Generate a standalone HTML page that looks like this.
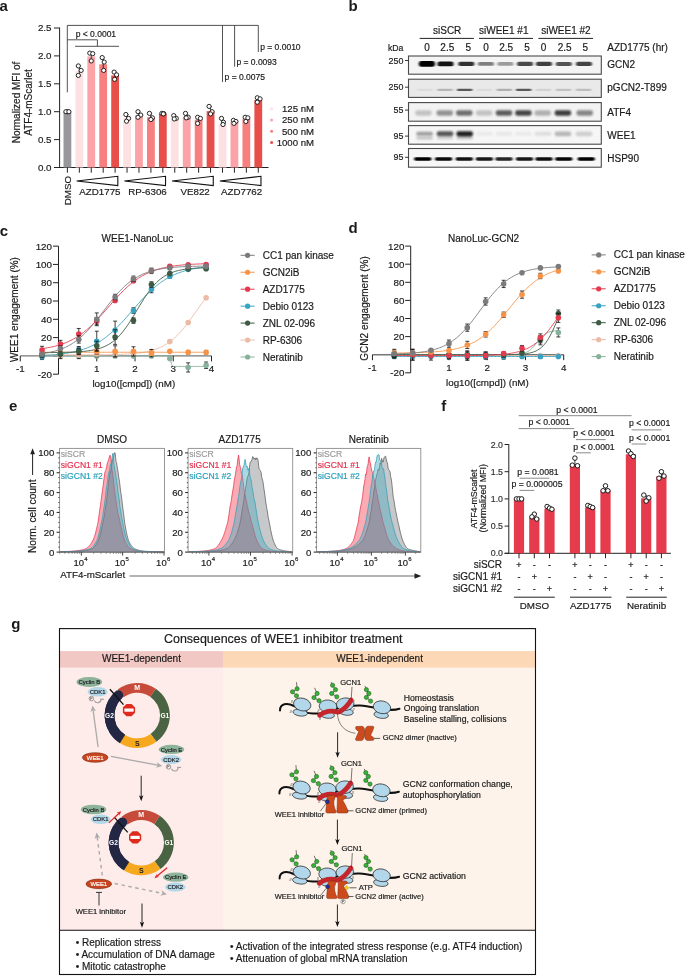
<!DOCTYPE html>
<html><head><meta charset="utf-8"><style>
html,body{margin:0;padding:0;background:#fff;}
body{width:685px;height:976px;overflow:hidden;}
svg{display:block;font-family:"Liberation Sans", sans-serif;will-change:transform;}
</style></head><body>
<svg width="685" height="976" viewBox="0 0 685 976">
<defs>
<filter id="bl1" x="-50%" y="-100%" width="200%" height="300%"><feGaussianBlur stdDeviation="1.0 0.7"/></filter>
<filter id="bl2" x="-50%" y="-100%" width="200%" height="300%"><feGaussianBlur stdDeviation="2 1.5"/></filter>
<filter id="bl3" x="-50%" y="-100%" width="200%" height="300%"><feGaussianBlur stdDeviation="1.3 1.1"/></filter>
</defs>
<g fill="#1a1a1a">
<text x="-0.60" y="10.70" font-size="15" font-weight="bold">a</text>
<line x1="59.60" y1="27.60" x2="59.60" y2="168.00" stroke="#222" stroke-width="1"/>
<line x1="54.00" y1="167.50" x2="59.60" y2="167.50" stroke="#222" stroke-width="1"/>
<text x="51.50" y="170.90" font-size="9.8" text-anchor="end" fill="#222" stroke="#222" stroke-width="0.18">0.0</text>
<line x1="54.00" y1="139.60" x2="59.60" y2="139.60" stroke="#222" stroke-width="1"/>
<text x="51.50" y="143.00" font-size="9.8" text-anchor="end" fill="#222" stroke="#222" stroke-width="0.18">0.5</text>
<line x1="54.00" y1="111.70" x2="59.60" y2="111.70" stroke="#222" stroke-width="1"/>
<text x="51.50" y="115.10" font-size="9.8" text-anchor="end" fill="#222" stroke="#222" stroke-width="0.18">1.0</text>
<line x1="54.00" y1="83.80" x2="59.60" y2="83.80" stroke="#222" stroke-width="1"/>
<text x="51.50" y="87.20" font-size="9.8" text-anchor="end" fill="#222" stroke="#222" stroke-width="0.18">1.5</text>
<line x1="54.00" y1="55.90" x2="59.60" y2="55.90" stroke="#222" stroke-width="1"/>
<text x="51.50" y="59.30" font-size="9.8" text-anchor="end" fill="#222" stroke="#222" stroke-width="0.18">2.0</text>
<line x1="54.00" y1="28.00" x2="59.60" y2="28.00" stroke="#222" stroke-width="1"/>
<text x="51.50" y="31.40" font-size="9.8" text-anchor="end" fill="#222" stroke="#222" stroke-width="0.18">2.5</text>
<line x1="54.00" y1="167.50" x2="268.50" y2="167.50" stroke="#222" stroke-width="1"/>
<rect x="63.50" y="111.70" width="7.80" height="55.80" fill="#98979c"/>
<line x1="67.40" y1="167.50" x2="67.40" y2="172.70" stroke="#222" stroke-width="1"/>
<rect x="75.43" y="70.97" width="7.80" height="96.53" fill="#fde0e2"/>
<line x1="79.33" y1="167.50" x2="79.33" y2="172.70" stroke="#222" stroke-width="1"/>
<rect x="87.36" y="56.46" width="7.80" height="111.04" fill="#fba3a6"/>
<line x1="91.26" y1="167.50" x2="91.26" y2="172.70" stroke="#222" stroke-width="1"/>
<rect x="99.29" y="64.27" width="7.80" height="103.23" fill="#f77f80"/>
<line x1="103.19" y1="167.50" x2="103.19" y2="172.70" stroke="#222" stroke-width="1"/>
<rect x="111.22" y="75.43" width="7.80" height="92.07" fill="#e84f4a"/>
<line x1="115.12" y1="167.50" x2="115.12" y2="172.70" stroke="#222" stroke-width="1"/>
<rect x="123.15" y="117.84" width="7.80" height="49.66" fill="#fde0e2"/>
<line x1="127.05" y1="167.50" x2="127.05" y2="172.70" stroke="#222" stroke-width="1"/>
<rect x="135.08" y="115.33" width="7.80" height="52.17" fill="#fba3a6"/>
<line x1="138.98" y1="167.50" x2="138.98" y2="172.70" stroke="#222" stroke-width="1"/>
<rect x="147.01" y="117.28" width="7.80" height="50.22" fill="#f77f80"/>
<line x1="150.91" y1="167.50" x2="150.91" y2="172.70" stroke="#222" stroke-width="1"/>
<rect x="158.94" y="113.93" width="7.80" height="53.57" fill="#e84f4a"/>
<line x1="162.84" y1="167.50" x2="162.84" y2="172.70" stroke="#222" stroke-width="1"/>
<rect x="170.87" y="118.40" width="7.80" height="49.10" fill="#fde0e2"/>
<line x1="174.77" y1="167.50" x2="174.77" y2="172.70" stroke="#222" stroke-width="1"/>
<rect x="182.80" y="116.72" width="7.80" height="50.78" fill="#fba3a6"/>
<line x1="186.70" y1="167.50" x2="186.70" y2="172.70" stroke="#222" stroke-width="1"/>
<rect x="194.73" y="119.68" width="7.80" height="47.82" fill="#f77f80"/>
<line x1="198.63" y1="167.50" x2="198.63" y2="172.70" stroke="#222" stroke-width="1"/>
<rect x="206.66" y="111.14" width="7.80" height="56.36" fill="#e84f4a"/>
<line x1="210.56" y1="167.50" x2="210.56" y2="172.70" stroke="#222" stroke-width="1"/>
<rect x="218.59" y="123.98" width="7.80" height="43.52" fill="#fde0e2"/>
<line x1="222.49" y1="167.50" x2="222.49" y2="172.70" stroke="#222" stroke-width="1"/>
<rect x="230.52" y="121.52" width="7.80" height="45.98" fill="#fba3a6"/>
<line x1="234.42" y1="167.50" x2="234.42" y2="172.70" stroke="#222" stroke-width="1"/>
<rect x="242.45" y="118.95" width="7.80" height="48.55" fill="#f77f80"/>
<line x1="246.35" y1="167.50" x2="246.35" y2="172.70" stroke="#222" stroke-width="1"/>
<rect x="254.38" y="99.98" width="7.80" height="67.52" fill="#e84f4a"/>
<line x1="258.28" y1="167.50" x2="258.28" y2="172.70" stroke="#222" stroke-width="1"/>
<circle cx="67.40" cy="111.70" r="2.10" fill="#fff" stroke="#111" stroke-width="0.9"/>
<circle cx="65.90" cy="111.70" r="2.10" fill="#fff" stroke="#111" stroke-width="0.9"/>
<circle cx="68.90" cy="111.70" r="2.10" fill="#fff" stroke="#111" stroke-width="0.9"/>
<line x1="79.33" y1="65.94" x2="79.33" y2="75.43" stroke="#111" stroke-width="0.8"/>
<line x1="78.03" y1="65.94" x2="80.63" y2="65.94" stroke="#111" stroke-width="0.8"/>
<line x1="78.03" y1="75.43" x2="80.63" y2="75.43" stroke="#111" stroke-width="0.8"/>
<circle cx="78.33" cy="65.94" r="2.10" fill="#fff" stroke="#111" stroke-width="0.9"/>
<circle cx="81.13" cy="70.41" r="2.10" fill="#fff" stroke="#111" stroke-width="0.9"/>
<circle cx="78.33" cy="75.43" r="2.10" fill="#fff" stroke="#111" stroke-width="0.9"/>
<line x1="91.26" y1="53.11" x2="91.26" y2="60.92" stroke="#111" stroke-width="0.8"/>
<line x1="89.96" y1="53.11" x2="92.56" y2="53.11" stroke="#111" stroke-width="0.8"/>
<line x1="89.96" y1="60.92" x2="92.56" y2="60.92" stroke="#111" stroke-width="0.8"/>
<circle cx="89.76" cy="53.11" r="2.10" fill="#fff" stroke="#111" stroke-width="0.9"/>
<circle cx="92.76" cy="53.67" r="2.10" fill="#fff" stroke="#111" stroke-width="0.9"/>
<circle cx="91.26" cy="60.92" r="2.10" fill="#fff" stroke="#111" stroke-width="0.9"/>
<line x1="103.19" y1="57.57" x2="103.19" y2="70.41" stroke="#111" stroke-width="0.8"/>
<line x1="101.89" y1="57.57" x2="104.49" y2="57.57" stroke="#111" stroke-width="0.8"/>
<line x1="101.89" y1="70.41" x2="104.49" y2="70.41" stroke="#111" stroke-width="0.8"/>
<circle cx="102.19" cy="57.57" r="2.10" fill="#fff" stroke="#111" stroke-width="0.9"/>
<circle cx="104.19" cy="62.04" r="2.10" fill="#fff" stroke="#111" stroke-width="0.9"/>
<circle cx="103.69" cy="70.41" r="2.10" fill="#fff" stroke="#111" stroke-width="0.9"/>
<line x1="115.12" y1="72.08" x2="115.12" y2="79.34" stroke="#111" stroke-width="0.8"/>
<line x1="113.82" y1="72.08" x2="116.42" y2="72.08" stroke="#111" stroke-width="0.8"/>
<line x1="113.82" y1="79.34" x2="116.42" y2="79.34" stroke="#111" stroke-width="0.8"/>
<circle cx="114.12" cy="72.08" r="2.10" fill="#fff" stroke="#111" stroke-width="0.9"/>
<circle cx="116.62" cy="74.87" r="2.10" fill="#fff" stroke="#111" stroke-width="0.9"/>
<circle cx="114.62" cy="79.34" r="2.10" fill="#fff" stroke="#111" stroke-width="0.9"/>
<line x1="127.05" y1="114.49" x2="127.05" y2="121.19" stroke="#111" stroke-width="0.8"/>
<line x1="125.75" y1="114.49" x2="128.35" y2="114.49" stroke="#111" stroke-width="0.8"/>
<line x1="125.75" y1="121.19" x2="128.35" y2="121.19" stroke="#111" stroke-width="0.8"/>
<circle cx="125.85" cy="114.49" r="2.10" fill="#fff" stroke="#111" stroke-width="0.9"/>
<circle cx="128.55" cy="118.40" r="2.10" fill="#fff" stroke="#111" stroke-width="0.9"/>
<circle cx="126.55" cy="121.19" r="2.10" fill="#fff" stroke="#111" stroke-width="0.9"/>
<line x1="138.98" y1="111.70" x2="138.98" y2="117.28" stroke="#111" stroke-width="0.8"/>
<line x1="137.68" y1="111.70" x2="140.28" y2="111.70" stroke="#111" stroke-width="0.8"/>
<line x1="137.68" y1="117.28" x2="140.28" y2="117.28" stroke="#111" stroke-width="0.8"/>
<circle cx="137.98" cy="111.70" r="2.10" fill="#fff" stroke="#111" stroke-width="0.9"/>
<circle cx="140.78" cy="115.05" r="2.10" fill="#fff" stroke="#111" stroke-width="0.9"/>
<circle cx="137.98" cy="117.28" r="2.10" fill="#fff" stroke="#111" stroke-width="0.9"/>
<line x1="150.91" y1="113.37" x2="150.91" y2="119.51" stroke="#111" stroke-width="0.8"/>
<line x1="149.61" y1="113.37" x2="152.21" y2="113.37" stroke="#111" stroke-width="0.8"/>
<line x1="149.61" y1="119.51" x2="152.21" y2="119.51" stroke="#111" stroke-width="0.8"/>
<circle cx="149.41" cy="113.37" r="2.10" fill="#fff" stroke="#111" stroke-width="0.9"/>
<circle cx="152.41" cy="117.84" r="2.10" fill="#fff" stroke="#111" stroke-width="0.9"/>
<circle cx="150.91" cy="119.51" r="2.10" fill="#fff" stroke="#111" stroke-width="0.9"/>
<line x1="162.84" y1="113.37" x2="162.84" y2="113.93" stroke="#111" stroke-width="0.8"/>
<line x1="161.54" y1="113.37" x2="164.14" y2="113.37" stroke="#111" stroke-width="0.8"/>
<line x1="161.54" y1="113.93" x2="164.14" y2="113.93" stroke="#111" stroke-width="0.8"/>
<circle cx="161.84" cy="113.37" r="2.10" fill="#fff" stroke="#111" stroke-width="0.9"/>
<circle cx="163.84" cy="113.65" r="2.10" fill="#fff" stroke="#111" stroke-width="0.9"/>
<circle cx="163.34" cy="113.93" r="2.10" fill="#fff" stroke="#111" stroke-width="0.9"/>
<line x1="174.77" y1="115.61" x2="174.77" y2="118.95" stroke="#111" stroke-width="0.8"/>
<line x1="173.47" y1="115.61" x2="176.07" y2="115.61" stroke="#111" stroke-width="0.8"/>
<line x1="173.47" y1="118.95" x2="176.07" y2="118.95" stroke="#111" stroke-width="0.8"/>
<circle cx="173.77" cy="115.61" r="2.10" fill="#fff" stroke="#111" stroke-width="0.9"/>
<circle cx="176.27" cy="118.40" r="2.10" fill="#fff" stroke="#111" stroke-width="0.9"/>
<circle cx="174.27" cy="118.95" r="2.10" fill="#fff" stroke="#111" stroke-width="0.9"/>
<line x1="186.70" y1="113.37" x2="186.70" y2="117.84" stroke="#111" stroke-width="0.8"/>
<line x1="185.40" y1="113.37" x2="188.00" y2="113.37" stroke="#111" stroke-width="0.8"/>
<line x1="185.40" y1="117.84" x2="188.00" y2="117.84" stroke="#111" stroke-width="0.8"/>
<circle cx="185.50" cy="113.37" r="2.10" fill="#fff" stroke="#111" stroke-width="0.9"/>
<circle cx="188.20" cy="117.28" r="2.10" fill="#fff" stroke="#111" stroke-width="0.9"/>
<circle cx="186.20" cy="117.84" r="2.10" fill="#fff" stroke="#111" stroke-width="0.9"/>
<line x1="198.63" y1="117.28" x2="198.63" y2="123.42" stroke="#111" stroke-width="0.8"/>
<line x1="197.33" y1="117.28" x2="199.93" y2="117.28" stroke="#111" stroke-width="0.8"/>
<line x1="197.33" y1="123.42" x2="199.93" y2="123.42" stroke="#111" stroke-width="0.8"/>
<circle cx="197.63" cy="117.28" r="2.10" fill="#fff" stroke="#111" stroke-width="0.9"/>
<circle cx="200.43" cy="118.40" r="2.10" fill="#fff" stroke="#111" stroke-width="0.9"/>
<circle cx="197.63" cy="123.42" r="2.10" fill="#fff" stroke="#111" stroke-width="0.9"/>
<line x1="210.56" y1="106.40" x2="210.56" y2="113.93" stroke="#111" stroke-width="0.8"/>
<line x1="209.26" y1="106.40" x2="211.86" y2="106.40" stroke="#111" stroke-width="0.8"/>
<line x1="209.26" y1="113.93" x2="211.86" y2="113.93" stroke="#111" stroke-width="0.8"/>
<circle cx="209.06" cy="106.40" r="2.10" fill="#fff" stroke="#111" stroke-width="0.9"/>
<circle cx="212.06" cy="111.70" r="2.10" fill="#fff" stroke="#111" stroke-width="0.9"/>
<circle cx="210.56" cy="113.93" r="2.10" fill="#fff" stroke="#111" stroke-width="0.9"/>
<line x1="222.49" y1="118.40" x2="222.49" y2="124.53" stroke="#111" stroke-width="0.8"/>
<line x1="221.19" y1="118.40" x2="223.79" y2="118.40" stroke="#111" stroke-width="0.8"/>
<line x1="221.19" y1="124.53" x2="223.79" y2="124.53" stroke="#111" stroke-width="0.8"/>
<circle cx="221.49" cy="118.40" r="2.10" fill="#fff" stroke="#111" stroke-width="0.9"/>
<circle cx="223.49" cy="122.30" r="2.10" fill="#fff" stroke="#111" stroke-width="0.9"/>
<circle cx="222.99" cy="124.53" r="2.10" fill="#fff" stroke="#111" stroke-width="0.9"/>
<line x1="234.42" y1="120.35" x2="234.42" y2="123.42" stroke="#111" stroke-width="0.8"/>
<line x1="233.12" y1="120.35" x2="235.72" y2="120.35" stroke="#111" stroke-width="0.8"/>
<line x1="233.12" y1="123.42" x2="235.72" y2="123.42" stroke="#111" stroke-width="0.8"/>
<circle cx="233.42" cy="120.35" r="2.10" fill="#fff" stroke="#111" stroke-width="0.9"/>
<circle cx="235.92" cy="121.47" r="2.10" fill="#fff" stroke="#111" stroke-width="0.9"/>
<circle cx="233.92" cy="123.42" r="2.10" fill="#fff" stroke="#111" stroke-width="0.9"/>
<line x1="246.35" y1="117.28" x2="246.35" y2="121.47" stroke="#111" stroke-width="0.8"/>
<line x1="245.05" y1="117.28" x2="247.65" y2="117.28" stroke="#111" stroke-width="0.8"/>
<line x1="245.05" y1="121.47" x2="247.65" y2="121.47" stroke="#111" stroke-width="0.8"/>
<circle cx="245.15" cy="117.28" r="2.10" fill="#fff" stroke="#111" stroke-width="0.9"/>
<circle cx="247.85" cy="117.84" r="2.10" fill="#fff" stroke="#111" stroke-width="0.9"/>
<circle cx="245.85" cy="121.47" r="2.10" fill="#fff" stroke="#111" stroke-width="0.9"/>
<line x1="258.28" y1="97.75" x2="258.28" y2="102.21" stroke="#111" stroke-width="0.8"/>
<line x1="256.98" y1="97.75" x2="259.58" y2="97.75" stroke="#111" stroke-width="0.8"/>
<line x1="256.98" y1="102.21" x2="259.58" y2="102.21" stroke="#111" stroke-width="0.8"/>
<circle cx="257.28" cy="97.75" r="2.10" fill="#fff" stroke="#111" stroke-width="0.9"/>
<circle cx="260.08" cy="98.87" r="2.10" fill="#fff" stroke="#111" stroke-width="0.9"/>
<circle cx="257.28" cy="102.21" r="2.10" fill="#fff" stroke="#111" stroke-width="0.9"/>
<path d="M76.63,181 L117.82,176.3 L117.82,185.6 Z" fill="none" stroke="#111" stroke-width="1.1" stroke-linejoin="miter"/>
<path d="M124.35,181 L165.54,176.3 L165.54,185.6 Z" fill="none" stroke="#111" stroke-width="1.1" stroke-linejoin="miter"/>
<path d="M172.07,181 L213.26,176.3 L213.26,185.6 Z" fill="none" stroke="#111" stroke-width="1.1" stroke-linejoin="miter"/>
<path d="M219.79,181 L260.98,176.3 L260.98,185.6 Z" fill="none" stroke="#111" stroke-width="1.1" stroke-linejoin="miter"/>
<text x="79.30" y="195.00" font-size="9.75" stroke="#1a1a1a" stroke-width="0.18">AZD1775</text>
<text x="128.30" y="195.00" font-size="9.75" stroke="#1a1a1a" stroke-width="0.18">RP-6306</text>
<text x="180.50" y="195.00" font-size="9.75" stroke="#1a1a1a" stroke-width="0.18">VE822</text>
<text x="221.00" y="195.00" font-size="9.75" stroke="#1a1a1a" stroke-width="0.18">AZD7762</text>
<text x="71.00" y="176.00" font-size="9.75" text-anchor="end" stroke="#1a1a1a" stroke-width="0.18" transform="rotate(-90 71.00 176.00)">DMSO</text>
<text x="20.00" y="102.50" font-size="10" text-anchor="middle" stroke="#1a1a1a" stroke-width="0.18" transform="rotate(-90 20.00 102.50)">Normalized MFI of</text>
<text x="32.20" y="102.50" font-size="10" text-anchor="middle" stroke="#1a1a1a" stroke-width="0.18" transform="rotate(-90 32.20 102.50)">ATF4-mScarlet</text>
<path d="M67.30,92.30 L67.30,25.40 L258.30,25.40 L258.30,52.00" fill="none" stroke="#333" stroke-width="0.85"/>
<line x1="222.50" y1="25.40" x2="222.50" y2="82.10" stroke="#333" stroke-width="0.85"/>
<line x1="234.60" y1="25.40" x2="234.60" y2="66.70" stroke="#333" stroke-width="0.85"/>
<path d="M67.30,39.80 L97.40,39.80 L97.40,46.30" fill="none" stroke="#333" stroke-width="0.85"/>
<line x1="75.10" y1="46.30" x2="119.00" y2="46.30" stroke="#333" stroke-width="0.85"/>
<text x="75.70" y="36.60" font-size="8.5" stroke="#1a1a1a" stroke-width="0.18">p &lt; 0.0001</text>
<text x="260.20" y="50.00" font-size="8.5" stroke="#1a1a1a" stroke-width="0.18">p = 0.0010</text>
<text x="236.40" y="64.60" font-size="8.5" stroke="#1a1a1a" stroke-width="0.18">p = 0.0093</text>
<text x="224.60" y="79.50" font-size="8.5" stroke="#1a1a1a" stroke-width="0.18">p = 0.0075</text>
<circle cx="271.60" cy="108.80" r="1.50" fill="#fde0e2"/>
<text x="314.00" y="112.10" font-size="9.6" text-anchor="end" stroke="#1a1a1a" stroke-width="0.18">125 nM</text>
<circle cx="271.60" cy="120.00" r="1.50" fill="#fba3a6"/>
<text x="314.00" y="123.30" font-size="9.6" text-anchor="end" stroke="#1a1a1a" stroke-width="0.18">250 nM</text>
<circle cx="271.60" cy="131.20" r="1.50" fill="#f77f80"/>
<text x="314.00" y="134.50" font-size="9.6" text-anchor="end" stroke="#1a1a1a" stroke-width="0.18">500 nM</text>
<circle cx="271.60" cy="142.40" r="1.50" fill="#e84f4a"/>
<text x="314.00" y="145.70" font-size="9.6" text-anchor="end" stroke="#1a1a1a" stroke-width="0.18">1000 nM</text>
<text x="348.60" y="10.70" font-size="15" font-weight="bold">b</text>
<text x="433.00" y="34.30" font-size="10" stroke="#1a1a1a" stroke-width="0.18">siSCR</text>
<text x="479.00" y="34.30" font-size="10" stroke="#1a1a1a" stroke-width="0.18">siWEE1 #1</text>
<text x="541.20" y="34.30" font-size="10" stroke="#1a1a1a" stroke-width="0.18">siWEE1 #2</text>
<line x1="419.70" y1="38.40" x2="473.90" y2="38.40" stroke="#222" stroke-width="1"/>
<line x1="479.00" y1="38.40" x2="533.00" y2="38.40" stroke="#222" stroke-width="1"/>
<line x1="538.40" y1="38.40" x2="593.00" y2="38.40" stroke="#222" stroke-width="1"/>
<text x="388.00" y="51.20" font-size="8.7" stroke="#1a1a1a" stroke-width="0.18">kDa</text>
<text x="427.00" y="51.30" font-size="10" text-anchor="middle" stroke="#1a1a1a" stroke-width="0.18">0</text>
<text x="447.30" y="51.30" font-size="10" text-anchor="middle" stroke="#1a1a1a" stroke-width="0.18">2.5</text>
<text x="468.30" y="51.30" font-size="10" text-anchor="middle" stroke="#1a1a1a" stroke-width="0.18">5</text>
<text x="486.10" y="51.30" font-size="10" text-anchor="middle" stroke="#1a1a1a" stroke-width="0.18">0</text>
<text x="506.20" y="51.30" font-size="10" text-anchor="middle" stroke="#1a1a1a" stroke-width="0.18">2.5</text>
<text x="527.00" y="51.30" font-size="10" text-anchor="middle" stroke="#1a1a1a" stroke-width="0.18">5</text>
<text x="543.50" y="51.30" font-size="10" text-anchor="middle" stroke="#1a1a1a" stroke-width="0.18">0</text>
<text x="564.60" y="51.30" font-size="10" text-anchor="middle" stroke="#1a1a1a" stroke-width="0.18">2.5</text>
<text x="585.40" y="51.30" font-size="10" text-anchor="middle" stroke="#1a1a1a" stroke-width="0.18">5</text>
<text x="607.30" y="51.30" font-size="10" stroke="#1a1a1a" stroke-width="0.18">AZD1775 (hr)</text>
<rect x="408.50" y="56.00" width="192.80" height="18.20" fill="#f4f4f4"/>
<g filter="url(#bl1)">
<rect x="418.90" y="61.00" width="16.00" height="5.80" fill="#000" rx="2.32" fill-opacity="1.00"/>
<rect x="437.50" y="61.50" width="16.00" height="4.80" fill="#000" rx="1.92" fill-opacity="0.92"/>
<rect x="458.30" y="61.70" width="16.00" height="4.40" fill="#000" rx="1.76" fill-opacity="0.80"/>
<rect x="477.90" y="62.00" width="16.00" height="3.80" fill="#000" rx="1.52" fill-opacity="0.48"/>
<rect x="497.40" y="62.00" width="16.00" height="3.80" fill="#000" rx="1.52" fill-opacity="0.36"/>
<rect x="517.00" y="61.80" width="16.00" height="4.20" fill="#000" rx="1.68" fill-opacity="0.70"/>
<rect x="536.00" y="61.80" width="16.00" height="4.20" fill="#000" rx="1.68" fill-opacity="0.74"/>
<rect x="555.80" y="61.90" width="16.00" height="4.00" fill="#000" rx="1.60" fill-opacity="0.66"/>
<rect x="576.00" y="61.80" width="16.00" height="4.20" fill="#000" rx="1.68" fill-opacity="0.72"/>
</g>
<rect x="408.50" y="56.00" width="192.80" height="18.20" fill="none" stroke="#4a4a4a" stroke-width="1.1"/>
<line x1="405.00" y1="60.50" x2="408.50" y2="60.50" stroke="#222" stroke-width="0.9"/>
<text x="403.40" y="63.60" font-size="8.9" text-anchor="end" stroke="#1a1a1a" stroke-width="0.18">250</text>
<text x="607.30" y="68.40" font-size="10" stroke="#1a1a1a" stroke-width="0.18">GCN2</text>
<rect x="408.50" y="79.20" width="192.80" height="18.20" fill="#e9e9e9"/>
<g filter="url(#bl1)">
<rect x="417.25" y="88.70" width="15.50" height="2.20" fill="#000" rx="0.88" fill-opacity="0.06"/>
<rect x="437.25" y="88.70" width="15.50" height="2.20" fill="#000" rx="0.88" fill-opacity="0.22"/>
<rect x="456.95" y="88.70" width="15.50" height="2.20" fill="#000" rx="0.88" fill-opacity="0.62"/>
<rect x="476.75" y="88.70" width="15.50" height="2.20" fill="#000" rx="0.88" fill-opacity="0.06"/>
<rect x="496.55" y="88.70" width="15.50" height="2.20" fill="#000" rx="0.88" fill-opacity="0.25"/>
<rect x="515.95" y="88.70" width="15.50" height="2.20" fill="#000" rx="0.88" fill-opacity="0.62"/>
<rect x="535.75" y="88.70" width="15.50" height="2.20" fill="#000" rx="0.88" fill-opacity="0.10"/>
<rect x="555.75" y="88.70" width="15.50" height="2.20" fill="#000" rx="0.88" fill-opacity="0.17"/>
<rect x="575.75" y="88.70" width="15.50" height="2.20" fill="#000" rx="0.88" fill-opacity="0.19"/>
</g>
<rect x="408.50" y="79.20" width="192.80" height="18.20" fill="none" stroke="#4a4a4a" stroke-width="1.1"/>
<line x1="405.00" y1="87.20" x2="408.50" y2="87.20" stroke="#222" stroke-width="0.9"/>
<text x="403.40" y="90.30" font-size="8.9" text-anchor="end" stroke="#1a1a1a" stroke-width="0.18">250</text>
<text x="607.30" y="91.20" font-size="10" stroke="#1a1a1a" stroke-width="0.18">pGCN2-T899</text>
<rect x="408.50" y="102.60" width="192.80" height="18.60" fill="#f3f3f3"/>
<g filter="url(#bl3)">
<rect x="415.25" y="110.30" width="16.50" height="5.40" fill="#000" rx="2.16" fill-opacity="0.20"/>
<rect x="436.45" y="110.30" width="16.50" height="5.40" fill="#000" rx="2.16" fill-opacity="0.40"/>
<rect x="456.05" y="110.30" width="16.50" height="5.40" fill="#000" rx="2.16" fill-opacity="0.55"/>
<rect x="475.85" y="110.30" width="16.50" height="5.40" fill="#000" rx="2.16" fill-opacity="0.20"/>
<rect x="495.75" y="110.30" width="16.50" height="5.40" fill="#000" rx="2.16" fill-opacity="0.62"/>
<rect x="515.15" y="110.30" width="16.50" height="5.40" fill="#000" rx="2.16" fill-opacity="0.72"/>
<rect x="534.45" y="110.30" width="16.50" height="5.40" fill="#000" rx="2.16" fill-opacity="0.28"/>
<rect x="554.65" y="110.30" width="16.50" height="5.40" fill="#000" rx="2.16" fill-opacity="0.75"/>
<rect x="576.45" y="110.30" width="16.50" height="5.40" fill="#000" rx="2.16" fill-opacity="0.45"/>
</g>
<rect x="408.50" y="102.60" width="192.80" height="18.60" fill="none" stroke="#4a4a4a" stroke-width="1.1"/>
<line x1="405.00" y1="110.10" x2="408.50" y2="110.10" stroke="#222" stroke-width="0.9"/>
<text x="403.40" y="113.20" font-size="8.9" text-anchor="end" stroke="#1a1a1a" stroke-width="0.18">55</text>
<text x="607.30" y="115.60" font-size="10" stroke="#1a1a1a" stroke-width="0.18">ATF4</text>
<rect x="408.50" y="125.60" width="192.80" height="18.60" fill="#f6f6f6"/>
<g filter="url(#bl3)">
<rect x="416.35" y="131.80" width="16.50" height="4.00" fill="#000" rx="1.60" fill-opacity="0.36"/>
<rect x="436.75" y="131.30" width="16.50" height="5.00" fill="#000" rx="2.00" fill-opacity="0.66"/>
<rect x="456.45" y="131.20" width="16.50" height="5.20" fill="#000" rx="2.08" fill-opacity="0.88"/>
<rect x="476.25" y="131.80" width="16.50" height="4.00" fill="#000" rx="1.60" fill-opacity="0.05"/>
<rect x="495.75" y="131.80" width="16.50" height="4.00" fill="#000" rx="1.60" fill-opacity="0.06"/>
<rect x="515.25" y="131.80" width="16.50" height="4.00" fill="#000" rx="1.60" fill-opacity="0.05"/>
<rect x="534.75" y="131.80" width="16.50" height="4.00" fill="#000" rx="1.60" fill-opacity="0.10"/>
<rect x="554.75" y="131.40" width="16.50" height="4.80" fill="#000" rx="1.92" fill-opacity="0.26"/>
<rect x="575.75" y="131.40" width="16.50" height="4.80" fill="#000" rx="1.92" fill-opacity="0.16"/>
<rect x="416.35" y="137.00" width="16.50" height="2.20" fill="#000" rx="1" fill-opacity="0.25"/>
<rect x="436.75" y="137.00" width="16.50" height="2.20" fill="#000" rx="1" fill-opacity="0.18"/>
<rect x="456.45" y="137.00" width="16.50" height="2.20" fill="#000" rx="1" fill-opacity="0.22"/>
</g>
<rect x="408.50" y="125.60" width="192.80" height="18.60" fill="none" stroke="#4a4a4a" stroke-width="1.1"/>
<line x1="405.00" y1="136.10" x2="408.50" y2="136.10" stroke="#222" stroke-width="0.9"/>
<text x="403.40" y="139.20" font-size="8.9" text-anchor="end" stroke="#1a1a1a" stroke-width="0.18">95</text>
<text x="607.30" y="139.20" font-size="10" stroke="#1a1a1a" stroke-width="0.18">WEE1</text>
<rect x="408.50" y="148.50" width="192.80" height="18.70" fill="#f7f7f7"/>
<g filter="url(#bl1)">
<rect x="414.30" y="157.15" width="17.00" height="3.50" fill="#000" rx="1.40" fill-opacity="1.00"/>
<rect x="435.10" y="157.15" width="17.00" height="3.50" fill="#000" rx="1.40" fill-opacity="0.96"/>
<rect x="455.80" y="157.15" width="17.00" height="3.50" fill="#000" rx="1.40" fill-opacity="0.93"/>
<rect x="475.90" y="157.15" width="17.00" height="3.50" fill="#000" rx="1.40" fill-opacity="0.90"/>
<rect x="495.50" y="157.15" width="17.00" height="3.50" fill="#000" rx="1.40" fill-opacity="0.85"/>
<rect x="516.00" y="157.15" width="17.00" height="3.50" fill="#000" rx="1.40" fill-opacity="0.90"/>
<rect x="535.50" y="157.15" width="17.00" height="3.50" fill="#000" rx="1.40" fill-opacity="0.94"/>
<rect x="555.30" y="157.15" width="17.00" height="3.50" fill="#000" rx="1.40" fill-opacity="0.98"/>
<rect x="577.70" y="157.15" width="17.00" height="3.50" fill="#000" rx="1.40" fill-opacity="1.00"/>
</g>
<rect x="408.50" y="148.50" width="192.80" height="18.70" fill="none" stroke="#4a4a4a" stroke-width="1.1"/>
<line x1="405.00" y1="157.30" x2="408.50" y2="157.30" stroke="#222" stroke-width="0.9"/>
<text x="403.40" y="160.40" font-size="8.9" text-anchor="end" stroke="#1a1a1a" stroke-width="0.18">95</text>
<text x="607.30" y="162.40" font-size="10" stroke="#1a1a1a" stroke-width="0.18">HSP90</text>
<text x="-0.20" y="235.60" font-size="15" font-weight="bold">c</text>
<line x1="58.50" y1="246.14" x2="58.50" y2="374.19" stroke="#222" stroke-width="1"/>
<line x1="53.00" y1="374.19" x2="58.50" y2="374.19" stroke="#222" stroke-width="1"/>
<text x="52.00" y="377.59" font-size="9.8" text-anchor="end" stroke="#1a1a1a" stroke-width="0.18">-20</text>
<line x1="53.00" y1="355.90" x2="58.50" y2="355.90" stroke="#222" stroke-width="1"/>
<line x1="53.00" y1="337.61" x2="58.50" y2="337.61" stroke="#222" stroke-width="1"/>
<text x="52.00" y="341.01" font-size="9.8" text-anchor="end" stroke="#1a1a1a" stroke-width="0.18">20</text>
<line x1="53.00" y1="319.31" x2="58.50" y2="319.31" stroke="#222" stroke-width="1"/>
<text x="52.00" y="322.71" font-size="9.8" text-anchor="end" stroke="#1a1a1a" stroke-width="0.18">40</text>
<line x1="53.00" y1="301.02" x2="58.50" y2="301.02" stroke="#222" stroke-width="1"/>
<text x="52.00" y="304.42" font-size="9.8" text-anchor="end" stroke="#1a1a1a" stroke-width="0.18">60</text>
<line x1="53.00" y1="282.72" x2="58.50" y2="282.72" stroke="#222" stroke-width="1"/>
<text x="52.00" y="286.12" font-size="9.8" text-anchor="end" stroke="#1a1a1a" stroke-width="0.18">80</text>
<line x1="53.00" y1="264.43" x2="58.50" y2="264.43" stroke="#222" stroke-width="1"/>
<text x="52.00" y="267.83" font-size="9.8" text-anchor="end" stroke="#1a1a1a" stroke-width="0.18">100</text>
<line x1="53.00" y1="246.14" x2="58.50" y2="246.14" stroke="#222" stroke-width="1"/>
<text x="52.00" y="249.54" font-size="9.8" text-anchor="end" stroke="#1a1a1a" stroke-width="0.18">120</text>
<line x1="20.25" y1="355.90" x2="211.50" y2="355.90" stroke="#777" stroke-width="1.4"/>
<line x1="20.25" y1="355.90" x2="20.25" y2="361.40" stroke="#222" stroke-width="1"/>
<text x="20.25" y="371.80" font-size="9.8" text-anchor="middle" stroke="#1a1a1a" stroke-width="0.18">-1</text>
<line x1="96.75" y1="355.90" x2="96.75" y2="361.40" stroke="#222" stroke-width="1"/>
<text x="96.75" y="371.80" font-size="9.8" text-anchor="middle" stroke="#1a1a1a" stroke-width="0.18">1</text>
<line x1="135.00" y1="355.90" x2="135.00" y2="361.40" stroke="#222" stroke-width="1"/>
<text x="135.00" y="371.80" font-size="9.8" text-anchor="middle" stroke="#1a1a1a" stroke-width="0.18">2</text>
<line x1="173.25" y1="355.90" x2="173.25" y2="361.40" stroke="#222" stroke-width="1"/>
<text x="173.25" y="371.80" font-size="9.8" text-anchor="middle" stroke="#1a1a1a" stroke-width="0.18">3</text>
<line x1="211.50" y1="355.90" x2="211.50" y2="361.40" stroke="#222" stroke-width="1"/>
<text x="211.50" y="371.80" font-size="9.8" text-anchor="middle" stroke="#1a1a1a" stroke-width="0.18">4</text>
<text x="137.40" y="241.60" font-size="10" text-anchor="middle" stroke="#1a1a1a" stroke-width="0.18">WEE1-NanoLuc</text>
<text x="133.80" y="386.80" font-size="9.8" text-anchor="middle" stroke="#1a1a1a" stroke-width="0.18">log10([cmpd]) (nM)</text>
<text x="17.60" y="309.60" font-size="10" text-anchor="middle" stroke="#1a1a1a" stroke-width="0.18" transform="rotate(-90 17.60 309.60)">WEE1 engagement (%)</text>
<path d="M42.05,355.90 L43.43,355.90 L44.81,355.90 L46.19,355.90 L47.57,355.90 L48.95,355.90 L50.33,355.90 L51.70,355.90 L53.08,355.90 L54.46,355.90 L55.84,355.90 L57.22,355.90 L58.60,355.90 L59.98,355.90 L61.36,355.90 L62.74,355.90 L64.12,355.90 L65.49,355.90 L66.87,355.90 L68.25,355.90 L69.63,355.90 L71.01,355.90 L72.39,355.90 L73.77,355.90 L75.15,355.90 L76.53,355.90 L77.90,355.90 L79.28,355.90 L80.66,355.90 L82.04,355.90 L83.42,355.90 L84.80,355.90 L86.18,355.90 L87.56,355.90 L88.94,355.90 L90.31,355.90 L91.69,355.90 L93.07,355.90 L94.45,355.90 L95.83,355.90 L97.21,355.90 L98.59,355.90 L99.97,355.90 L101.35,355.90 L102.73,355.90 L104.10,355.90 L105.48,355.90 L106.86,355.90 L108.24,355.90 L109.62,355.90 L111.00,355.90 L112.38,355.90 L113.76,355.90 L115.14,355.90 L116.51,355.90 L117.89,355.90 L119.27,355.90 L120.65,355.90 L122.03,355.90 L123.41,355.90 L124.79,355.90 L126.17,355.90 L127.55,355.90 L128.93,355.90 L130.30,355.90 L131.68,355.90 L133.06,355.90 L134.44,355.90 L135.82,355.90 L137.20,355.90 L138.58,355.90 L139.96,355.90 L141.34,355.90 L142.71,355.90 L144.09,355.90 L145.47,355.90 L146.85,355.90 L148.23,355.90 L149.61,355.90 L150.99,355.90 L152.37,355.90 L153.75,355.90 L155.12,355.90 L156.50,355.90 L157.88,355.90 L159.26,355.90 L160.64,355.90 L162.02,355.90 L163.40,355.90 L164.78,355.90 L166.16,355.90 L167.53,355.93 L168.91,356.26 L170.29,359.05 L171.67,364.71 L173.05,366.25 L174.43,366.41 L175.81,366.42 L177.19,366.42 L178.57,366.42 L179.95,366.42 L181.32,366.42 L182.70,366.42 L184.08,366.42 L185.46,366.42 L186.84,366.42 L188.22,366.42 L189.60,366.42 L190.98,366.42 L192.36,366.42 L193.73,366.42 L195.11,366.42 L196.49,366.42 L197.87,366.42 L199.25,366.42 L200.63,366.42 L202.01,366.42 L203.39,366.42 L204.77,366.42 L206.14,366.42" fill="none" stroke="#88b19b" stroke-width="0.9"/>
<path d="M42.05,354.93 L43.43,354.93 L44.81,354.93 L46.19,354.93 L47.57,354.93 L48.95,354.93 L50.33,354.93 L51.70,354.93 L53.08,354.93 L54.46,354.93 L55.84,354.93 L57.22,354.93 L58.60,354.93 L59.98,354.92 L61.36,354.92 L62.74,354.92 L64.12,354.92 L65.49,354.92 L66.87,354.92 L68.25,354.92 L69.63,354.91 L71.01,354.91 L72.39,354.91 L73.77,354.91 L75.15,354.91 L76.53,354.90 L77.90,354.90 L79.28,354.90 L80.66,354.89 L82.04,354.89 L83.42,354.88 L84.80,354.88 L86.18,354.87 L87.56,354.87 L88.94,354.86 L90.31,354.86 L91.69,354.85 L93.07,354.84 L94.45,354.83 L95.83,354.82 L97.21,354.81 L98.59,354.80 L99.97,354.78 L101.35,354.77 L102.73,354.75 L104.10,354.74 L105.48,354.72 L106.86,354.70 L108.24,354.67 L109.62,354.65 L111.00,354.62 L112.38,354.59 L113.76,354.56 L115.14,354.52 L116.51,354.48 L117.89,354.44 L119.27,354.39 L120.65,354.34 L122.03,354.29 L123.41,354.23 L124.79,354.16 L126.17,354.08 L127.55,354.00 L128.93,353.92 L130.30,353.82 L131.68,353.71 L133.06,353.60 L134.44,353.47 L135.82,353.34 L137.20,353.19 L138.58,353.02 L139.96,352.84 L141.34,352.65 L142.71,352.43 L144.09,352.20 L145.47,351.95 L146.85,351.68 L148.23,351.38 L149.61,351.05 L150.99,350.70 L152.37,350.31 L153.75,349.90 L155.12,349.44 L156.50,348.96 L157.88,348.43 L159.26,347.85 L160.64,347.24 L162.02,346.57 L163.40,345.86 L164.78,345.09 L166.16,344.26 L167.53,343.38 L168.91,342.43 L170.29,341.42 L171.67,340.35 L173.05,339.21 L174.43,338.01 L175.81,336.73 L177.19,335.39 L178.57,333.97 L179.95,332.50 L181.32,330.95 L182.70,329.34 L184.08,327.68 L185.46,325.95 L186.84,324.18 L188.22,322.36 L189.60,320.50 L190.98,318.61 L192.36,316.69 L193.73,314.75 L195.11,312.81 L196.49,310.86 L197.87,308.92 L199.25,306.99 L200.63,305.09 L202.01,303.21 L203.39,301.37 L204.77,299.58 L206.14,297.83" fill="none" stroke="#ebbba6" stroke-width="0.9"/>
<path d="M42.05,352.24 L43.43,352.24 L44.81,352.24 L46.19,352.24 L47.57,352.24 L48.95,352.24 L50.33,352.24 L51.70,352.24 L53.08,352.24 L54.46,352.24 L55.84,352.24 L57.22,352.24 L58.60,352.24 L59.98,352.24 L61.36,352.24 L62.74,352.24 L64.12,352.24 L65.49,352.24 L66.87,352.24 L68.25,352.24 L69.63,352.24 L71.01,352.24 L72.39,352.24 L73.77,352.24 L75.15,352.24 L76.53,352.24 L77.90,352.24 L79.28,352.24 L80.66,352.24 L82.04,352.24 L83.42,352.24 L84.80,352.24 L86.18,352.24 L87.56,352.24 L88.94,352.24 L90.31,352.24 L91.69,352.24 L93.07,352.24 L94.45,352.24 L95.83,352.24 L97.21,352.24 L98.59,352.24 L99.97,352.24 L101.35,352.24 L102.73,352.24 L104.10,352.24 L105.48,352.24 L106.86,352.24 L108.24,352.24 L109.62,352.24 L111.00,352.24 L112.38,352.24 L113.76,352.24 L115.14,352.24 L116.51,352.24 L117.89,352.24 L119.27,352.24 L120.65,352.24 L122.03,352.24 L123.41,352.24 L124.79,352.24 L126.17,352.24 L127.55,352.24 L128.93,352.24 L130.30,352.24 L131.68,352.24 L133.06,352.24 L134.44,352.24 L135.82,352.24 L137.20,352.24 L138.58,352.24 L139.96,352.24 L141.34,352.24 L142.71,352.24 L144.09,352.24 L145.47,352.24 L146.85,352.24 L148.23,352.24 L149.61,352.24 L150.99,352.24 L152.37,352.24 L153.75,352.24 L155.12,352.24 L156.50,352.24 L157.88,352.24 L159.26,352.24 L160.64,352.24 L162.02,352.24 L163.40,352.24 L164.78,352.24 L166.16,352.24 L167.53,352.24 L168.91,352.24 L170.29,352.24 L171.67,352.24 L173.05,352.24 L174.43,352.24 L175.81,352.24 L177.19,352.24 L178.57,352.24 L179.95,352.24 L181.32,352.24 L182.70,352.24 L184.08,352.24 L185.46,352.24 L186.84,352.24 L188.22,352.24 L189.60,352.24 L190.98,352.24 L192.36,352.24 L193.73,352.24 L195.11,352.24 L196.49,352.24 L197.87,352.24 L199.25,352.24 L200.63,352.24 L202.01,352.24 L203.39,352.24 L204.77,352.24 L206.14,352.24" fill="none" stroke="#f79347" stroke-width="0.9"/>
<path d="M42.05,355.55 L43.43,355.48 L44.81,355.40 L46.19,355.32 L47.57,355.24 L48.95,355.15 L50.33,355.05 L51.70,354.95 L53.08,354.83 L54.46,354.71 L55.84,354.59 L57.22,354.45 L58.60,354.31 L59.98,354.15 L61.36,353.98 L62.74,353.81 L64.12,353.62 L65.49,353.42 L66.87,353.20 L68.25,352.97 L69.63,352.73 L71.01,352.47 L72.39,352.19 L73.77,351.89 L75.15,351.58 L76.53,351.25 L77.90,350.89 L79.28,350.51 L80.66,350.11 L82.04,349.69 L83.42,349.24 L84.80,348.76 L86.18,348.25 L87.56,347.71 L88.94,347.15 L90.31,346.55 L91.69,345.92 L93.07,345.25 L94.45,344.55 L95.83,343.81 L97.21,343.03 L98.59,342.22 L99.97,341.36 L101.35,340.47 L102.73,339.53 L104.10,338.55 L105.48,337.53 L106.86,336.47 L108.24,335.36 L109.62,334.21 L111.00,333.03 L112.38,331.80 L113.76,330.53 L115.14,329.22 L116.51,327.87 L117.89,326.49 L119.27,325.08 L120.65,323.64 L122.03,322.16 L123.41,320.66 L124.79,319.14 L126.17,317.60 L127.55,316.04 L128.93,314.47 L130.30,312.89 L131.68,311.31 L133.06,309.72 L134.44,308.14 L135.82,306.56 L137.20,304.99 L138.58,303.44 L139.96,301.90 L141.34,300.38 L142.71,298.88 L144.09,297.41 L145.47,295.97 L146.85,294.57 L148.23,293.19 L149.61,291.85 L150.99,290.55 L152.37,289.29 L153.75,288.06 L155.12,286.88 L156.50,285.74 L157.88,284.64 L159.26,283.58 L160.64,282.57 L162.02,281.60 L163.40,280.67 L164.78,279.78 L166.16,278.93 L167.53,278.12 L168.91,277.35 L170.29,276.61 L171.67,275.92 L173.05,275.25 L174.43,274.63 L175.81,274.03 L177.19,273.47 L178.57,272.94 L179.95,272.44 L181.32,271.96 L182.70,271.52 L184.08,271.10 L185.46,270.70 L186.84,270.32 L188.22,269.97 L189.60,269.64 L190.98,269.33 L192.36,269.04 L193.73,268.76 L195.11,268.50 L196.49,268.26 L197.87,268.03 L199.25,267.82 L200.63,267.62 L202.01,267.44 L203.39,267.26 L204.77,267.10 L206.14,266.94" fill="none" stroke="#37a2c2" stroke-width="0.9"/>
<path d="M42.05,352.60 L43.43,352.59 L44.81,352.59 L46.19,352.58 L47.57,352.57 L48.95,352.57 L50.33,352.56 L51.70,352.55 L53.08,352.53 L54.46,352.52 L55.84,352.51 L57.22,352.49 L58.60,352.47 L59.98,352.45 L61.36,352.43 L62.74,352.40 L64.12,352.38 L65.49,352.35 L66.87,352.31 L68.25,352.27 L69.63,352.23 L71.01,352.18 L72.39,352.13 L73.77,352.07 L75.15,352.00 L76.53,351.93 L77.90,351.85 L79.28,351.76 L80.66,351.66 L82.04,351.54 L83.42,351.42 L84.80,351.28 L86.18,351.13 L87.56,350.95 L88.94,350.76 L90.31,350.55 L91.69,350.32 L93.07,350.06 L94.45,349.77 L95.83,349.46 L97.21,349.11 L98.59,348.72 L99.97,348.29 L101.35,347.82 L102.73,347.30 L104.10,346.73 L105.48,346.10 L106.86,345.41 L108.24,344.66 L109.62,343.84 L111.00,342.95 L112.38,341.97 L113.76,340.92 L115.14,339.77 L116.51,338.54 L117.89,337.22 L119.27,335.80 L120.65,334.28 L122.03,332.67 L123.41,330.96 L124.79,329.15 L126.17,327.26 L127.55,325.28 L128.93,323.23 L130.30,321.10 L131.68,318.91 L133.06,316.68 L134.44,314.40 L135.82,312.10 L137.20,309.79 L138.58,307.47 L139.96,305.18 L141.34,302.91 L142.71,300.68 L144.09,298.50 L145.47,296.39 L146.85,294.35 L148.23,292.39 L149.61,290.51 L150.99,288.73 L152.37,287.03 L153.75,285.44 L155.12,283.94 L156.50,282.54 L157.88,281.23 L159.26,280.02 L160.64,278.89 L162.02,277.85 L163.40,276.89 L164.78,276.01 L166.16,275.21 L167.53,274.47 L168.91,273.79 L170.29,273.18 L171.67,272.61 L173.05,272.10 L174.43,271.64 L175.81,271.22 L177.19,270.84 L178.57,270.50 L179.95,270.19 L181.32,269.91 L182.70,269.65 L184.08,269.42 L185.46,269.22 L186.84,269.03 L188.22,268.86 L189.60,268.71 L190.98,268.57 L192.36,268.45 L193.73,268.34 L195.11,268.24 L196.49,268.15 L197.87,268.07 L199.25,268.00 L200.63,267.94 L202.01,267.88 L203.39,267.83 L204.77,267.78 L206.14,267.74" fill="none" stroke="#3c5b42" stroke-width="0.9"/>
<path d="M42.05,348.63 L43.43,348.44 L44.81,348.23 L46.19,348.01 L47.57,347.77 L48.95,347.52 L50.33,347.25 L51.70,346.96 L53.08,346.66 L54.46,346.33 L55.84,345.98 L57.22,345.61 L58.60,345.21 L59.98,344.79 L61.36,344.34 L62.74,343.86 L64.12,343.36 L65.49,342.82 L66.87,342.25 L68.25,341.65 L69.63,341.01 L71.01,340.34 L72.39,339.62 L73.77,338.87 L75.15,338.08 L76.53,337.25 L77.90,336.37 L79.28,335.46 L80.66,334.50 L82.04,333.49 L83.42,332.45 L84.80,331.35 L86.18,330.22 L87.56,329.04 L88.94,327.81 L90.31,326.55 L91.69,325.24 L93.07,323.90 L94.45,322.51 L95.83,321.10 L97.21,319.65 L98.59,318.17 L99.97,316.66 L101.35,315.13 L102.73,313.58 L104.10,312.01 L105.48,310.44 L106.86,308.85 L108.24,307.26 L109.62,305.67 L111.00,304.08 L112.38,302.50 L113.76,300.94 L115.14,299.39 L116.51,297.86 L117.89,296.35 L119.27,294.87 L120.65,293.42 L122.03,292.00 L123.41,290.62 L124.79,289.27 L126.17,287.97 L127.55,286.70 L128.93,285.48 L130.30,284.30 L131.68,283.16 L133.06,282.07 L134.44,281.02 L135.82,280.01 L137.20,279.05 L138.58,278.14 L139.96,277.26 L141.34,276.43 L142.71,275.64 L144.09,274.89 L145.47,274.17 L146.85,273.50 L148.23,272.86 L149.61,272.26 L150.99,271.69 L152.37,271.15 L153.75,270.64 L155.12,270.17 L156.50,269.72 L157.88,269.30 L159.26,268.90 L160.64,268.53 L162.02,268.18 L163.40,267.85 L164.78,267.54 L166.16,267.26 L167.53,266.99 L168.91,266.73 L170.29,266.50 L171.67,266.28 L173.05,266.07 L174.43,265.88 L175.81,265.70 L177.19,265.53 L178.57,265.37 L179.95,265.22 L181.32,265.09 L182.70,264.96 L184.08,264.84 L185.46,264.73 L186.84,264.63 L188.22,264.53 L189.60,264.44 L190.98,264.35 L192.36,264.28 L193.73,264.20 L195.11,264.13 L196.49,264.07 L197.87,264.01 L199.25,263.96 L200.63,263.91 L202.01,263.86 L203.39,263.81 L204.77,263.77 L206.14,263.73" fill="none" stroke="#e23a4f" stroke-width="0.9"/>
<path d="M42.05,353.64 L43.43,353.44 L44.81,353.23 L46.19,353.00 L47.57,352.75 L48.95,352.49 L50.33,352.20 L51.70,351.89 L53.08,351.56 L54.46,351.20 L55.84,350.82 L57.22,350.41 L58.60,349.97 L59.98,349.49 L61.36,348.99 L62.74,348.44 L64.12,347.86 L65.49,347.24 L66.87,346.58 L68.25,345.88 L69.63,345.13 L71.01,344.33 L72.39,343.48 L73.77,342.59 L75.15,341.64 L76.53,340.64 L77.90,339.58 L79.28,338.47 L80.66,337.30 L82.04,336.08 L83.42,334.80 L84.80,333.46 L86.18,332.07 L87.56,330.63 L88.94,329.13 L90.31,327.59 L91.69,326.00 L93.07,324.37 L94.45,322.69 L95.83,320.98 L97.21,319.24 L98.59,317.48 L99.97,315.69 L101.35,313.89 L102.73,312.08 L104.10,310.27 L105.48,308.46 L106.86,306.65 L108.24,304.86 L109.62,303.09 L111.00,301.35 L112.38,299.63 L113.76,297.95 L115.14,296.31 L116.51,294.70 L117.89,293.15 L119.27,291.64 L120.65,290.19 L122.03,288.78 L123.41,287.43 L124.79,286.14 L126.17,284.90 L127.55,283.72 L128.93,282.60 L130.30,281.53 L131.68,280.51 L133.06,279.55 L134.44,278.64 L135.82,277.78 L137.20,276.98 L138.58,276.21 L139.96,275.50 L141.34,274.83 L142.71,274.20 L144.09,273.61 L145.47,273.06 L146.85,272.54 L148.23,272.06 L149.61,271.61 L150.99,271.19 L152.37,270.80 L153.75,270.44 L155.12,270.10 L156.50,269.78 L157.88,269.49 L159.26,269.22 L160.64,268.97 L162.02,268.73 L163.40,268.52 L164.78,268.32 L166.16,268.13 L167.53,267.96 L168.91,267.80 L170.29,267.65 L171.67,267.51 L173.05,267.39 L174.43,267.27 L175.81,267.16 L177.19,267.06 L178.57,266.97 L179.95,266.88 L181.32,266.80 L182.70,266.73 L184.08,266.66 L185.46,266.60 L186.84,266.54 L188.22,266.49 L189.60,266.44 L190.98,266.39 L192.36,266.35 L193.73,266.31 L195.11,266.28 L196.49,266.24 L197.87,266.21 L199.25,266.18 L200.63,266.16 L202.01,266.13 L203.39,266.11 L204.77,266.09 L206.14,266.07" fill="none" stroke="#7b7b7d" stroke-width="0.9"/>
<line x1="188.17" y1="362.85" x2="188.17" y2="372.00" stroke="#111" stroke-width="0.8"/>
<line x1="186.17" y1="362.85" x2="190.17" y2="362.85" stroke="#111" stroke-width="0.8"/>
<line x1="186.17" y1="372.00" x2="190.17" y2="372.00" stroke="#111" stroke-width="0.8"/>
<line x1="206.14" y1="362.03" x2="206.14" y2="368.43" stroke="#111" stroke-width="0.8"/>
<line x1="204.14" y1="362.03" x2="208.14" y2="362.03" stroke="#111" stroke-width="0.8"/>
<line x1="204.14" y1="368.43" x2="208.14" y2="368.43" stroke="#111" stroke-width="0.8"/>
<circle cx="42.05" cy="355.90" r="2.80" fill="#88b19b"/>
<circle cx="60.41" cy="355.90" r="2.80" fill="#88b19b"/>
<circle cx="78.77" cy="355.90" r="2.80" fill="#88b19b"/>
<circle cx="96.75" cy="355.90" r="2.80" fill="#88b19b"/>
<circle cx="115.11" cy="355.90" r="2.80" fill="#88b19b"/>
<circle cx="133.47" cy="355.90" r="2.80" fill="#88b19b"/>
<circle cx="151.45" cy="355.90" r="2.80" fill="#88b19b"/>
<circle cx="169.81" cy="358.46" r="2.80" fill="#88b19b"/>
<circle cx="188.17" cy="367.43" r="2.80" fill="#88b19b"/>
<circle cx="206.14" cy="365.23" r="2.80" fill="#88b19b"/>
<line x1="78.77" y1="351.33" x2="78.77" y2="358.64" stroke="#111" stroke-width="0.8"/>
<line x1="76.77" y1="351.33" x2="80.77" y2="351.33" stroke="#111" stroke-width="0.8"/>
<line x1="76.77" y1="358.64" x2="80.77" y2="358.64" stroke="#111" stroke-width="0.8"/>
<line x1="96.75" y1="351.33" x2="96.75" y2="356.81" stroke="#111" stroke-width="0.8"/>
<line x1="94.75" y1="351.33" x2="98.75" y2="351.33" stroke="#111" stroke-width="0.8"/>
<line x1="94.75" y1="356.81" x2="98.75" y2="356.81" stroke="#111" stroke-width="0.8"/>
<line x1="115.11" y1="351.33" x2="115.11" y2="356.81" stroke="#111" stroke-width="0.8"/>
<line x1="113.11" y1="351.33" x2="117.11" y2="351.33" stroke="#111" stroke-width="0.8"/>
<line x1="113.11" y1="356.81" x2="117.11" y2="356.81" stroke="#111" stroke-width="0.8"/>
<line x1="133.47" y1="350.41" x2="133.47" y2="355.90" stroke="#111" stroke-width="0.8"/>
<line x1="131.47" y1="350.41" x2="135.47" y2="350.41" stroke="#111" stroke-width="0.8"/>
<line x1="131.47" y1="355.90" x2="135.47" y2="355.90" stroke="#111" stroke-width="0.8"/>
<circle cx="42.05" cy="354.99" r="2.80" fill="#ebbba6"/>
<circle cx="60.41" cy="355.90" r="2.80" fill="#ebbba6"/>
<circle cx="78.77" cy="354.99" r="2.80" fill="#ebbba6"/>
<circle cx="96.75" cy="354.07" r="2.80" fill="#ebbba6"/>
<circle cx="115.11" cy="354.07" r="2.80" fill="#ebbba6"/>
<circle cx="133.47" cy="353.16" r="2.80" fill="#ebbba6"/>
<circle cx="151.45" cy="351.33" r="2.80" fill="#ebbba6"/>
<circle cx="169.81" cy="341.45" r="2.80" fill="#ebbba6"/>
<circle cx="188.17" cy="322.51" r="2.80" fill="#ebbba6"/>
<circle cx="206.14" cy="297.82" r="2.80" fill="#ebbba6"/>
<line x1="60.41" y1="347.67" x2="60.41" y2="358.64" stroke="#111" stroke-width="0.8"/>
<line x1="58.41" y1="347.67" x2="62.41" y2="347.67" stroke="#111" stroke-width="0.8"/>
<line x1="58.41" y1="358.64" x2="62.41" y2="358.64" stroke="#111" stroke-width="0.8"/>
<line x1="78.77" y1="347.39" x2="78.77" y2="354.71" stroke="#111" stroke-width="0.8"/>
<line x1="76.77" y1="347.39" x2="80.77" y2="347.39" stroke="#111" stroke-width="0.8"/>
<line x1="76.77" y1="354.71" x2="80.77" y2="354.71" stroke="#111" stroke-width="0.8"/>
<line x1="96.75" y1="348.58" x2="96.75" y2="354.07" stroke="#111" stroke-width="0.8"/>
<line x1="94.75" y1="348.58" x2="98.75" y2="348.58" stroke="#111" stroke-width="0.8"/>
<line x1="94.75" y1="354.07" x2="98.75" y2="354.07" stroke="#111" stroke-width="0.8"/>
<line x1="115.11" y1="345.84" x2="115.11" y2="356.81" stroke="#111" stroke-width="0.8"/>
<line x1="113.11" y1="345.84" x2="117.11" y2="345.84" stroke="#111" stroke-width="0.8"/>
<line x1="113.11" y1="356.81" x2="117.11" y2="356.81" stroke="#111" stroke-width="0.8"/>
<line x1="133.47" y1="346.75" x2="133.47" y2="355.90" stroke="#111" stroke-width="0.8"/>
<line x1="131.47" y1="346.75" x2="135.47" y2="346.75" stroke="#111" stroke-width="0.8"/>
<line x1="131.47" y1="355.90" x2="135.47" y2="355.90" stroke="#111" stroke-width="0.8"/>
<line x1="151.45" y1="349.50" x2="151.45" y2="356.81" stroke="#111" stroke-width="0.8"/>
<line x1="149.45" y1="349.50" x2="153.45" y2="349.50" stroke="#111" stroke-width="0.8"/>
<line x1="149.45" y1="356.81" x2="153.45" y2="356.81" stroke="#111" stroke-width="0.8"/>
<line x1="188.17" y1="350.41" x2="188.17" y2="354.07" stroke="#111" stroke-width="0.8"/>
<line x1="186.17" y1="350.41" x2="190.17" y2="350.41" stroke="#111" stroke-width="0.8"/>
<line x1="186.17" y1="354.07" x2="190.17" y2="354.07" stroke="#111" stroke-width="0.8"/>
<line x1="206.14" y1="350.41" x2="206.14" y2="354.07" stroke="#111" stroke-width="0.8"/>
<line x1="204.14" y1="350.41" x2="208.14" y2="350.41" stroke="#111" stroke-width="0.8"/>
<line x1="204.14" y1="354.07" x2="208.14" y2="354.07" stroke="#111" stroke-width="0.8"/>
<circle cx="42.05" cy="353.16" r="2.80" fill="#f79347"/>
<circle cx="60.41" cy="353.16" r="2.80" fill="#f79347"/>
<circle cx="78.77" cy="351.05" r="2.80" fill="#f79347"/>
<circle cx="96.75" cy="351.33" r="2.80" fill="#f79347"/>
<circle cx="115.11" cy="351.33" r="2.80" fill="#f79347"/>
<circle cx="133.47" cy="351.33" r="2.80" fill="#f79347"/>
<circle cx="151.45" cy="353.16" r="2.80" fill="#f79347"/>
<circle cx="169.81" cy="351.33" r="2.80" fill="#f79347"/>
<circle cx="188.17" cy="352.24" r="2.80" fill="#f79347"/>
<circle cx="206.14" cy="352.24" r="2.80" fill="#f79347"/>
<line x1="42.05" y1="354.07" x2="42.05" y2="359.56" stroke="#111" stroke-width="0.8"/>
<line x1="40.05" y1="354.07" x2="44.05" y2="354.07" stroke="#111" stroke-width="0.8"/>
<line x1="40.05" y1="359.56" x2="44.05" y2="359.56" stroke="#111" stroke-width="0.8"/>
<line x1="78.77" y1="346.48" x2="78.77" y2="353.80" stroke="#111" stroke-width="0.8"/>
<line x1="76.77" y1="346.48" x2="80.77" y2="346.48" stroke="#111" stroke-width="0.8"/>
<line x1="76.77" y1="353.80" x2="80.77" y2="353.80" stroke="#111" stroke-width="0.8"/>
<line x1="96.75" y1="331.20" x2="96.75" y2="351.33" stroke="#111" stroke-width="0.8"/>
<line x1="94.75" y1="331.20" x2="98.75" y2="331.20" stroke="#111" stroke-width="0.8"/>
<line x1="94.75" y1="351.33" x2="98.75" y2="351.33" stroke="#111" stroke-width="0.8"/>
<line x1="115.11" y1="321.14" x2="115.11" y2="339.44" stroke="#111" stroke-width="0.8"/>
<line x1="113.11" y1="321.14" x2="117.11" y2="321.14" stroke="#111" stroke-width="0.8"/>
<line x1="113.11" y1="339.44" x2="117.11" y2="339.44" stroke="#111" stroke-width="0.8"/>
<line x1="133.47" y1="307.79" x2="133.47" y2="313.27" stroke="#111" stroke-width="0.8"/>
<line x1="131.47" y1="307.79" x2="135.47" y2="307.79" stroke="#111" stroke-width="0.8"/>
<line x1="131.47" y1="313.27" x2="135.47" y2="313.27" stroke="#111" stroke-width="0.8"/>
<line x1="151.45" y1="285.47" x2="151.45" y2="292.79" stroke="#111" stroke-width="0.8"/>
<line x1="149.45" y1="285.47" x2="153.45" y2="285.47" stroke="#111" stroke-width="0.8"/>
<line x1="149.45" y1="292.79" x2="153.45" y2="292.79" stroke="#111" stroke-width="0.8"/>
<line x1="169.81" y1="274.49" x2="169.81" y2="278.15" stroke="#111" stroke-width="0.8"/>
<line x1="167.81" y1="274.49" x2="171.81" y2="274.49" stroke="#111" stroke-width="0.8"/>
<line x1="167.81" y1="278.15" x2="171.81" y2="278.15" stroke="#111" stroke-width="0.8"/>
<circle cx="42.05" cy="356.81" r="2.80" fill="#37a2c2"/>
<circle cx="60.41" cy="354.07" r="2.80" fill="#37a2c2"/>
<circle cx="78.77" cy="350.14" r="2.80" fill="#37a2c2"/>
<circle cx="96.75" cy="341.26" r="2.80" fill="#37a2c2"/>
<circle cx="115.11" cy="330.29" r="2.80" fill="#37a2c2"/>
<circle cx="133.47" cy="310.53" r="2.80" fill="#37a2c2"/>
<circle cx="151.45" cy="289.13" r="2.80" fill="#37a2c2"/>
<circle cx="169.81" cy="276.32" r="2.80" fill="#37a2c2"/>
<circle cx="188.17" cy="269.37" r="2.80" fill="#37a2c2"/>
<circle cx="206.14" cy="268.09" r="2.80" fill="#37a2c2"/>
<line x1="42.05" y1="352.24" x2="42.05" y2="357.73" stroke="#111" stroke-width="0.8"/>
<line x1="40.05" y1="352.24" x2="44.05" y2="352.24" stroke="#111" stroke-width="0.8"/>
<line x1="40.05" y1="357.73" x2="44.05" y2="357.73" stroke="#111" stroke-width="0.8"/>
<line x1="78.77" y1="348.58" x2="78.77" y2="354.07" stroke="#111" stroke-width="0.8"/>
<line x1="76.77" y1="348.58" x2="80.77" y2="348.58" stroke="#111" stroke-width="0.8"/>
<line x1="76.77" y1="354.07" x2="80.77" y2="354.07" stroke="#111" stroke-width="0.8"/>
<line x1="96.75" y1="341.26" x2="96.75" y2="350.41" stroke="#111" stroke-width="0.8"/>
<line x1="94.75" y1="341.26" x2="98.75" y2="341.26" stroke="#111" stroke-width="0.8"/>
<line x1="94.75" y1="350.41" x2="98.75" y2="350.41" stroke="#111" stroke-width="0.8"/>
<line x1="115.11" y1="329.74" x2="115.11" y2="344.37" stroke="#111" stroke-width="0.8"/>
<line x1="113.11" y1="329.74" x2="117.11" y2="329.74" stroke="#111" stroke-width="0.8"/>
<line x1="113.11" y1="344.37" x2="117.11" y2="344.37" stroke="#111" stroke-width="0.8"/>
<line x1="133.47" y1="317.85" x2="133.47" y2="323.34" stroke="#111" stroke-width="0.8"/>
<line x1="131.47" y1="317.85" x2="135.47" y2="317.85" stroke="#111" stroke-width="0.8"/>
<line x1="131.47" y1="323.34" x2="135.47" y2="323.34" stroke="#111" stroke-width="0.8"/>
<line x1="151.45" y1="281.81" x2="151.45" y2="287.30" stroke="#111" stroke-width="0.8"/>
<line x1="149.45" y1="281.81" x2="153.45" y2="281.81" stroke="#111" stroke-width="0.8"/>
<line x1="149.45" y1="287.30" x2="153.45" y2="287.30" stroke="#111" stroke-width="0.8"/>
<circle cx="42.05" cy="354.99" r="2.80" fill="#3c5b42"/>
<circle cx="60.41" cy="354.35" r="2.80" fill="#3c5b42"/>
<circle cx="78.77" cy="351.33" r="2.80" fill="#3c5b42"/>
<circle cx="96.75" cy="345.84" r="2.80" fill="#3c5b42"/>
<circle cx="115.11" cy="337.06" r="2.80" fill="#3c5b42"/>
<circle cx="133.47" cy="320.59" r="2.80" fill="#3c5b42"/>
<circle cx="151.45" cy="284.55" r="2.80" fill="#3c5b42"/>
<circle cx="169.81" cy="273.58" r="2.80" fill="#3c5b42"/>
<circle cx="188.17" cy="269.00" r="2.80" fill="#3c5b42"/>
<circle cx="206.14" cy="268.73" r="2.80" fill="#3c5b42"/>
<line x1="42.05" y1="346.30" x2="42.05" y2="353.61" stroke="#111" stroke-width="0.8"/>
<line x1="40.05" y1="346.30" x2="44.05" y2="346.30" stroke="#111" stroke-width="0.8"/>
<line x1="40.05" y1="353.61" x2="44.05" y2="353.61" stroke="#111" stroke-width="0.8"/>
<line x1="60.41" y1="340.35" x2="60.41" y2="347.67" stroke="#111" stroke-width="0.8"/>
<line x1="58.41" y1="340.35" x2="62.41" y2="340.35" stroke="#111" stroke-width="0.8"/>
<line x1="58.41" y1="347.67" x2="62.41" y2="347.67" stroke="#111" stroke-width="0.8"/>
<line x1="78.77" y1="328.46" x2="78.77" y2="339.44" stroke="#111" stroke-width="0.8"/>
<line x1="76.77" y1="328.46" x2="80.77" y2="328.46" stroke="#111" stroke-width="0.8"/>
<line x1="76.77" y1="339.44" x2="80.77" y2="339.44" stroke="#111" stroke-width="0.8"/>
<line x1="96.75" y1="317.48" x2="96.75" y2="324.80" stroke="#111" stroke-width="0.8"/>
<line x1="94.75" y1="317.48" x2="98.75" y2="317.48" stroke="#111" stroke-width="0.8"/>
<line x1="94.75" y1="324.80" x2="98.75" y2="324.80" stroke="#111" stroke-width="0.8"/>
<line x1="115.11" y1="298.73" x2="115.11" y2="302.39" stroke="#111" stroke-width="0.8"/>
<line x1="113.11" y1="298.73" x2="117.11" y2="298.73" stroke="#111" stroke-width="0.8"/>
<line x1="113.11" y1="302.39" x2="117.11" y2="302.39" stroke="#111" stroke-width="0.8"/>
<line x1="133.47" y1="278.88" x2="133.47" y2="282.54" stroke="#111" stroke-width="0.8"/>
<line x1="131.47" y1="278.88" x2="135.47" y2="278.88" stroke="#111" stroke-width="0.8"/>
<line x1="131.47" y1="282.54" x2="135.47" y2="282.54" stroke="#111" stroke-width="0.8"/>
<circle cx="42.05" cy="349.95" r="2.80" fill="#e23a4f"/>
<circle cx="60.41" cy="344.01" r="2.80" fill="#e23a4f"/>
<circle cx="78.77" cy="333.95" r="2.80" fill="#e23a4f"/>
<circle cx="96.75" cy="321.14" r="2.80" fill="#e23a4f"/>
<circle cx="115.11" cy="300.56" r="2.80" fill="#e23a4f"/>
<circle cx="133.47" cy="280.71" r="2.80" fill="#e23a4f"/>
<circle cx="151.45" cy="270.83" r="2.80" fill="#e23a4f"/>
<circle cx="169.81" cy="266.26" r="2.80" fill="#e23a4f"/>
<circle cx="188.17" cy="264.89" r="2.80" fill="#e23a4f"/>
<circle cx="206.14" cy="264.43" r="2.80" fill="#e23a4f"/>
<line x1="60.41" y1="345.84" x2="60.41" y2="351.33" stroke="#111" stroke-width="0.8"/>
<line x1="58.41" y1="345.84" x2="62.41" y2="345.84" stroke="#111" stroke-width="0.8"/>
<line x1="58.41" y1="351.33" x2="62.41" y2="351.33" stroke="#111" stroke-width="0.8"/>
<line x1="78.77" y1="335.78" x2="78.77" y2="343.09" stroke="#111" stroke-width="0.8"/>
<line x1="76.77" y1="335.78" x2="80.77" y2="335.78" stroke="#111" stroke-width="0.8"/>
<line x1="76.77" y1="343.09" x2="80.77" y2="343.09" stroke="#111" stroke-width="0.8"/>
<line x1="96.75" y1="312.91" x2="96.75" y2="325.71" stroke="#111" stroke-width="0.8"/>
<line x1="94.75" y1="312.91" x2="98.75" y2="312.91" stroke="#111" stroke-width="0.8"/>
<line x1="94.75" y1="325.71" x2="98.75" y2="325.71" stroke="#111" stroke-width="0.8"/>
<line x1="115.11" y1="294.25" x2="115.11" y2="299.74" stroke="#111" stroke-width="0.8"/>
<line x1="113.11" y1="294.25" x2="117.11" y2="294.25" stroke="#111" stroke-width="0.8"/>
<line x1="113.11" y1="299.74" x2="117.11" y2="299.74" stroke="#111" stroke-width="0.8"/>
<line x1="133.47" y1="276.05" x2="133.47" y2="281.53" stroke="#111" stroke-width="0.8"/>
<line x1="131.47" y1="276.05" x2="135.47" y2="276.05" stroke="#111" stroke-width="0.8"/>
<line x1="131.47" y1="281.53" x2="135.47" y2="281.53" stroke="#111" stroke-width="0.8"/>
<line x1="151.45" y1="268.09" x2="151.45" y2="273.58" stroke="#111" stroke-width="0.8"/>
<line x1="149.45" y1="268.09" x2="153.45" y2="268.09" stroke="#111" stroke-width="0.8"/>
<line x1="149.45" y1="273.58" x2="153.45" y2="273.58" stroke="#111" stroke-width="0.8"/>
<circle cx="42.05" cy="354.07" r="2.80" fill="#7b7b7d"/>
<circle cx="60.41" cy="348.58" r="2.80" fill="#7b7b7d"/>
<circle cx="78.77" cy="339.44" r="2.80" fill="#7b7b7d"/>
<circle cx="96.75" cy="319.31" r="2.80" fill="#7b7b7d"/>
<circle cx="115.11" cy="296.99" r="2.80" fill="#7b7b7d"/>
<circle cx="133.47" cy="278.79" r="2.80" fill="#7b7b7d"/>
<circle cx="151.45" cy="270.83" r="2.80" fill="#7b7b7d"/>
<circle cx="169.81" cy="268.09" r="2.80" fill="#7b7b7d"/>
<circle cx="188.17" cy="266.26" r="2.80" fill="#7b7b7d"/>
<circle cx="206.14" cy="266.26" r="2.80" fill="#7b7b7d"/>
<line x1="240.60" y1="255.30" x2="254.60" y2="255.30" stroke="#7b7b7d" stroke-width="1"/>
<circle cx="247.60" cy="255.30" r="2.60" fill="#7b7b7d"/>
<text x="262.70" y="258.80" font-size="10" stroke="#1a1a1a" stroke-width="0.18">CC1 pan kinase</text>
<line x1="240.60" y1="272.25" x2="254.60" y2="272.25" stroke="#f79347" stroke-width="1"/>
<circle cx="247.60" cy="272.25" r="2.60" fill="#f79347"/>
<text x="262.70" y="275.75" font-size="10" stroke="#1a1a1a" stroke-width="0.18">GCN2iB</text>
<line x1="240.60" y1="289.20" x2="254.60" y2="289.20" stroke="#e23a4f" stroke-width="1"/>
<circle cx="247.60" cy="289.20" r="2.60" fill="#e23a4f"/>
<text x="262.70" y="292.70" font-size="10" stroke="#1a1a1a" stroke-width="0.18">AZD1775</text>
<line x1="240.60" y1="306.15" x2="254.60" y2="306.15" stroke="#37a2c2" stroke-width="1"/>
<circle cx="247.60" cy="306.15" r="2.60" fill="#37a2c2"/>
<text x="262.70" y="309.65" font-size="10" stroke="#1a1a1a" stroke-width="0.18">Debio 0123</text>
<line x1="240.60" y1="323.10" x2="254.60" y2="323.10" stroke="#3c5b42" stroke-width="1"/>
<circle cx="247.60" cy="323.10" r="2.60" fill="#3c5b42"/>
<text x="262.70" y="326.60" font-size="10" stroke="#1a1a1a" stroke-width="0.18">ZNL 02-096</text>
<line x1="240.60" y1="340.05" x2="254.60" y2="340.05" stroke="#ebbba6" stroke-width="1"/>
<circle cx="247.60" cy="340.05" r="2.60" fill="#ebbba6"/>
<text x="262.70" y="343.55" font-size="10" stroke="#1a1a1a" stroke-width="0.18">RP-6306</text>
<line x1="240.60" y1="357.00" x2="254.60" y2="357.00" stroke="#88b19b" stroke-width="1"/>
<circle cx="247.60" cy="357.00" r="2.60" fill="#88b19b"/>
<text x="262.70" y="360.50" font-size="10" stroke="#1a1a1a" stroke-width="0.18">Neratinib</text>
<text x="348.40" y="233.00" font-size="15" font-weight="bold">d</text>
<line x1="410.70" y1="246.10" x2="410.70" y2="372.80" stroke="#222" stroke-width="1"/>
<line x1="405.20" y1="372.80" x2="410.70" y2="372.80" stroke="#222" stroke-width="1"/>
<text x="404.40" y="376.20" font-size="9.8" text-anchor="end" stroke="#1a1a1a" stroke-width="0.18">-20</text>
<line x1="405.20" y1="354.70" x2="410.70" y2="354.70" stroke="#222" stroke-width="1"/>
<line x1="405.20" y1="336.60" x2="410.70" y2="336.60" stroke="#222" stroke-width="1"/>
<text x="404.40" y="340.00" font-size="9.8" text-anchor="end" stroke="#1a1a1a" stroke-width="0.18">20</text>
<line x1="405.20" y1="318.50" x2="410.70" y2="318.50" stroke="#222" stroke-width="1"/>
<text x="404.40" y="321.90" font-size="9.8" text-anchor="end" stroke="#1a1a1a" stroke-width="0.18">40</text>
<line x1="405.20" y1="300.40" x2="410.70" y2="300.40" stroke="#222" stroke-width="1"/>
<text x="404.40" y="303.80" font-size="9.8" text-anchor="end" stroke="#1a1a1a" stroke-width="0.18">60</text>
<line x1="405.20" y1="282.30" x2="410.70" y2="282.30" stroke="#222" stroke-width="1"/>
<text x="404.40" y="285.70" font-size="9.8" text-anchor="end" stroke="#1a1a1a" stroke-width="0.18">80</text>
<line x1="405.20" y1="264.20" x2="410.70" y2="264.20" stroke="#222" stroke-width="1"/>
<text x="404.40" y="267.60" font-size="9.8" text-anchor="end" stroke="#1a1a1a" stroke-width="0.18">100</text>
<line x1="405.20" y1="246.10" x2="410.70" y2="246.10" stroke="#222" stroke-width="1"/>
<text x="404.40" y="249.50" font-size="9.8" text-anchor="end" stroke="#1a1a1a" stroke-width="0.18">120</text>
<line x1="372.45" y1="354.70" x2="563.70" y2="354.70" stroke="#777" stroke-width="1.4"/>
<line x1="372.45" y1="354.70" x2="372.45" y2="360.20" stroke="#222" stroke-width="1"/>
<text x="372.45" y="371.00" font-size="9.8" text-anchor="middle" stroke="#1a1a1a" stroke-width="0.18">-1</text>
<line x1="448.95" y1="354.70" x2="448.95" y2="360.20" stroke="#222" stroke-width="1"/>
<text x="448.95" y="371.00" font-size="9.8" text-anchor="middle" stroke="#1a1a1a" stroke-width="0.18">1</text>
<line x1="487.20" y1="354.70" x2="487.20" y2="360.20" stroke="#222" stroke-width="1"/>
<text x="487.20" y="371.00" font-size="9.8" text-anchor="middle" stroke="#1a1a1a" stroke-width="0.18">2</text>
<line x1="525.45" y1="354.70" x2="525.45" y2="360.20" stroke="#222" stroke-width="1"/>
<text x="525.45" y="371.00" font-size="9.8" text-anchor="middle" stroke="#1a1a1a" stroke-width="0.18">3</text>
<line x1="563.70" y1="354.70" x2="563.70" y2="360.20" stroke="#222" stroke-width="1"/>
<text x="563.70" y="371.00" font-size="9.8" text-anchor="middle" stroke="#1a1a1a" stroke-width="0.18">4</text>
<text x="483.60" y="241.90" font-size="10" text-anchor="middle" stroke="#1a1a1a" stroke-width="0.18">NanoLuc-GCN2</text>
<text x="487.40" y="385.60" font-size="9.8" text-anchor="middle" stroke="#1a1a1a" stroke-width="0.18">log10([cmpd]) (nM)</text>
<text x="367.60" y="308.40" font-size="10" text-anchor="middle" stroke="#1a1a1a" stroke-width="0.18" transform="rotate(-90 367.60 308.40)">GCN2 engagement (%)</text>
<path d="M394.25,355.60 L395.63,355.60 L397.01,355.60 L398.39,355.60 L399.77,355.60 L401.15,355.60 L402.53,355.60 L403.90,355.60 L405.28,355.60 L406.66,355.60 L408.04,355.60 L409.42,355.60 L410.80,355.60 L412.18,355.60 L413.56,355.60 L414.94,355.60 L416.32,355.60 L417.69,355.60 L419.07,355.60 L420.45,355.60 L421.83,355.60 L423.21,355.60 L424.59,355.60 L425.97,355.60 L427.35,355.60 L428.73,355.60 L430.10,355.60 L431.48,355.60 L432.86,355.60 L434.24,355.60 L435.62,355.60 L437.00,355.60 L438.38,355.60 L439.76,355.60 L441.14,355.60 L442.51,355.60 L443.89,355.60 L445.27,355.60 L446.65,355.60 L448.03,355.60 L449.41,355.60 L450.79,355.60 L452.17,355.60 L453.55,355.60 L454.93,355.60 L456.30,355.60 L457.68,355.60 L459.06,355.60 L460.44,355.60 L461.82,355.60 L463.20,355.60 L464.58,355.60 L465.96,355.60 L467.34,355.60 L468.71,355.60 L470.09,355.60 L471.47,355.60 L472.85,355.60 L474.23,355.60 L475.61,355.60 L476.99,355.60 L478.37,355.60 L479.75,355.60 L481.12,355.60 L482.50,355.60 L483.88,355.60 L485.26,355.60 L486.64,355.60 L488.02,355.60 L489.40,355.60 L490.78,355.60 L492.16,355.60 L493.54,355.60 L494.91,355.60 L496.29,355.60 L497.67,355.60 L499.05,355.60 L500.43,355.60 L501.81,355.60 L503.19,355.60 L504.57,355.60 L505.95,355.60 L507.32,355.60 L508.70,355.60 L510.08,355.60 L511.46,355.60 L512.84,355.60 L514.22,355.60 L515.60,355.60 L516.98,355.60 L518.36,355.60 L519.74,355.60 L521.11,355.60 L522.49,355.60 L523.87,355.60 L525.25,355.60 L526.63,355.60 L528.01,355.60 L529.39,355.60 L530.77,355.60 L532.15,355.60 L533.52,355.60 L534.90,355.60 L536.28,355.60 L537.66,355.60 L539.04,355.60 L540.42,355.60 L541.80,355.60 L543.18,355.60 L544.56,355.60 L545.93,355.60 L547.31,355.60 L548.69,355.60 L550.07,355.60 L551.45,355.60 L552.83,355.60 L554.21,355.60 L555.59,355.60 L556.97,355.60 L558.35,355.60" fill="none" stroke="#ebbba6" stroke-width="0.9"/>
<path d="M394.25,356.51 L395.63,356.51 L397.01,356.51 L398.39,356.51 L399.77,356.51 L401.15,356.51 L402.53,356.51 L403.90,356.51 L405.28,356.51 L406.66,356.51 L408.04,356.51 L409.42,356.51 L410.80,356.51 L412.18,356.51 L413.56,356.51 L414.94,356.51 L416.32,356.51 L417.69,356.51 L419.07,356.51 L420.45,356.51 L421.83,356.51 L423.21,356.51 L424.59,356.51 L425.97,356.51 L427.35,356.51 L428.73,356.51 L430.10,356.51 L431.48,356.51 L432.86,356.51 L434.24,356.51 L435.62,356.51 L437.00,356.51 L438.38,356.51 L439.76,356.51 L441.14,356.51 L442.51,356.51 L443.89,356.51 L445.27,356.51 L446.65,356.51 L448.03,356.51 L449.41,356.51 L450.79,356.51 L452.17,356.51 L453.55,356.51 L454.93,356.51 L456.30,356.51 L457.68,356.51 L459.06,356.51 L460.44,356.51 L461.82,356.51 L463.20,356.51 L464.58,356.51 L465.96,356.51 L467.34,356.51 L468.71,356.51 L470.09,356.51 L471.47,356.51 L472.85,356.51 L474.23,356.51 L475.61,356.51 L476.99,356.51 L478.37,356.51 L479.75,356.51 L481.12,356.51 L482.50,356.51 L483.88,356.51 L485.26,356.51 L486.64,356.51 L488.02,356.51 L489.40,356.51 L490.78,356.51 L492.16,356.51 L493.54,356.51 L494.91,356.51 L496.29,356.51 L497.67,356.51 L499.05,356.51 L500.43,356.51 L501.81,356.51 L503.19,356.51 L504.57,356.51 L505.95,356.51 L507.32,356.51 L508.70,356.51 L510.08,356.51 L511.46,356.51 L512.84,356.51 L514.22,356.51 L515.60,356.51 L516.98,356.51 L518.36,356.51 L519.74,356.51 L521.11,356.51 L522.49,356.51 L523.87,356.51 L525.25,356.51 L526.63,356.51 L528.01,356.51 L529.39,356.51 L530.77,356.51 L532.15,356.51 L533.52,356.51 L534.90,356.51 L536.28,356.51 L537.66,356.51 L539.04,356.51 L540.42,356.51 L541.80,356.51 L543.18,356.51 L544.56,356.51 L545.93,356.51 L547.31,356.51 L548.69,356.51 L550.07,356.51 L551.45,356.51 L552.83,356.51 L554.21,356.51 L555.59,356.51 L556.97,356.51 L558.35,356.51" fill="none" stroke="#37a2c2" stroke-width="0.9"/>
<path d="M394.25,354.70 L395.63,354.70 L397.01,354.70 L398.39,354.70 L399.77,354.70 L401.15,354.70 L402.53,354.70 L403.90,354.70 L405.28,354.70 L406.66,354.70 L408.04,354.70 L409.42,354.70 L410.80,354.70 L412.18,354.70 L413.56,354.70 L414.94,354.70 L416.32,354.70 L417.69,354.70 L419.07,354.70 L420.45,354.70 L421.83,354.70 L423.21,354.70 L424.59,354.70 L425.97,354.70 L427.35,354.70 L428.73,354.70 L430.10,354.70 L431.48,354.70 L432.86,354.70 L434.24,354.70 L435.62,354.70 L437.00,354.70 L438.38,354.70 L439.76,354.70 L441.14,354.70 L442.51,354.70 L443.89,354.70 L445.27,354.70 L446.65,354.70 L448.03,354.70 L449.41,354.70 L450.79,354.70 L452.17,354.70 L453.55,354.70 L454.93,354.70 L456.30,354.70 L457.68,354.70 L459.06,354.70 L460.44,354.70 L461.82,354.70 L463.20,354.70 L464.58,354.70 L465.96,354.70 L467.34,354.70 L468.71,354.70 L470.09,354.70 L471.47,354.70 L472.85,354.70 L474.23,354.70 L475.61,354.70 L476.99,354.70 L478.37,354.70 L479.75,354.70 L481.12,354.70 L482.50,354.70 L483.88,354.70 L485.26,354.70 L486.64,354.70 L488.02,354.70 L489.40,354.70 L490.78,354.70 L492.16,354.70 L493.54,354.70 L494.91,354.70 L496.29,354.70 L497.67,354.69 L499.05,354.69 L500.43,354.69 L501.81,354.69 L503.19,354.68 L504.57,354.67 L505.95,354.66 L507.32,354.65 L508.70,354.64 L510.08,354.61 L511.46,354.59 L512.84,354.55 L514.22,354.50 L515.60,354.43 L516.98,354.34 L518.36,354.22 L519.74,354.06 L521.11,353.86 L522.49,353.59 L523.87,353.23 L525.25,352.78 L526.63,352.19 L528.01,351.46 L529.39,350.55 L530.77,349.46 L532.15,348.16 L533.52,346.68 L534.90,345.05 L536.28,343.31 L537.66,341.54 L539.04,339.80 L540.42,338.18 L541.80,336.71 L543.18,335.43 L544.56,334.34 L545.93,333.45 L547.31,332.73 L548.69,332.15 L550.07,331.71 L551.45,331.36 L552.83,331.09 L554.21,330.89 L555.59,330.73 L556.97,330.62 L558.35,330.53" fill="none" stroke="#88b19b" stroke-width="0.9"/>
<path d="M394.25,354.70 L395.63,354.70 L397.01,354.70 L398.39,354.70 L399.77,354.70 L401.15,354.70 L402.53,354.70 L403.90,354.70 L405.28,354.70 L406.66,354.70 L408.04,354.70 L409.42,354.70 L410.80,354.70 L412.18,354.70 L413.56,354.70 L414.94,354.70 L416.32,354.70 L417.69,354.70 L419.07,354.70 L420.45,354.70 L421.83,354.70 L423.21,354.70 L424.59,354.70 L425.97,354.70 L427.35,354.70 L428.73,354.70 L430.10,354.70 L431.48,354.70 L432.86,354.70 L434.24,354.70 L435.62,354.70 L437.00,354.70 L438.38,354.70 L439.76,354.70 L441.14,354.70 L442.51,354.70 L443.89,354.70 L445.27,354.70 L446.65,354.70 L448.03,354.70 L449.41,354.70 L450.79,354.70 L452.17,354.70 L453.55,354.70 L454.93,354.70 L456.30,354.70 L457.68,354.70 L459.06,354.70 L460.44,354.70 L461.82,354.70 L463.20,354.70 L464.58,354.70 L465.96,354.70 L467.34,354.70 L468.71,354.70 L470.09,354.70 L471.47,354.70 L472.85,354.70 L474.23,354.70 L475.61,354.70 L476.99,354.70 L478.37,354.70 L479.75,354.70 L481.12,354.70 L482.50,354.70 L483.88,354.70 L485.26,354.70 L486.64,354.69 L488.02,354.69 L489.40,354.69 L490.78,354.69 L492.16,354.69 L493.54,354.69 L494.91,354.68 L496.29,354.68 L497.67,354.68 L499.05,354.67 L500.43,354.66 L501.81,354.66 L503.19,354.65 L504.57,354.64 L505.95,354.63 L507.32,354.61 L508.70,354.59 L510.08,354.57 L511.46,354.55 L512.84,354.52 L514.22,354.48 L515.60,354.44 L516.98,354.38 L518.36,354.32 L519.74,354.24 L521.11,354.15 L522.49,354.05 L523.87,353.92 L525.25,353.76 L526.63,353.58 L528.01,353.35 L529.39,353.09 L530.77,352.78 L532.15,352.40 L533.52,351.96 L534.90,351.44 L536.28,350.82 L537.66,350.09 L539.04,349.24 L540.42,348.24 L541.80,347.08 L543.18,345.75 L544.56,344.21 L545.93,342.47 L547.31,340.50 L548.69,338.30 L550.07,335.86 L551.45,333.21 L552.83,330.35 L554.21,327.32 L555.59,324.15 L556.97,320.89 L558.35,317.58" fill="none" stroke="#3c5b42" stroke-width="0.9"/>
<path d="M394.25,355.60 L395.63,355.60 L397.01,355.60 L398.39,355.60 L399.77,355.60 L401.15,355.60 L402.53,355.60 L403.90,355.60 L405.28,355.60 L406.66,355.60 L408.04,355.60 L409.42,355.60 L410.80,355.60 L412.18,355.60 L413.56,355.60 L414.94,355.60 L416.32,355.60 L417.69,355.60 L419.07,355.60 L420.45,355.60 L421.83,355.60 L423.21,355.60 L424.59,355.60 L425.97,355.60 L427.35,355.60 L428.73,355.60 L430.10,355.60 L431.48,355.60 L432.86,355.60 L434.24,355.60 L435.62,355.59 L437.00,355.59 L438.38,355.59 L439.76,355.59 L441.14,355.59 L442.51,355.59 L443.89,355.59 L445.27,355.58 L446.65,355.58 L448.03,355.58 L449.41,355.58 L450.79,355.57 L452.17,355.57 L453.55,355.57 L454.93,355.56 L456.30,355.56 L457.68,355.55 L459.06,355.55 L460.44,355.54 L461.82,355.54 L463.20,355.53 L464.58,355.52 L465.96,355.51 L467.34,355.50 L468.71,355.49 L470.09,355.48 L471.47,355.47 L472.85,355.45 L474.23,355.44 L475.61,355.42 L476.99,355.40 L478.37,355.38 L479.75,355.35 L481.12,355.33 L482.50,355.30 L483.88,355.27 L485.26,355.23 L486.64,355.19 L488.02,355.15 L489.40,355.10 L490.78,355.05 L492.16,354.99 L493.54,354.93 L494.91,354.86 L496.29,354.78 L497.67,354.69 L499.05,354.60 L500.43,354.50 L501.81,354.38 L503.19,354.26 L504.57,354.12 L505.95,353.96 L507.32,353.80 L508.70,353.61 L510.08,353.41 L511.46,353.18 L512.84,352.94 L514.22,352.67 L515.60,352.37 L516.98,352.05 L518.36,351.70 L519.74,351.31 L521.11,350.88 L522.49,350.42 L523.87,349.92 L525.25,349.36 L526.63,348.77 L528.01,348.11 L529.39,347.41 L530.77,346.64 L532.15,345.82 L533.52,344.92 L534.90,343.96 L536.28,342.93 L537.66,341.82 L539.04,340.64 L540.42,339.39 L541.80,338.05 L543.18,336.63 L544.56,335.14 L545.93,333.57 L547.31,331.93 L548.69,330.21 L550.07,328.43 L551.45,326.58 L552.83,324.69 L554.21,322.74 L555.59,320.75 L556.97,318.74 L558.35,316.70" fill="none" stroke="#e23a4f" stroke-width="0.9"/>
<path d="M394.25,353.01 L395.63,353.00 L397.01,352.98 L398.39,352.97 L399.77,352.96 L401.15,352.94 L402.53,352.92 L403.90,352.91 L405.28,352.89 L406.66,352.86 L408.04,352.84 L409.42,352.82 L410.80,352.79 L412.18,352.76 L413.56,352.73 L414.94,352.70 L416.32,352.66 L417.69,352.62 L419.07,352.58 L420.45,352.53 L421.83,352.49 L423.21,352.43 L424.59,352.38 L425.97,352.31 L427.35,352.25 L428.73,352.18 L430.10,352.10 L431.48,352.01 L432.86,351.92 L434.24,351.83 L435.62,351.72 L437.00,351.61 L438.38,351.49 L439.76,351.36 L441.14,351.22 L442.51,351.06 L443.89,350.90 L445.27,350.72 L446.65,350.53 L448.03,350.33 L449.41,350.11 L450.79,349.87 L452.17,349.62 L453.55,349.35 L454.93,349.06 L456.30,348.74 L457.68,348.41 L459.06,348.05 L460.44,347.66 L461.82,347.25 L463.20,346.81 L464.58,346.34 L465.96,345.84 L467.34,345.30 L468.71,344.73 L470.09,344.12 L471.47,343.47 L472.85,342.78 L474.23,342.05 L475.61,341.28 L476.99,340.46 L478.37,339.59 L479.75,338.68 L481.12,337.72 L482.50,336.70 L483.88,335.64 L485.26,334.53 L486.64,333.37 L488.02,332.15 L489.40,330.89 L490.78,329.57 L492.16,328.21 L493.54,326.80 L494.91,325.35 L496.29,323.85 L497.67,322.31 L499.05,320.74 L500.43,319.14 L501.81,317.50 L503.19,315.85 L504.57,314.17 L505.95,312.48 L507.32,310.77 L508.70,309.07 L510.08,307.36 L511.46,305.65 L512.84,303.96 L514.22,302.28 L515.60,300.63 L516.98,298.99 L518.36,297.39 L519.74,295.81 L521.11,294.28 L522.49,292.78 L523.87,291.33 L525.25,289.92 L526.63,288.55 L528.01,287.24 L529.39,285.97 L530.77,284.75 L532.15,283.59 L533.52,282.48 L534.90,281.41 L536.28,280.40 L537.66,279.44 L539.04,278.52 L540.42,277.66 L541.80,276.84 L543.18,276.06 L544.56,275.33 L545.93,274.64 L547.31,273.99 L548.69,273.38 L550.07,272.81 L551.45,272.27 L552.83,271.77 L554.21,271.29 L555.59,270.85 L556.97,270.44 L558.35,270.05" fill="none" stroke="#f79347" stroke-width="0.9"/>
<path d="M394.25,353.89 L395.63,353.85 L397.01,353.81 L398.39,353.77 L399.77,353.72 L401.15,353.67 L402.53,353.61 L403.90,353.55 L405.28,353.48 L406.66,353.41 L408.04,353.33 L409.42,353.24 L410.80,353.15 L412.18,353.04 L413.56,352.93 L414.94,352.81 L416.32,352.68 L417.69,352.54 L419.07,352.38 L420.45,352.21 L421.83,352.03 L423.21,351.83 L424.59,351.62 L425.97,351.38 L427.35,351.13 L428.73,350.86 L430.10,350.56 L431.48,350.24 L432.86,349.90 L434.24,349.52 L435.62,349.12 L437.00,348.68 L438.38,348.22 L439.76,347.71 L441.14,347.17 L442.51,346.59 L443.89,345.96 L445.27,345.29 L446.65,344.57 L448.03,343.81 L449.41,342.99 L450.79,342.11 L452.17,341.19 L453.55,340.20 L454.93,339.16 L456.30,338.05 L457.68,336.88 L459.06,335.66 L460.44,334.37 L461.82,333.01 L463.20,331.60 L464.58,330.13 L465.96,328.60 L467.34,327.01 L468.71,325.37 L470.09,323.68 L471.47,321.95 L472.85,320.18 L474.23,318.37 L475.61,316.53 L476.99,314.68 L478.37,312.80 L479.75,310.92 L481.12,309.03 L482.50,307.15 L483.88,305.28 L485.26,303.43 L486.64,301.60 L488.02,299.81 L489.40,298.04 L490.78,296.33 L492.16,294.65 L493.54,293.03 L494.91,291.46 L496.29,289.94 L497.67,288.49 L499.05,287.09 L500.43,285.76 L501.81,284.49 L503.19,283.28 L504.57,282.13 L505.95,281.04 L507.32,280.02 L508.70,279.05 L510.08,278.14 L511.46,277.28 L512.84,276.48 L514.22,275.73 L515.60,275.03 L516.98,274.37 L518.36,273.76 L519.74,273.19 L521.11,272.66 L522.49,272.16 L523.87,271.70 L525.25,271.28 L526.63,270.89 L528.01,270.52 L529.39,270.18 L530.77,269.87 L532.15,269.58 L533.52,269.31 L534.90,269.07 L536.28,268.84 L537.66,268.63 L539.04,268.44 L540.42,268.26 L541.80,268.09 L543.18,267.94 L544.56,267.80 L545.93,267.67 L547.31,267.56 L548.69,267.45 L550.07,267.35 L551.45,267.25 L552.83,267.17 L554.21,267.09 L555.59,267.02 L556.97,266.95 L558.35,266.89" fill="none" stroke="#7b7b7d" stroke-width="0.9"/>
<line x1="503.65" y1="351.99" x2="503.65" y2="359.22" stroke="#111" stroke-width="0.8"/>
<line x1="501.65" y1="351.99" x2="505.65" y2="351.99" stroke="#111" stroke-width="0.8"/>
<line x1="501.65" y1="359.22" x2="505.65" y2="359.22" stroke="#111" stroke-width="0.8"/>
<circle cx="394.25" cy="355.60" r="2.80" fill="#ebbba6"/>
<circle cx="412.61" cy="355.60" r="2.80" fill="#ebbba6"/>
<circle cx="430.97" cy="355.60" r="2.80" fill="#ebbba6"/>
<circle cx="448.95" cy="355.60" r="2.80" fill="#ebbba6"/>
<circle cx="467.31" cy="355.60" r="2.80" fill="#ebbba6"/>
<circle cx="485.67" cy="355.60" r="2.80" fill="#ebbba6"/>
<circle cx="503.65" cy="355.60" r="2.80" fill="#ebbba6"/>
<circle cx="522.01" cy="355.60" r="2.80" fill="#ebbba6"/>
<circle cx="540.37" cy="355.60" r="2.80" fill="#ebbba6"/>
<circle cx="558.35" cy="355.60" r="2.80" fill="#ebbba6"/>
<line x1="448.95" y1="353.80" x2="448.95" y2="359.22" stroke="#111" stroke-width="0.8"/>
<line x1="446.95" y1="353.80" x2="450.95" y2="353.80" stroke="#111" stroke-width="0.8"/>
<line x1="446.95" y1="359.22" x2="450.95" y2="359.22" stroke="#111" stroke-width="0.8"/>
<line x1="467.31" y1="352.89" x2="467.31" y2="360.13" stroke="#111" stroke-width="0.8"/>
<line x1="465.31" y1="352.89" x2="469.31" y2="352.89" stroke="#111" stroke-width="0.8"/>
<line x1="465.31" y1="360.13" x2="469.31" y2="360.13" stroke="#111" stroke-width="0.8"/>
<line x1="485.67" y1="354.70" x2="485.67" y2="358.32" stroke="#111" stroke-width="0.8"/>
<line x1="483.67" y1="354.70" x2="487.67" y2="354.70" stroke="#111" stroke-width="0.8"/>
<line x1="483.67" y1="358.32" x2="487.67" y2="358.32" stroke="#111" stroke-width="0.8"/>
<line x1="503.65" y1="354.70" x2="503.65" y2="358.32" stroke="#111" stroke-width="0.8"/>
<line x1="501.65" y1="354.70" x2="505.65" y2="354.70" stroke="#111" stroke-width="0.8"/>
<line x1="501.65" y1="358.32" x2="505.65" y2="358.32" stroke="#111" stroke-width="0.8"/>
<line x1="522.01" y1="354.70" x2="522.01" y2="358.32" stroke="#111" stroke-width="0.8"/>
<line x1="520.01" y1="354.70" x2="524.01" y2="354.70" stroke="#111" stroke-width="0.8"/>
<line x1="520.01" y1="358.32" x2="524.01" y2="358.32" stroke="#111" stroke-width="0.8"/>
<line x1="540.37" y1="354.70" x2="540.37" y2="358.32" stroke="#111" stroke-width="0.8"/>
<line x1="538.37" y1="354.70" x2="542.37" y2="354.70" stroke="#111" stroke-width="0.8"/>
<line x1="538.37" y1="358.32" x2="542.37" y2="358.32" stroke="#111" stroke-width="0.8"/>
<circle cx="394.25" cy="356.51" r="2.80" fill="#37a2c2"/>
<circle cx="412.61" cy="356.51" r="2.80" fill="#37a2c2"/>
<circle cx="430.97" cy="356.51" r="2.80" fill="#37a2c2"/>
<circle cx="448.95" cy="356.51" r="2.80" fill="#37a2c2"/>
<circle cx="467.31" cy="356.51" r="2.80" fill="#37a2c2"/>
<circle cx="485.67" cy="356.51" r="2.80" fill="#37a2c2"/>
<circle cx="503.65" cy="356.51" r="2.80" fill="#37a2c2"/>
<circle cx="522.01" cy="356.51" r="2.80" fill="#37a2c2"/>
<circle cx="540.37" cy="356.51" r="2.80" fill="#37a2c2"/>
<circle cx="558.35" cy="356.51" r="2.80" fill="#37a2c2"/>
<line x1="540.37" y1="335.79" x2="540.37" y2="344.84" stroke="#111" stroke-width="0.8"/>
<line x1="538.37" y1="335.79" x2="542.37" y2="335.79" stroke="#111" stroke-width="0.8"/>
<line x1="538.37" y1="344.84" x2="542.37" y2="344.84" stroke="#111" stroke-width="0.8"/>
<line x1="558.35" y1="327.91" x2="558.35" y2="336.96" stroke="#111" stroke-width="0.8"/>
<line x1="556.35" y1="327.91" x2="560.35" y2="327.91" stroke="#111" stroke-width="0.8"/>
<line x1="556.35" y1="336.96" x2="560.35" y2="336.96" stroke="#111" stroke-width="0.8"/>
<circle cx="394.25" cy="354.70" r="2.80" fill="#88b19b"/>
<circle cx="412.61" cy="354.70" r="2.80" fill="#88b19b"/>
<circle cx="430.97" cy="354.70" r="2.80" fill="#88b19b"/>
<circle cx="448.95" cy="354.70" r="2.80" fill="#88b19b"/>
<circle cx="467.31" cy="354.70" r="2.80" fill="#88b19b"/>
<circle cx="485.67" cy="354.70" r="2.80" fill="#88b19b"/>
<circle cx="503.65" cy="354.70" r="2.80" fill="#88b19b"/>
<circle cx="522.01" cy="352.89" r="2.80" fill="#88b19b"/>
<circle cx="540.37" cy="340.31" r="2.80" fill="#88b19b"/>
<circle cx="558.35" cy="332.44" r="2.80" fill="#88b19b"/>
<line x1="394.25" y1="352.89" x2="394.25" y2="358.32" stroke="#111" stroke-width="0.8"/>
<line x1="392.25" y1="352.89" x2="396.25" y2="352.89" stroke="#111" stroke-width="0.8"/>
<line x1="392.25" y1="358.32" x2="396.25" y2="358.32" stroke="#111" stroke-width="0.8"/>
<line x1="412.61" y1="349.27" x2="412.61" y2="360.13" stroke="#111" stroke-width="0.8"/>
<line x1="410.61" y1="349.27" x2="414.61" y2="349.27" stroke="#111" stroke-width="0.8"/>
<line x1="410.61" y1="360.13" x2="414.61" y2="360.13" stroke="#111" stroke-width="0.8"/>
<line x1="448.95" y1="351.08" x2="448.95" y2="358.32" stroke="#111" stroke-width="0.8"/>
<line x1="446.95" y1="351.08" x2="450.95" y2="351.08" stroke="#111" stroke-width="0.8"/>
<line x1="446.95" y1="358.32" x2="450.95" y2="358.32" stroke="#111" stroke-width="0.8"/>
<line x1="467.31" y1="351.08" x2="467.31" y2="358.32" stroke="#111" stroke-width="0.8"/>
<line x1="465.31" y1="351.08" x2="469.31" y2="351.08" stroke="#111" stroke-width="0.8"/>
<line x1="465.31" y1="358.32" x2="469.31" y2="358.32" stroke="#111" stroke-width="0.8"/>
<line x1="485.67" y1="351.99" x2="485.67" y2="357.41" stroke="#111" stroke-width="0.8"/>
<line x1="483.67" y1="351.99" x2="487.67" y2="351.99" stroke="#111" stroke-width="0.8"/>
<line x1="483.67" y1="357.41" x2="487.67" y2="357.41" stroke="#111" stroke-width="0.8"/>
<line x1="503.65" y1="351.99" x2="503.65" y2="357.41" stroke="#111" stroke-width="0.8"/>
<line x1="501.65" y1="351.99" x2="505.65" y2="351.99" stroke="#111" stroke-width="0.8"/>
<line x1="501.65" y1="357.41" x2="505.65" y2="357.41" stroke="#111" stroke-width="0.8"/>
<line x1="540.37" y1="335.69" x2="540.37" y2="342.94" stroke="#111" stroke-width="0.8"/>
<line x1="538.37" y1="335.69" x2="542.37" y2="335.69" stroke="#111" stroke-width="0.8"/>
<line x1="538.37" y1="342.94" x2="542.37" y2="342.94" stroke="#111" stroke-width="0.8"/>
<line x1="558.35" y1="309.99" x2="558.35" y2="317.23" stroke="#111" stroke-width="0.8"/>
<line x1="556.35" y1="309.99" x2="560.35" y2="309.99" stroke="#111" stroke-width="0.8"/>
<line x1="556.35" y1="317.23" x2="560.35" y2="317.23" stroke="#111" stroke-width="0.8"/>
<circle cx="394.25" cy="355.60" r="2.80" fill="#3c5b42"/>
<circle cx="412.61" cy="354.70" r="2.80" fill="#3c5b42"/>
<circle cx="430.97" cy="354.70" r="2.80" fill="#3c5b42"/>
<circle cx="448.95" cy="354.70" r="2.80" fill="#3c5b42"/>
<circle cx="467.31" cy="354.70" r="2.80" fill="#3c5b42"/>
<circle cx="485.67" cy="354.70" r="2.80" fill="#3c5b42"/>
<circle cx="503.65" cy="354.70" r="2.80" fill="#3c5b42"/>
<circle cx="522.01" cy="353.34" r="2.80" fill="#3c5b42"/>
<circle cx="540.37" cy="339.31" r="2.80" fill="#3c5b42"/>
<circle cx="558.35" cy="313.61" r="2.80" fill="#3c5b42"/>
<line x1="394.25" y1="350.18" x2="394.25" y2="357.41" stroke="#111" stroke-width="0.8"/>
<line x1="392.25" y1="350.18" x2="396.25" y2="350.18" stroke="#111" stroke-width="0.8"/>
<line x1="392.25" y1="357.41" x2="396.25" y2="357.41" stroke="#111" stroke-width="0.8"/>
<line x1="412.61" y1="349.27" x2="412.61" y2="360.13" stroke="#111" stroke-width="0.8"/>
<line x1="410.61" y1="349.27" x2="414.61" y2="349.27" stroke="#111" stroke-width="0.8"/>
<line x1="410.61" y1="360.13" x2="414.61" y2="360.13" stroke="#111" stroke-width="0.8"/>
<line x1="430.97" y1="351.08" x2="430.97" y2="360.13" stroke="#111" stroke-width="0.8"/>
<line x1="428.97" y1="351.08" x2="432.97" y2="351.08" stroke="#111" stroke-width="0.8"/>
<line x1="428.97" y1="360.13" x2="432.97" y2="360.13" stroke="#111" stroke-width="0.8"/>
<line x1="448.95" y1="352.89" x2="448.95" y2="358.32" stroke="#111" stroke-width="0.8"/>
<line x1="446.95" y1="352.89" x2="450.95" y2="352.89" stroke="#111" stroke-width="0.8"/>
<line x1="446.95" y1="358.32" x2="450.95" y2="358.32" stroke="#111" stroke-width="0.8"/>
<line x1="467.31" y1="351.08" x2="467.31" y2="360.13" stroke="#111" stroke-width="0.8"/>
<line x1="465.31" y1="351.08" x2="469.31" y2="351.08" stroke="#111" stroke-width="0.8"/>
<line x1="465.31" y1="360.13" x2="469.31" y2="360.13" stroke="#111" stroke-width="0.8"/>
<line x1="485.67" y1="351.99" x2="485.67" y2="359.22" stroke="#111" stroke-width="0.8"/>
<line x1="483.67" y1="351.99" x2="487.67" y2="351.99" stroke="#111" stroke-width="0.8"/>
<line x1="483.67" y1="359.22" x2="487.67" y2="359.22" stroke="#111" stroke-width="0.8"/>
<line x1="522.01" y1="345.47" x2="522.01" y2="350.90" stroke="#111" stroke-width="0.8"/>
<line x1="520.01" y1="345.47" x2="524.01" y2="345.47" stroke="#111" stroke-width="0.8"/>
<line x1="520.01" y1="350.90" x2="524.01" y2="350.90" stroke="#111" stroke-width="0.8"/>
<line x1="540.37" y1="333.88" x2="540.37" y2="341.12" stroke="#111" stroke-width="0.8"/>
<line x1="538.37" y1="333.88" x2="542.37" y2="333.88" stroke="#111" stroke-width="0.8"/>
<line x1="538.37" y1="341.12" x2="542.37" y2="341.12" stroke="#111" stroke-width="0.8"/>
<line x1="558.35" y1="313.34" x2="558.35" y2="322.39" stroke="#111" stroke-width="0.8"/>
<line x1="556.35" y1="313.34" x2="560.35" y2="313.34" stroke="#111" stroke-width="0.8"/>
<line x1="556.35" y1="322.39" x2="560.35" y2="322.39" stroke="#111" stroke-width="0.8"/>
<circle cx="394.25" cy="353.80" r="2.80" fill="#e23a4f"/>
<circle cx="412.61" cy="354.70" r="2.80" fill="#e23a4f"/>
<circle cx="430.97" cy="355.60" r="2.80" fill="#e23a4f"/>
<circle cx="448.95" cy="355.60" r="2.80" fill="#e23a4f"/>
<circle cx="467.31" cy="355.60" r="2.80" fill="#e23a4f"/>
<circle cx="485.67" cy="355.60" r="2.80" fill="#e23a4f"/>
<circle cx="503.65" cy="353.43" r="2.80" fill="#e23a4f"/>
<circle cx="522.01" cy="348.18" r="2.80" fill="#e23a4f"/>
<circle cx="540.37" cy="337.50" r="2.80" fill="#e23a4f"/>
<circle cx="558.35" cy="317.87" r="2.80" fill="#e23a4f"/>
<line x1="394.25" y1="349.27" x2="394.25" y2="356.51" stroke="#111" stroke-width="0.8"/>
<line x1="392.25" y1="349.27" x2="396.25" y2="349.27" stroke="#111" stroke-width="0.8"/>
<line x1="392.25" y1="356.51" x2="396.25" y2="356.51" stroke="#111" stroke-width="0.8"/>
<line x1="467.31" y1="341.31" x2="467.31" y2="348.55" stroke="#111" stroke-width="0.8"/>
<line x1="465.31" y1="341.31" x2="469.31" y2="341.31" stroke="#111" stroke-width="0.8"/>
<line x1="465.31" y1="348.55" x2="469.31" y2="348.55" stroke="#111" stroke-width="0.8"/>
<line x1="485.67" y1="331.62" x2="485.67" y2="337.05" stroke="#111" stroke-width="0.8"/>
<line x1="483.67" y1="331.62" x2="487.67" y2="331.62" stroke="#111" stroke-width="0.8"/>
<line x1="483.67" y1="337.05" x2="487.67" y2="337.05" stroke="#111" stroke-width="0.8"/>
<line x1="503.65" y1="312.07" x2="503.65" y2="317.50" stroke="#111" stroke-width="0.8"/>
<line x1="501.65" y1="312.07" x2="505.65" y2="312.07" stroke="#111" stroke-width="0.8"/>
<line x1="501.65" y1="317.50" x2="505.65" y2="317.50" stroke="#111" stroke-width="0.8"/>
<line x1="522.01" y1="290.99" x2="522.01" y2="298.23" stroke="#111" stroke-width="0.8"/>
<line x1="520.01" y1="290.99" x2="524.01" y2="290.99" stroke="#111" stroke-width="0.8"/>
<line x1="520.01" y1="298.23" x2="524.01" y2="298.23" stroke="#111" stroke-width="0.8"/>
<line x1="540.37" y1="273.25" x2="540.37" y2="278.68" stroke="#111" stroke-width="0.8"/>
<line x1="538.37" y1="273.25" x2="542.37" y2="273.25" stroke="#111" stroke-width="0.8"/>
<line x1="538.37" y1="278.68" x2="542.37" y2="278.68" stroke="#111" stroke-width="0.8"/>
<circle cx="394.25" cy="352.89" r="2.80" fill="#f79347"/>
<circle cx="412.61" cy="352.89" r="2.80" fill="#f79347"/>
<circle cx="430.97" cy="351.99" r="2.80" fill="#f79347"/>
<circle cx="448.95" cy="350.54" r="2.80" fill="#f79347"/>
<circle cx="467.31" cy="344.93" r="2.80" fill="#f79347"/>
<circle cx="485.67" cy="334.34" r="2.80" fill="#f79347"/>
<circle cx="503.65" cy="314.79" r="2.80" fill="#f79347"/>
<circle cx="522.01" cy="294.61" r="2.80" fill="#f79347"/>
<circle cx="540.37" cy="275.96" r="2.80" fill="#f79347"/>
<circle cx="558.35" cy="270.90" r="2.80" fill="#f79347"/>
<line x1="448.95" y1="340.04" x2="448.95" y2="347.28" stroke="#111" stroke-width="0.8"/>
<line x1="446.95" y1="340.04" x2="450.95" y2="340.04" stroke="#111" stroke-width="0.8"/>
<line x1="446.95" y1="347.28" x2="450.95" y2="347.28" stroke="#111" stroke-width="0.8"/>
<line x1="467.31" y1="324.02" x2="467.31" y2="331.26" stroke="#111" stroke-width="0.8"/>
<line x1="465.31" y1="324.02" x2="469.31" y2="324.02" stroke="#111" stroke-width="0.8"/>
<line x1="465.31" y1="331.26" x2="469.31" y2="331.26" stroke="#111" stroke-width="0.8"/>
<line x1="485.67" y1="297.87" x2="485.67" y2="305.11" stroke="#111" stroke-width="0.8"/>
<line x1="483.67" y1="297.87" x2="487.67" y2="297.87" stroke="#111" stroke-width="0.8"/>
<line x1="483.67" y1="305.11" x2="487.67" y2="305.11" stroke="#111" stroke-width="0.8"/>
<line x1="503.65" y1="280.31" x2="503.65" y2="287.55" stroke="#111" stroke-width="0.8"/>
<line x1="501.65" y1="280.31" x2="505.65" y2="280.31" stroke="#111" stroke-width="0.8"/>
<line x1="501.65" y1="287.55" x2="505.65" y2="287.55" stroke="#111" stroke-width="0.8"/>
<circle cx="394.25" cy="353.80" r="2.80" fill="#7b7b7d"/>
<circle cx="412.61" cy="352.89" r="2.80" fill="#7b7b7d"/>
<circle cx="430.97" cy="350.18" r="2.80" fill="#7b7b7d"/>
<circle cx="448.95" cy="343.66" r="2.80" fill="#7b7b7d"/>
<circle cx="467.31" cy="327.64" r="2.80" fill="#7b7b7d"/>
<circle cx="485.67" cy="301.49" r="2.80" fill="#7b7b7d"/>
<circle cx="503.65" cy="283.93" r="2.80" fill="#7b7b7d"/>
<circle cx="522.01" cy="272.80" r="2.80" fill="#7b7b7d"/>
<circle cx="540.37" cy="267.91" r="2.80" fill="#7b7b7d"/>
<circle cx="558.35" cy="266.55" r="2.80" fill="#7b7b7d"/>
<line x1="591.70" y1="254.90" x2="605.70" y2="254.90" stroke="#7b7b7d" stroke-width="1"/>
<circle cx="598.70" cy="254.90" r="2.60" fill="#7b7b7d"/>
<text x="613.70" y="258.40" font-size="10" stroke="#1a1a1a" stroke-width="0.18">CC1 pan kinase</text>
<line x1="591.70" y1="271.85" x2="605.70" y2="271.85" stroke="#f79347" stroke-width="1"/>
<circle cx="598.70" cy="271.85" r="2.60" fill="#f79347"/>
<text x="613.70" y="275.35" font-size="10" stroke="#1a1a1a" stroke-width="0.18">GCN2iB</text>
<line x1="591.70" y1="288.80" x2="605.70" y2="288.80" stroke="#e23a4f" stroke-width="1"/>
<circle cx="598.70" cy="288.80" r="2.60" fill="#e23a4f"/>
<text x="613.70" y="292.30" font-size="10" stroke="#1a1a1a" stroke-width="0.18">AZD1775</text>
<line x1="591.70" y1="305.75" x2="605.70" y2="305.75" stroke="#37a2c2" stroke-width="1"/>
<circle cx="598.70" cy="305.75" r="2.60" fill="#37a2c2"/>
<text x="613.70" y="309.25" font-size="10" stroke="#1a1a1a" stroke-width="0.18">Debio 0123</text>
<line x1="591.70" y1="322.70" x2="605.70" y2="322.70" stroke="#3c5b42" stroke-width="1"/>
<circle cx="598.70" cy="322.70" r="2.60" fill="#3c5b42"/>
<text x="613.70" y="326.20" font-size="10" stroke="#1a1a1a" stroke-width="0.18">ZNL 02-096</text>
<line x1="591.70" y1="339.65" x2="605.70" y2="339.65" stroke="#ebbba6" stroke-width="1"/>
<circle cx="598.70" cy="339.65" r="2.60" fill="#ebbba6"/>
<text x="613.70" y="343.15" font-size="10" stroke="#1a1a1a" stroke-width="0.18">RP-6306</text>
<line x1="591.70" y1="356.60" x2="605.70" y2="356.60" stroke="#88b19b" stroke-width="1"/>
<circle cx="598.70" cy="356.60" r="2.60" fill="#88b19b"/>
<text x="613.70" y="360.10" font-size="10" stroke="#1a1a1a" stroke-width="0.18">Neratinib</text>
<text x="9.00" y="411.10" font-size="15" font-weight="bold">e</text>
<rect x="59.60" y="448.40" width="104.90" height="103.70" fill="#fff" stroke="#8c8c8c" stroke-width="0.9"/>
<path d="M60.10,552.10 L60.10,551.70 L60.60,551.70 L61.10,551.70 L61.60,551.70 L62.10,551.70 L62.60,551.69 L63.10,551.69 L63.60,551.68 L64.10,551.68 L64.60,551.67 L65.10,551.66 L65.60,551.65 L66.10,551.64 L66.60,551.63 L67.10,551.62 L67.60,551.61 L68.10,551.60 L68.60,551.58 L69.10,551.57 L69.60,551.56 L70.10,551.54 L70.60,551.52 L71.10,551.51 L71.60,551.49 L72.10,551.47 L72.60,551.45 L73.10,551.44 L73.60,551.41 L74.10,551.39 L74.60,551.37 L75.10,551.35 L75.60,551.33 L76.10,551.31 L76.60,551.29 L77.10,551.26 L77.60,551.23 L78.10,551.21 L78.60,551.18 L79.10,551.16 L79.60,551.13 L80.10,551.10 L80.60,551.08 L81.10,551.04 L81.60,551.00 L82.10,550.95 L82.60,550.91 L83.10,550.85 L83.60,550.79 L84.10,550.73 L84.60,550.66 L85.10,550.58 L85.60,550.49 L86.10,550.41 L86.60,550.32 L87.10,550.21 L87.60,550.10 L88.10,549.98 L88.60,549.86 L89.10,549.74 L89.60,549.60 L90.10,549.46 L90.60,549.30 L91.10,549.15 L91.60,548.98 L92.10,548.79 L92.60,548.55 L93.10,548.23 L93.60,547.80 L94.10,547.32 L94.60,546.74 L95.10,546.08 L95.60,545.38 L96.10,544.61 L96.60,543.85 L97.10,542.96 L97.60,542.08 L98.10,541.16 L98.60,540.03 L99.10,538.61 L99.60,536.99 L100.10,535.21 L100.60,533.04 L101.10,530.97 L101.60,528.96 L102.10,526.21 L102.60,523.61 L103.10,521.39 L103.60,519.30 L104.10,516.75 L104.60,513.36 L105.10,510.38 L105.60,506.82 L106.10,503.62 L106.60,500.01 L107.10,496.20 L107.60,491.99 L108.10,487.60 L108.60,482.41 L109.10,479.26 L109.60,475.51 L110.10,471.97 L110.60,472.25 L111.10,469.95 L111.60,465.48 L112.10,463.53 L112.60,459.05 L113.10,458.97 L113.60,457.45 L114.10,452.90 L114.60,452.90 L115.10,452.90 L115.60,457.36 L116.10,461.72 L116.60,462.61 L117.10,466.71 L117.60,469.26 L118.10,472.25 L118.60,476.31 L119.10,479.16 L119.60,482.34 L120.10,486.80 L120.60,491.42 L121.10,494.23 L121.60,497.52 L122.10,502.22 L122.60,506.21 L123.10,510.09 L123.60,513.71 L124.10,518.08 L124.60,522.12 L125.10,525.38 L125.60,528.04 L126.10,530.78 L126.60,533.25 L127.10,535.53 L127.60,537.47 L128.10,539.20 L128.60,540.64 L129.10,541.70 L129.60,542.73 L130.10,543.64 L130.60,544.42 L131.10,545.18 L131.60,545.87 L132.10,546.50 L132.60,547.11 L133.10,547.65 L133.60,548.08 L134.10,548.46 L134.60,548.74 L135.10,548.95 L135.60,549.16 L136.10,549.37 L136.60,549.57 L137.10,549.74 L137.60,549.91 L138.10,550.07 L138.60,550.23 L139.10,550.38 L139.60,550.51 L140.10,550.63 L140.60,550.74 L141.10,550.84 L141.60,550.94 L142.10,551.02 L142.60,551.10 L143.10,551.16 L143.60,551.22 L144.10,551.26 L144.60,551.29 L145.10,551.32 L145.60,551.35 L146.10,551.37 L146.60,551.39 L147.10,551.42 L147.60,551.44 L148.10,551.46 L148.60,551.48 L149.10,551.50 L149.60,551.52 L150.10,551.54 L150.60,551.56 L151.10,551.58 L151.60,551.60 L152.10,551.61 L152.60,551.63 L153.10,551.64 L153.60,551.66 L154.10,551.67 L154.60,551.68 L155.10,551.69 L155.60,551.71 L156.10,551.72 L156.60,551.73 L157.10,551.74 L157.60,551.75 L158.10,551.75 L158.60,551.76 L159.10,551.77 L159.60,551.78 L160.10,551.78 L160.60,551.79 L161.10,551.79 L161.60,551.79 L162.10,551.80 L162.60,551.80 L163.10,551.80 L163.60,551.80 L164.00,552.10 Z" fill="#b4b5b7" fill-opacity="0.745"/>
<path d="M60.10,551.70 L60.60,551.70 L61.10,551.70 L61.60,551.70 L62.10,551.70 L62.60,551.69 L63.10,551.69 L63.60,551.68 L64.10,551.68 L64.60,551.67 L65.10,551.66 L65.60,551.65 L66.10,551.64 L66.60,551.63 L67.10,551.62 L67.60,551.61 L68.10,551.60 L68.60,551.58 L69.10,551.57 L69.60,551.56 L70.10,551.54 L70.60,551.52 L71.10,551.51 L71.60,551.49 L72.10,551.47 L72.60,551.45 L73.10,551.44 L73.60,551.41 L74.10,551.39 L74.60,551.37 L75.10,551.35 L75.60,551.33 L76.10,551.31 L76.60,551.29 L77.10,551.26 L77.60,551.23 L78.10,551.21 L78.60,551.18 L79.10,551.16 L79.60,551.13 L80.10,551.10 L80.60,551.08 L81.10,551.04 L81.60,551.00 L82.10,550.95 L82.60,550.91 L83.10,550.85 L83.60,550.79 L84.10,550.73 L84.60,550.66 L85.10,550.58 L85.60,550.49 L86.10,550.41 L86.60,550.32 L87.10,550.21 L87.60,550.10 L88.10,549.98 L88.60,549.86 L89.10,549.74 L89.60,549.60 L90.10,549.46 L90.60,549.30 L91.10,549.15 L91.60,548.98 L92.10,548.79 L92.60,548.55 L93.10,548.23 L93.60,547.80 L94.10,547.32 L94.60,546.74 L95.10,546.08 L95.60,545.38 L96.10,544.61 L96.60,543.85 L97.10,542.96 L97.60,542.08 L98.10,541.16 L98.60,540.03 L99.10,538.61 L99.60,536.99 L100.10,535.21 L100.60,533.04 L101.10,530.97 L101.60,528.96 L102.10,526.21 L102.60,523.61 L103.10,521.39 L103.60,519.30 L104.10,516.75 L104.60,513.36 L105.10,510.38 L105.60,506.82 L106.10,503.62 L106.60,500.01 L107.10,496.20 L107.60,491.99 L108.10,487.60 L108.60,482.41 L109.10,479.26 L109.60,475.51 L110.10,471.97 L110.60,472.25 L111.10,469.95 L111.60,465.48 L112.10,463.53 L112.60,459.05 L113.10,458.97 L113.60,457.45 L114.10,452.90 L114.60,452.90 L115.10,452.90 L115.60,457.36 L116.10,461.72 L116.60,462.61 L117.10,466.71 L117.60,469.26 L118.10,472.25 L118.60,476.31 L119.10,479.16 L119.60,482.34 L120.10,486.80 L120.60,491.42 L121.10,494.23 L121.60,497.52 L122.10,502.22 L122.60,506.21 L123.10,510.09 L123.60,513.71 L124.10,518.08 L124.60,522.12 L125.10,525.38 L125.60,528.04 L126.10,530.78 L126.60,533.25 L127.10,535.53 L127.60,537.47 L128.10,539.20 L128.60,540.64 L129.10,541.70 L129.60,542.73 L130.10,543.64 L130.60,544.42 L131.10,545.18 L131.60,545.87 L132.10,546.50 L132.60,547.11 L133.10,547.65 L133.60,548.08 L134.10,548.46 L134.60,548.74 L135.10,548.95 L135.60,549.16 L136.10,549.37 L136.60,549.57 L137.10,549.74 L137.60,549.91 L138.10,550.07 L138.60,550.23 L139.10,550.38 L139.60,550.51 L140.10,550.63 L140.60,550.74 L141.10,550.84 L141.60,550.94 L142.10,551.02 L142.60,551.10 L143.10,551.16 L143.60,551.22 L144.10,551.26 L144.60,551.29 L145.10,551.32 L145.60,551.35 L146.10,551.37 L146.60,551.39 L147.10,551.42 L147.60,551.44 L148.10,551.46 L148.60,551.48 L149.10,551.50 L149.60,551.52 L150.10,551.54 L150.60,551.56 L151.10,551.58 L151.60,551.60 L152.10,551.61 L152.60,551.63 L153.10,551.64 L153.60,551.66 L154.10,551.67 L154.60,551.68 L155.10,551.69 L155.60,551.71 L156.10,551.72 L156.60,551.73 L157.10,551.74 L157.60,551.75 L158.10,551.75 L158.60,551.76 L159.10,551.77 L159.60,551.78 L160.10,551.78 L160.60,551.79 L161.10,551.79 L161.60,551.79 L162.10,551.80 L162.60,551.80 L163.10,551.80 L163.60,551.80" fill="none" stroke="#5c5c5c" stroke-width="0.75"/>
<path d="M60.10,552.10 L60.10,551.70 L60.60,551.70 L61.10,551.70 L61.60,551.69 L62.10,551.69 L62.60,551.68 L63.10,551.66 L63.60,551.65 L64.10,551.64 L64.60,551.62 L65.10,551.60 L65.60,551.58 L66.10,551.56 L66.60,551.54 L67.10,551.51 L67.60,551.49 L68.10,551.46 L68.60,551.43 L69.10,551.40 L69.60,551.37 L70.10,551.34 L70.60,551.31 L71.10,551.27 L71.60,551.24 L72.10,551.21 L72.60,551.17 L73.10,551.14 L73.60,551.10 L74.10,551.06 L74.60,551.02 L75.10,550.97 L75.60,550.92 L76.10,550.87 L76.60,550.81 L77.10,550.75 L77.60,550.68 L78.10,550.61 L78.60,550.53 L79.10,550.44 L79.60,550.35 L80.10,550.26 L80.60,550.17 L81.10,550.06 L81.60,549.94 L82.10,549.82 L82.60,549.70 L83.10,549.56 L83.60,549.41 L84.10,549.27 L84.60,549.12 L85.10,548.96 L85.60,548.80 L86.10,548.59 L86.60,548.31 L87.10,547.97 L87.60,547.57 L88.10,547.11 L88.60,546.62 L89.10,546.08 L89.60,545.49 L90.10,544.88 L90.60,544.15 L91.10,543.44 L91.60,542.71 L92.10,541.90 L92.60,541.06 L93.10,540.03 L93.60,538.78 L94.10,537.45 L94.60,536.26 L95.10,534.73 L95.60,532.80 L96.10,530.68 L96.60,528.48 L97.10,526.53 L97.60,524.74 L98.10,521.79 L98.60,518.23 L99.10,514.78 L99.60,511.12 L100.10,507.79 L100.60,504.30 L101.10,500.54 L101.60,496.65 L102.10,492.90 L102.60,489.35 L103.10,485.99 L103.60,481.80 L104.10,478.10 L104.60,474.22 L105.10,471.62 L105.60,470.56 L106.10,469.46 L106.60,467.41 L107.10,464.21 L107.60,462.43 L108.10,461.21 L108.60,459.55 L109.10,458.26 L109.60,455.95 L110.10,455.16 L110.60,456.35 L111.10,460.36 L111.60,464.99 L112.10,470.27 L112.60,473.02 L113.10,476.51 L113.60,482.03 L114.10,486.21 L114.60,490.59 L115.10,495.43 L115.60,498.49 L116.10,501.77 L116.60,505.49 L117.10,508.32 L117.60,511.37 L118.10,513.81 L118.60,516.28 L119.10,517.93 L119.60,520.18 L120.10,522.62 L120.60,524.80 L121.10,526.53 L121.60,528.73 L122.10,531.33 L122.60,533.14 L123.10,535.04 L123.60,537.07 L124.10,538.82 L124.60,540.13 L125.10,541.30 L125.60,542.36 L126.10,543.33 L126.60,544.18 L127.10,545.03 L127.60,545.85 L128.10,546.57 L128.60,547.23 L129.10,547.77 L129.60,548.24 L130.10,548.61 L130.60,548.87 L131.10,549.08 L131.60,549.29 L132.10,549.49 L132.60,549.68 L133.10,549.86 L133.60,550.03 L134.10,550.19 L134.60,550.33 L135.10,550.48 L135.60,550.61 L136.10,550.72 L136.60,550.82 L137.10,550.92 L137.60,551.01 L138.10,551.08 L138.60,551.15 L139.10,551.21 L139.60,551.25 L140.10,551.29 L140.60,551.31 L141.10,551.33 L141.60,551.35 L142.10,551.37 L142.60,551.39 L143.10,551.41 L143.60,551.43 L144.10,551.45 L144.60,551.47 L145.10,551.49 L145.60,551.50 L146.10,551.52 L146.60,551.54 L147.10,551.55 L147.60,551.57 L148.10,551.58 L148.60,551.59 L149.10,551.61 L149.60,551.62 L150.10,551.64 L150.60,551.65 L151.10,551.66 L151.60,551.67 L152.10,551.68 L152.60,551.69 L153.10,551.70 L153.60,551.71 L154.10,551.72 L154.60,551.73 L155.10,551.73 L155.60,551.74 L156.10,551.75 L156.60,551.76 L157.10,551.76 L157.60,551.77 L158.10,551.77 L158.60,551.78 L159.10,551.78 L159.60,551.79 L160.10,551.79 L160.60,551.79 L161.10,551.80 L161.60,551.80 L162.10,551.80 L162.60,551.80 L163.10,551.80 L163.60,551.80 L164.00,552.10 Z" fill="#f00017" fill-opacity="0.331"/>
<path d="M60.10,551.70 L60.60,551.70 L61.10,551.70 L61.60,551.69 L62.10,551.69 L62.60,551.68 L63.10,551.66 L63.60,551.65 L64.10,551.64 L64.60,551.62 L65.10,551.60 L65.60,551.58 L66.10,551.56 L66.60,551.54 L67.10,551.51 L67.60,551.49 L68.10,551.46 L68.60,551.43 L69.10,551.40 L69.60,551.37 L70.10,551.34 L70.60,551.31 L71.10,551.27 L71.60,551.24 L72.10,551.21 L72.60,551.17 L73.10,551.14 L73.60,551.10 L74.10,551.06 L74.60,551.02 L75.10,550.97 L75.60,550.92 L76.10,550.87 L76.60,550.81 L77.10,550.75 L77.60,550.68 L78.10,550.61 L78.60,550.53 L79.10,550.44 L79.60,550.35 L80.10,550.26 L80.60,550.17 L81.10,550.06 L81.60,549.94 L82.10,549.82 L82.60,549.70 L83.10,549.56 L83.60,549.41 L84.10,549.27 L84.60,549.12 L85.10,548.96 L85.60,548.80 L86.10,548.59 L86.60,548.31 L87.10,547.97 L87.60,547.57 L88.10,547.11 L88.60,546.62 L89.10,546.08 L89.60,545.49 L90.10,544.88 L90.60,544.15 L91.10,543.44 L91.60,542.71 L92.10,541.90 L92.60,541.06 L93.10,540.03 L93.60,538.78 L94.10,537.45 L94.60,536.26 L95.10,534.73 L95.60,532.80 L96.10,530.68 L96.60,528.48 L97.10,526.53 L97.60,524.74 L98.10,521.79 L98.60,518.23 L99.10,514.78 L99.60,511.12 L100.10,507.79 L100.60,504.30 L101.10,500.54 L101.60,496.65 L102.10,492.90 L102.60,489.35 L103.10,485.99 L103.60,481.80 L104.10,478.10 L104.60,474.22 L105.10,471.62 L105.60,470.56 L106.10,469.46 L106.60,467.41 L107.10,464.21 L107.60,462.43 L108.10,461.21 L108.60,459.55 L109.10,458.26 L109.60,455.95 L110.10,455.16 L110.60,456.35 L111.10,460.36 L111.60,464.99 L112.10,470.27 L112.60,473.02 L113.10,476.51 L113.60,482.03 L114.10,486.21 L114.60,490.59 L115.10,495.43 L115.60,498.49 L116.10,501.77 L116.60,505.49 L117.10,508.32 L117.60,511.37 L118.10,513.81 L118.60,516.28 L119.10,517.93 L119.60,520.18 L120.10,522.62 L120.60,524.80 L121.10,526.53 L121.60,528.73 L122.10,531.33 L122.60,533.14 L123.10,535.04 L123.60,537.07 L124.10,538.82 L124.60,540.13 L125.10,541.30 L125.60,542.36 L126.10,543.33 L126.60,544.18 L127.10,545.03 L127.60,545.85 L128.10,546.57 L128.60,547.23 L129.10,547.77 L129.60,548.24 L130.10,548.61 L130.60,548.87 L131.10,549.08 L131.60,549.29 L132.10,549.49 L132.60,549.68 L133.10,549.86 L133.60,550.03 L134.10,550.19 L134.60,550.33 L135.10,550.48 L135.60,550.61 L136.10,550.72 L136.60,550.82 L137.10,550.92 L137.60,551.01 L138.10,551.08 L138.60,551.15 L139.10,551.21 L139.60,551.25 L140.10,551.29 L140.60,551.31 L141.10,551.33 L141.60,551.35 L142.10,551.37 L142.60,551.39 L143.10,551.41 L143.60,551.43 L144.10,551.45 L144.60,551.47 L145.10,551.49 L145.60,551.50 L146.10,551.52 L146.60,551.54 L147.10,551.55 L147.60,551.57 L148.10,551.58 L148.60,551.59 L149.10,551.61 L149.60,551.62 L150.10,551.64 L150.60,551.65 L151.10,551.66 L151.60,551.67 L152.10,551.68 L152.60,551.69 L153.10,551.70 L153.60,551.71 L154.10,551.72 L154.60,551.73 L155.10,551.73 L155.60,551.74 L156.10,551.75 L156.60,551.76 L157.10,551.76 L157.60,551.77 L158.10,551.77 L158.60,551.78 L159.10,551.78 L159.60,551.79 L160.10,551.79 L160.60,551.79 L161.10,551.80 L161.60,551.80 L162.10,551.80 L162.60,551.80 L163.10,551.80 L163.60,551.80" fill="none" stroke="#e6334f" stroke-width="0.75"/>
<path d="M60.10,552.10 L60.10,551.70 L60.60,551.70 L61.10,551.70 L61.60,551.70 L62.10,551.70 L62.60,551.69 L63.10,551.68 L63.60,551.68 L64.10,551.67 L64.60,551.66 L65.10,551.65 L65.60,551.64 L66.10,551.63 L66.60,551.61 L67.10,551.60 L67.60,551.59 L68.10,551.57 L68.60,551.55 L69.10,551.54 L69.60,551.52 L70.10,551.50 L70.60,551.48 L71.10,551.46 L71.60,551.44 L72.10,551.42 L72.60,551.39 L73.10,551.37 L73.60,551.35 L74.10,551.32 L74.60,551.30 L75.10,551.27 L75.60,551.24 L76.10,551.22 L76.60,551.19 L77.10,551.16 L77.60,551.13 L78.10,551.10 L78.60,551.07 L79.10,551.03 L79.60,550.99 L80.10,550.94 L80.60,550.89 L81.10,550.84 L81.60,550.77 L82.10,550.71 L82.60,550.64 L83.10,550.56 L83.60,550.48 L84.10,550.39 L84.60,550.29 L85.10,550.19 L85.60,550.09 L86.10,549.97 L86.60,549.85 L87.10,549.71 L87.60,549.58 L88.10,549.44 L88.60,549.29 L89.10,549.13 L89.60,548.98 L90.10,548.80 L90.60,548.56 L91.10,548.25 L91.60,547.88 L92.10,547.47 L92.60,546.94 L93.10,546.38 L93.60,545.77 L94.10,545.03 L94.60,544.28 L95.10,543.53 L95.60,542.67 L96.10,541.82 L96.60,540.93 L97.10,539.81 L97.60,538.37 L98.10,537.01 L98.60,535.08 L99.10,533.04 L99.60,531.26 L100.10,528.94 L100.60,526.50 L101.10,523.96 L101.60,521.42 L102.10,519.27 L102.60,516.63 L103.10,512.66 L103.60,509.33 L104.10,506.75 L104.60,503.28 L105.10,499.52 L105.60,495.49 L106.10,491.17 L106.60,486.84 L107.10,484.43 L107.60,479.16 L108.10,475.80 L108.60,473.50 L109.10,470.93 L109.60,470.92 L110.10,465.94 L110.60,463.95 L111.10,463.82 L111.60,460.95 L112.10,458.37 L112.60,453.48 L113.10,455.45 L113.60,460.84 L114.10,465.56 L114.60,468.39 L115.10,470.87 L115.60,474.11 L116.10,477.50 L116.60,480.58 L117.10,484.05 L117.60,488.29 L118.10,492.70 L118.60,496.14 L119.10,498.76 L119.60,504.05 L120.10,507.68 L120.60,510.44 L121.10,513.80 L121.60,516.79 L122.10,519.58 L122.60,522.27 L123.10,524.99 L123.60,527.55 L124.10,529.65 L124.60,532.02 L125.10,533.91 L125.60,535.75 L126.10,537.45 L126.60,538.86 L127.10,540.17 L127.60,541.27 L128.10,542.34 L128.60,543.24 L129.10,544.15 L129.60,545.05 L130.10,545.88 L130.60,546.59 L131.10,547.25 L131.60,547.80 L132.10,548.20 L132.60,548.58 L133.10,548.85 L133.60,549.09 L134.10,549.29 L134.60,549.49 L135.10,549.68 L135.60,549.86 L136.10,550.03 L136.60,550.20 L137.10,550.33 L137.60,550.47 L138.10,550.59 L138.60,550.71 L139.10,550.82 L139.60,550.92 L140.10,551.00 L140.60,551.08 L141.10,551.15 L141.60,551.20 L142.10,551.25 L142.60,551.28 L143.10,551.31 L143.60,551.33 L144.10,551.35 L144.60,551.38 L145.10,551.40 L145.60,551.42 L146.10,551.44 L146.60,551.46 L147.10,551.48 L147.60,551.50 L148.10,551.52 L148.60,551.54 L149.10,551.55 L149.60,551.57 L150.10,551.59 L150.60,551.60 L151.10,551.62 L151.60,551.63 L152.10,551.64 L152.60,551.66 L153.10,551.67 L153.60,551.68 L154.10,551.69 L154.60,551.70 L155.10,551.71 L155.60,551.72 L156.10,551.73 L156.60,551.74 L157.10,551.75 L157.60,551.76 L158.10,551.76 L158.60,551.77 L159.10,551.78 L159.60,551.78 L160.10,551.79 L160.60,551.79 L161.10,551.79 L161.60,551.80 L162.10,551.80 L162.60,551.80 L163.10,551.80 L163.60,551.80 L164.00,552.10 Z" fill="#4eaabe" fill-opacity="0.458"/>
<path d="M60.10,551.70 L60.60,551.70 L61.10,551.70 L61.60,551.70 L62.10,551.70 L62.60,551.69 L63.10,551.68 L63.60,551.68 L64.10,551.67 L64.60,551.66 L65.10,551.65 L65.60,551.64 L66.10,551.63 L66.60,551.61 L67.10,551.60 L67.60,551.59 L68.10,551.57 L68.60,551.55 L69.10,551.54 L69.60,551.52 L70.10,551.50 L70.60,551.48 L71.10,551.46 L71.60,551.44 L72.10,551.42 L72.60,551.39 L73.10,551.37 L73.60,551.35 L74.10,551.32 L74.60,551.30 L75.10,551.27 L75.60,551.24 L76.10,551.22 L76.60,551.19 L77.10,551.16 L77.60,551.13 L78.10,551.10 L78.60,551.07 L79.10,551.03 L79.60,550.99 L80.10,550.94 L80.60,550.89 L81.10,550.84 L81.60,550.77 L82.10,550.71 L82.60,550.64 L83.10,550.56 L83.60,550.48 L84.10,550.39 L84.60,550.29 L85.10,550.19 L85.60,550.09 L86.10,549.97 L86.60,549.85 L87.10,549.71 L87.60,549.58 L88.10,549.44 L88.60,549.29 L89.10,549.13 L89.60,548.98 L90.10,548.80 L90.60,548.56 L91.10,548.25 L91.60,547.88 L92.10,547.47 L92.60,546.94 L93.10,546.38 L93.60,545.77 L94.10,545.03 L94.60,544.28 L95.10,543.53 L95.60,542.67 L96.10,541.82 L96.60,540.93 L97.10,539.81 L97.60,538.37 L98.10,537.01 L98.60,535.08 L99.10,533.04 L99.60,531.26 L100.10,528.94 L100.60,526.50 L101.10,523.96 L101.60,521.42 L102.10,519.27 L102.60,516.63 L103.10,512.66 L103.60,509.33 L104.10,506.75 L104.60,503.28 L105.10,499.52 L105.60,495.49 L106.10,491.17 L106.60,486.84 L107.10,484.43 L107.60,479.16 L108.10,475.80 L108.60,473.50 L109.10,470.93 L109.60,470.92 L110.10,465.94 L110.60,463.95 L111.10,463.82 L111.60,460.95 L112.10,458.37 L112.60,453.48 L113.10,455.45 L113.60,460.84 L114.10,465.56 L114.60,468.39 L115.10,470.87 L115.60,474.11 L116.10,477.50 L116.60,480.58 L117.10,484.05 L117.60,488.29 L118.10,492.70 L118.60,496.14 L119.10,498.76 L119.60,504.05 L120.10,507.68 L120.60,510.44 L121.10,513.80 L121.60,516.79 L122.10,519.58 L122.60,522.27 L123.10,524.99 L123.60,527.55 L124.10,529.65 L124.60,532.02 L125.10,533.91 L125.60,535.75 L126.10,537.45 L126.60,538.86 L127.10,540.17 L127.60,541.27 L128.10,542.34 L128.60,543.24 L129.10,544.15 L129.60,545.05 L130.10,545.88 L130.60,546.59 L131.10,547.25 L131.60,547.80 L132.10,548.20 L132.60,548.58 L133.10,548.85 L133.60,549.09 L134.10,549.29 L134.60,549.49 L135.10,549.68 L135.60,549.86 L136.10,550.03 L136.60,550.20 L137.10,550.33 L137.60,550.47 L138.10,550.59 L138.60,550.71 L139.10,550.82 L139.60,550.92 L140.10,551.00 L140.60,551.08 L141.10,551.15 L141.60,551.20 L142.10,551.25 L142.60,551.28 L143.10,551.31 L143.60,551.33 L144.10,551.35 L144.60,551.38 L145.10,551.40 L145.60,551.42 L146.10,551.44 L146.60,551.46 L147.10,551.48 L147.60,551.50 L148.10,551.52 L148.60,551.54 L149.10,551.55 L149.60,551.57 L150.10,551.59 L150.60,551.60 L151.10,551.62 L151.60,551.63 L152.10,551.64 L152.60,551.66 L153.10,551.67 L153.60,551.68 L154.10,551.69 L154.60,551.70 L155.10,551.71 L155.60,551.72 L156.10,551.73 L156.60,551.74 L157.10,551.75 L157.60,551.76 L158.10,551.76 L158.60,551.77 L159.10,551.78 L159.60,551.78 L160.10,551.79 L160.60,551.79 L161.10,551.79 L161.60,551.80 L162.10,551.80 L162.60,551.80 L163.10,551.80 L163.60,551.80" fill="none" stroke="#2fa0ba" stroke-width="0.75"/>
<line x1="56.60" y1="552.10" x2="59.60" y2="552.10" stroke="#222" stroke-width="1.0"/>
<text x="54.30" y="555.50" font-size="9.6" text-anchor="end" stroke="#1a1a1a" stroke-width="0.18">0</text>
<line x1="58.30" y1="547.14" x2="59.60" y2="547.14" stroke="#444" stroke-width="0.9"/>
<line x1="58.30" y1="542.18" x2="59.60" y2="542.18" stroke="#444" stroke-width="0.9"/>
<line x1="58.30" y1="537.22" x2="59.60" y2="537.22" stroke="#444" stroke-width="0.9"/>
<line x1="56.60" y1="532.26" x2="59.60" y2="532.26" stroke="#222" stroke-width="1.0"/>
<text x="54.30" y="535.66" font-size="9.6" text-anchor="end" stroke="#1a1a1a" stroke-width="0.18">20</text>
<line x1="58.30" y1="527.30" x2="59.60" y2="527.30" stroke="#444" stroke-width="0.9"/>
<line x1="58.30" y1="522.34" x2="59.60" y2="522.34" stroke="#444" stroke-width="0.9"/>
<line x1="58.30" y1="517.38" x2="59.60" y2="517.38" stroke="#444" stroke-width="0.9"/>
<line x1="56.60" y1="512.42" x2="59.60" y2="512.42" stroke="#222" stroke-width="1.0"/>
<text x="54.30" y="515.82" font-size="9.6" text-anchor="end" stroke="#1a1a1a" stroke-width="0.18">40</text>
<line x1="58.30" y1="507.46" x2="59.60" y2="507.46" stroke="#444" stroke-width="0.9"/>
<line x1="58.30" y1="502.50" x2="59.60" y2="502.50" stroke="#444" stroke-width="0.9"/>
<line x1="58.30" y1="497.54" x2="59.60" y2="497.54" stroke="#444" stroke-width="0.9"/>
<line x1="56.60" y1="492.58" x2="59.60" y2="492.58" stroke="#222" stroke-width="1.0"/>
<text x="54.30" y="495.98" font-size="9.6" text-anchor="end" stroke="#1a1a1a" stroke-width="0.18">60</text>
<line x1="58.30" y1="487.62" x2="59.60" y2="487.62" stroke="#444" stroke-width="0.9"/>
<line x1="58.30" y1="482.66" x2="59.60" y2="482.66" stroke="#444" stroke-width="0.9"/>
<line x1="58.30" y1="477.70" x2="59.60" y2="477.70" stroke="#444" stroke-width="0.9"/>
<line x1="56.60" y1="472.74" x2="59.60" y2="472.74" stroke="#222" stroke-width="1.0"/>
<text x="54.30" y="476.14" font-size="9.6" text-anchor="end" stroke="#1a1a1a" stroke-width="0.18">80</text>
<line x1="58.30" y1="467.78" x2="59.60" y2="467.78" stroke="#444" stroke-width="0.9"/>
<line x1="58.30" y1="462.82" x2="59.60" y2="462.82" stroke="#444" stroke-width="0.9"/>
<line x1="58.30" y1="457.86" x2="59.60" y2="457.86" stroke="#444" stroke-width="0.9"/>
<line x1="56.60" y1="452.90" x2="59.60" y2="452.90" stroke="#222" stroke-width="1.0"/>
<text x="54.30" y="456.30" font-size="9.6" text-anchor="end" stroke="#1a1a1a" stroke-width="0.18">100</text>
<line x1="59.60" y1="552.10" x2="164.50" y2="552.10" stroke="#666" stroke-width="1.0"/>
<line x1="59.68" y1="552.10" x2="59.68" y2="553.90" stroke="#555" stroke-width="0.6"/>
<line x1="64.85" y1="552.10" x2="64.85" y2="553.90" stroke="#555" stroke-width="0.6"/>
<line x1="68.85" y1="552.10" x2="68.85" y2="553.90" stroke="#555" stroke-width="0.6"/>
<line x1="72.13" y1="552.10" x2="72.13" y2="553.90" stroke="#555" stroke-width="0.6"/>
<line x1="74.89" y1="552.10" x2="74.89" y2="553.90" stroke="#555" stroke-width="0.6"/>
<line x1="77.29" y1="552.10" x2="77.29" y2="553.90" stroke="#555" stroke-width="0.6"/>
<line x1="79.41" y1="552.10" x2="79.41" y2="553.90" stroke="#555" stroke-width="0.6"/>
<line x1="81.30" y1="552.10" x2="81.30" y2="555.60" stroke="#333" stroke-width="0.9"/>
<line x1="93.75" y1="552.10" x2="93.75" y2="553.90" stroke="#555" stroke-width="0.6"/>
<line x1="101.03" y1="552.10" x2="101.03" y2="553.90" stroke="#555" stroke-width="0.6"/>
<line x1="106.20" y1="552.10" x2="106.20" y2="553.90" stroke="#555" stroke-width="0.6"/>
<line x1="110.20" y1="552.10" x2="110.20" y2="553.90" stroke="#555" stroke-width="0.6"/>
<line x1="113.48" y1="552.10" x2="113.48" y2="553.90" stroke="#555" stroke-width="0.6"/>
<line x1="116.24" y1="552.10" x2="116.24" y2="553.90" stroke="#555" stroke-width="0.6"/>
<line x1="118.64" y1="552.10" x2="118.64" y2="553.90" stroke="#555" stroke-width="0.6"/>
<line x1="120.76" y1="552.10" x2="120.76" y2="553.90" stroke="#555" stroke-width="0.6"/>
<line x1="122.65" y1="552.10" x2="122.65" y2="555.60" stroke="#333" stroke-width="0.9"/>
<line x1="135.10" y1="552.10" x2="135.10" y2="553.90" stroke="#555" stroke-width="0.6"/>
<line x1="142.38" y1="552.10" x2="142.38" y2="553.90" stroke="#555" stroke-width="0.6"/>
<line x1="147.55" y1="552.10" x2="147.55" y2="553.90" stroke="#555" stroke-width="0.6"/>
<line x1="151.55" y1="552.10" x2="151.55" y2="553.90" stroke="#555" stroke-width="0.6"/>
<line x1="154.83" y1="552.10" x2="154.83" y2="553.90" stroke="#555" stroke-width="0.6"/>
<line x1="157.59" y1="552.10" x2="157.59" y2="553.90" stroke="#555" stroke-width="0.6"/>
<line x1="159.99" y1="552.10" x2="159.99" y2="553.90" stroke="#555" stroke-width="0.6"/>
<line x1="162.11" y1="552.10" x2="162.11" y2="553.90" stroke="#555" stroke-width="0.6"/>
<line x1="164.00" y1="552.10" x2="164.00" y2="555.60" stroke="#333" stroke-width="0.9"/>
<text x="84.00" y="566.20" font-size="9.5" text-anchor="end" stroke="#1a1a1a" stroke-width="0.18">10</text>
<text x="84.20" y="560.80" font-size="6.0" stroke="#1a1a1a" stroke-width="0.18">4</text>
<text x="125.35" y="566.20" font-size="9.5" text-anchor="end" stroke="#1a1a1a" stroke-width="0.18">10</text>
<text x="125.55" y="560.80" font-size="6.0" stroke="#1a1a1a" stroke-width="0.18">5</text>
<text x="166.70" y="566.20" font-size="9.5" text-anchor="end" stroke="#1a1a1a" stroke-width="0.18">10</text>
<text x="166.90" y="560.80" font-size="6.0" stroke="#1a1a1a" stroke-width="0.18">6</text>
<text x="112.00" y="442.70" font-size="10" text-anchor="middle" stroke="#1a1a1a" stroke-width="0.18">DMSO</text>
<text x="60.80" y="457.30" font-size="8.6" fill="#9a9a9a" stroke="#9a9a9a" stroke-width="0.18">siSCR</text>
<text x="60.80" y="467.90" font-size="8.6" fill="#e4324f" stroke="#e4324f" stroke-width="0.18">siGCN1 #1</text>
<text x="60.80" y="478.50" font-size="8.6" fill="#2aa0bb" stroke="#2aa0bb" stroke-width="0.18">siGCN1 #2</text>
<rect x="188.10" y="448.40" width="104.60" height="103.70" fill="#fff" stroke="#8c8c8c" stroke-width="0.9"/>
<path d="M188.60,552.10 L188.60,551.70 L189.10,551.70 L189.60,551.70 L190.10,551.70 L190.60,551.70 L191.10,551.70 L191.60,551.69 L192.10,551.69 L192.60,551.69 L193.10,551.68 L193.60,551.68 L194.10,551.68 L194.60,551.67 L195.10,551.66 L195.60,551.66 L196.10,551.65 L196.60,551.65 L197.10,551.64 L197.60,551.63 L198.10,551.62 L198.60,551.61 L199.10,551.60 L199.60,551.59 L200.10,551.58 L200.60,551.57 L201.10,551.56 L201.60,551.55 L202.10,551.54 L202.60,551.53 L203.10,551.51 L203.60,551.50 L204.10,551.49 L204.60,551.47 L205.10,551.46 L205.60,551.44 L206.10,551.43 L206.60,551.41 L207.10,551.39 L207.60,551.38 L208.10,551.36 L208.60,551.34 L209.10,551.33 L209.60,551.31 L210.10,551.29 L210.60,551.27 L211.10,551.25 L211.60,551.23 L212.10,551.21 L212.60,551.19 L213.10,551.17 L213.60,551.14 L214.10,551.12 L214.60,551.10 L215.10,551.07 L215.60,551.03 L216.10,551.00 L216.60,550.95 L217.10,550.90 L217.60,550.84 L218.10,550.78 L218.60,550.71 L219.10,550.64 L219.60,550.55 L220.10,550.47 L220.60,550.38 L221.10,550.28 L221.60,550.17 L222.10,550.06 L222.60,549.94 L223.10,549.82 L223.60,549.68 L224.10,549.54 L224.60,549.40 L225.10,549.24 L225.60,549.08 L226.10,548.91 L226.60,548.76 L227.10,548.52 L227.60,548.24 L228.10,547.88 L228.60,547.43 L229.10,546.97 L229.60,546.53 L230.10,545.96 L230.60,545.37 L231.10,544.78 L231.60,544.06 L232.10,543.32 L232.60,542.63 L233.10,541.95 L233.60,541.06 L234.10,540.22 L234.60,539.34 L235.10,538.33 L235.60,537.07 L236.10,535.81 L236.60,534.61 L237.10,533.14 L237.60,531.62 L238.10,530.33 L238.60,528.58 L239.10,527.05 L239.60,525.06 L240.10,522.56 L240.60,520.10 L241.10,517.41 L241.60,514.23 L242.10,510.56 L242.60,507.42 L243.10,504.87 L243.60,501.65 L244.10,498.07 L244.60,493.51 L245.10,491.50 L245.60,488.58 L246.10,485.21 L246.60,482.02 L247.10,478.59 L247.60,476.50 L248.10,476.20 L248.60,474.12 L249.10,471.72 L249.60,466.46 L250.10,462.37 L250.60,461.93 L251.10,461.90 L251.60,460.34 L252.10,459.19 L252.60,456.70 L253.10,456.84 L253.60,458.34 L254.10,459.32 L254.60,458.37 L255.10,457.83 L255.60,459.77 L256.10,459.03 L256.60,457.84 L257.10,459.20 L257.60,458.61 L258.10,460.75 L258.60,465.42 L259.10,468.63 L259.60,469.26 L260.10,470.65 L260.60,471.13 L261.10,472.33 L261.60,476.60 L262.10,478.78 L262.60,480.23 L263.10,482.57 L263.60,486.33 L264.10,489.87 L264.60,493.00 L265.10,497.08 L265.60,500.98 L266.10,504.14 L266.60,507.28 L267.10,509.77 L267.60,513.01 L268.10,516.84 L268.60,518.82 L269.10,521.49 L269.60,524.06 L270.10,526.70 L270.60,529.67 L271.10,532.00 L271.60,534.18 L272.10,536.34 L272.60,538.26 L273.10,540.03 L273.60,541.44 L274.10,542.56 L274.60,543.70 L275.10,544.85 L275.60,545.91 L276.10,546.80 L276.60,547.56 L277.10,548.18 L277.60,548.63 L278.10,548.93 L278.60,549.16 L279.10,549.36 L279.60,549.54 L280.10,549.71 L280.60,549.87 L281.10,550.03 L281.60,550.17 L282.10,550.30 L282.60,550.42 L283.10,550.52 L283.60,550.62 L284.10,550.72 L284.60,550.81 L285.10,550.89 L285.60,550.96 L286.10,551.04 L286.60,551.11 L287.10,551.19 L287.60,551.26 L288.10,551.34 L288.60,551.41 L289.10,551.48 L289.60,551.54 L290.10,551.60 L290.60,551.66 L291.10,551.71 L291.60,551.75 L292.10,551.79 L292.20,552.10 Z" fill="#b4b5b7" fill-opacity="0.745"/>
<path d="M188.60,551.70 L189.10,551.70 L189.60,551.70 L190.10,551.70 L190.60,551.70 L191.10,551.70 L191.60,551.69 L192.10,551.69 L192.60,551.69 L193.10,551.68 L193.60,551.68 L194.10,551.68 L194.60,551.67 L195.10,551.66 L195.60,551.66 L196.10,551.65 L196.60,551.65 L197.10,551.64 L197.60,551.63 L198.10,551.62 L198.60,551.61 L199.10,551.60 L199.60,551.59 L200.10,551.58 L200.60,551.57 L201.10,551.56 L201.60,551.55 L202.10,551.54 L202.60,551.53 L203.10,551.51 L203.60,551.50 L204.10,551.49 L204.60,551.47 L205.10,551.46 L205.60,551.44 L206.10,551.43 L206.60,551.41 L207.10,551.39 L207.60,551.38 L208.10,551.36 L208.60,551.34 L209.10,551.33 L209.60,551.31 L210.10,551.29 L210.60,551.27 L211.10,551.25 L211.60,551.23 L212.10,551.21 L212.60,551.19 L213.10,551.17 L213.60,551.14 L214.10,551.12 L214.60,551.10 L215.10,551.07 L215.60,551.03 L216.10,551.00 L216.60,550.95 L217.10,550.90 L217.60,550.84 L218.10,550.78 L218.60,550.71 L219.10,550.64 L219.60,550.55 L220.10,550.47 L220.60,550.38 L221.10,550.28 L221.60,550.17 L222.10,550.06 L222.60,549.94 L223.10,549.82 L223.60,549.68 L224.10,549.54 L224.60,549.40 L225.10,549.24 L225.60,549.08 L226.10,548.91 L226.60,548.76 L227.10,548.52 L227.60,548.24 L228.10,547.88 L228.60,547.43 L229.10,546.97 L229.60,546.53 L230.10,545.96 L230.60,545.37 L231.10,544.78 L231.60,544.06 L232.10,543.32 L232.60,542.63 L233.10,541.95 L233.60,541.06 L234.10,540.22 L234.60,539.34 L235.10,538.33 L235.60,537.07 L236.10,535.81 L236.60,534.61 L237.10,533.14 L237.60,531.62 L238.10,530.33 L238.60,528.58 L239.10,527.05 L239.60,525.06 L240.10,522.56 L240.60,520.10 L241.10,517.41 L241.60,514.23 L242.10,510.56 L242.60,507.42 L243.10,504.87 L243.60,501.65 L244.10,498.07 L244.60,493.51 L245.10,491.50 L245.60,488.58 L246.10,485.21 L246.60,482.02 L247.10,478.59 L247.60,476.50 L248.10,476.20 L248.60,474.12 L249.10,471.72 L249.60,466.46 L250.10,462.37 L250.60,461.93 L251.10,461.90 L251.60,460.34 L252.10,459.19 L252.60,456.70 L253.10,456.84 L253.60,458.34 L254.10,459.32 L254.60,458.37 L255.10,457.83 L255.60,459.77 L256.10,459.03 L256.60,457.84 L257.10,459.20 L257.60,458.61 L258.10,460.75 L258.60,465.42 L259.10,468.63 L259.60,469.26 L260.10,470.65 L260.60,471.13 L261.10,472.33 L261.60,476.60 L262.10,478.78 L262.60,480.23 L263.10,482.57 L263.60,486.33 L264.10,489.87 L264.60,493.00 L265.10,497.08 L265.60,500.98 L266.10,504.14 L266.60,507.28 L267.10,509.77 L267.60,513.01 L268.10,516.84 L268.60,518.82 L269.10,521.49 L269.60,524.06 L270.10,526.70 L270.60,529.67 L271.10,532.00 L271.60,534.18 L272.10,536.34 L272.60,538.26 L273.10,540.03 L273.60,541.44 L274.10,542.56 L274.60,543.70 L275.10,544.85 L275.60,545.91 L276.10,546.80 L276.60,547.56 L277.10,548.18 L277.60,548.63 L278.10,548.93 L278.60,549.16 L279.10,549.36 L279.60,549.54 L280.10,549.71 L280.60,549.87 L281.10,550.03 L281.60,550.17 L282.10,550.30 L282.60,550.42 L283.10,550.52 L283.60,550.62 L284.10,550.72 L284.60,550.81 L285.10,550.89 L285.60,550.96 L286.10,551.04 L286.60,551.11 L287.10,551.19 L287.60,551.26 L288.10,551.34 L288.60,551.41 L289.10,551.48 L289.60,551.54 L290.10,551.60 L290.60,551.66 L291.10,551.71 L291.60,551.75 L292.10,551.79" fill="none" stroke="#5c5c5c" stroke-width="0.75"/>
<path d="M188.60,552.10 L188.60,551.70 L189.10,551.70 L189.60,551.70 L190.10,551.70 L190.60,551.69 L191.10,551.68 L191.60,551.67 L192.10,551.65 L192.60,551.64 L193.10,551.63 L193.60,551.61 L194.10,551.59 L194.60,551.57 L195.10,551.55 L195.60,551.53 L196.10,551.50 L196.60,551.47 L197.10,551.45 L197.60,551.42 L198.10,551.39 L198.60,551.36 L199.10,551.33 L199.60,551.30 L200.10,551.26 L200.60,551.23 L201.10,551.20 L201.60,551.16 L202.10,551.13 L202.60,551.09 L203.10,551.06 L203.60,551.01 L204.10,550.97 L204.60,550.92 L205.10,550.86 L205.60,550.81 L206.10,550.74 L206.60,550.67 L207.10,550.60 L207.60,550.53 L208.10,550.44 L208.60,550.35 L209.10,550.26 L209.60,550.16 L210.10,550.05 L210.60,549.93 L211.10,549.82 L211.60,549.68 L212.10,549.55 L212.60,549.42 L213.10,549.27 L213.60,549.09 L214.10,548.92 L214.60,548.73 L215.10,548.48 L215.60,548.16 L216.10,547.75 L216.60,547.27 L217.10,546.76 L217.60,546.16 L218.10,545.52 L218.60,544.86 L219.10,544.08 L219.60,543.35 L220.10,542.53 L220.60,541.64 L221.10,540.94 L221.60,540.05 L222.10,538.98 L222.60,538.05 L223.10,536.89 L223.60,535.53 L224.10,534.14 L224.60,532.70 L225.10,531.14 L225.60,529.38 L226.10,527.68 L226.60,526.06 L227.10,524.50 L227.60,522.54 L228.10,520.10 L228.60,516.82 L229.10,514.05 L229.60,509.95 L230.10,506.26 L230.60,504.38 L231.10,501.71 L231.60,498.18 L232.10,494.48 L232.60,492.06 L233.10,488.88 L233.60,485.79 L234.10,482.06 L234.60,478.08 L235.10,476.56 L235.60,473.29 L236.10,469.54 L236.60,466.77 L237.10,465.51 L237.60,460.80 L238.10,457.70 L238.60,455.09 L239.10,459.02 L239.60,464.51 L240.10,466.30 L240.60,467.40 L241.10,470.88 L241.60,473.60 L242.10,474.51 L242.60,477.37 L243.10,481.87 L243.60,484.98 L244.10,490.68 L244.60,493.72 L245.10,494.57 L245.60,497.17 L246.10,499.48 L246.60,501.93 L247.10,504.47 L247.60,506.51 L248.10,509.07 L248.60,511.69 L249.10,513.19 L249.60,514.73 L250.10,516.45 L250.60,519.02 L251.10,520.85 L251.60,522.66 L252.10,524.29 L252.60,525.82 L253.10,527.93 L253.60,530.04 L254.10,531.84 L254.60,533.66 L255.10,535.58 L255.60,537.15 L256.10,538.51 L256.60,539.88 L257.10,541.08 L257.60,542.10 L258.10,543.07 L258.60,544.00 L259.10,544.80 L259.60,545.62 L260.10,546.39 L260.60,547.09 L261.10,547.66 L261.60,548.14 L262.10,548.54 L262.60,548.83 L263.10,549.04 L263.60,549.25 L264.10,549.46 L264.60,549.65 L265.10,549.83 L265.60,550.00 L266.10,550.15 L266.60,550.30 L267.10,550.44 L267.60,550.57 L268.10,550.69 L268.60,550.80 L269.10,550.89 L269.60,550.98 L270.10,551.06 L270.60,551.13 L271.10,551.18 L271.60,551.23 L272.10,551.27 L272.60,551.31 L273.10,551.33 L273.60,551.36 L274.10,551.38 L274.60,551.40 L275.10,551.43 L275.60,551.45 L276.10,551.47 L276.60,551.49 L277.10,551.51 L277.60,551.53 L278.10,551.55 L278.60,551.56 L279.10,551.58 L279.60,551.60 L280.10,551.61 L280.60,551.63 L281.10,551.64 L281.60,551.66 L282.10,551.67 L282.60,551.68 L283.10,551.70 L283.60,551.71 L284.10,551.72 L284.60,551.73 L285.10,551.74 L285.60,551.75 L286.10,551.75 L286.60,551.76 L287.10,551.77 L287.60,551.77 L288.10,551.78 L288.60,551.78 L289.10,551.79 L289.60,551.79 L290.10,551.80 L290.60,551.80 L291.10,551.80 L291.60,551.80 L292.10,551.80 L292.20,552.10 Z" fill="#f00017" fill-opacity="0.331"/>
<path d="M188.60,551.70 L189.10,551.70 L189.60,551.70 L190.10,551.70 L190.60,551.69 L191.10,551.68 L191.60,551.67 L192.10,551.65 L192.60,551.64 L193.10,551.63 L193.60,551.61 L194.10,551.59 L194.60,551.57 L195.10,551.55 L195.60,551.53 L196.10,551.50 L196.60,551.47 L197.10,551.45 L197.60,551.42 L198.10,551.39 L198.60,551.36 L199.10,551.33 L199.60,551.30 L200.10,551.26 L200.60,551.23 L201.10,551.20 L201.60,551.16 L202.10,551.13 L202.60,551.09 L203.10,551.06 L203.60,551.01 L204.10,550.97 L204.60,550.92 L205.10,550.86 L205.60,550.81 L206.10,550.74 L206.60,550.67 L207.10,550.60 L207.60,550.53 L208.10,550.44 L208.60,550.35 L209.10,550.26 L209.60,550.16 L210.10,550.05 L210.60,549.93 L211.10,549.82 L211.60,549.68 L212.10,549.55 L212.60,549.42 L213.10,549.27 L213.60,549.09 L214.10,548.92 L214.60,548.73 L215.10,548.48 L215.60,548.16 L216.10,547.75 L216.60,547.27 L217.10,546.76 L217.60,546.16 L218.10,545.52 L218.60,544.86 L219.10,544.08 L219.60,543.35 L220.10,542.53 L220.60,541.64 L221.10,540.94 L221.60,540.05 L222.10,538.98 L222.60,538.05 L223.10,536.89 L223.60,535.53 L224.10,534.14 L224.60,532.70 L225.10,531.14 L225.60,529.38 L226.10,527.68 L226.60,526.06 L227.10,524.50 L227.60,522.54 L228.10,520.10 L228.60,516.82 L229.10,514.05 L229.60,509.95 L230.10,506.26 L230.60,504.38 L231.10,501.71 L231.60,498.18 L232.10,494.48 L232.60,492.06 L233.10,488.88 L233.60,485.79 L234.10,482.06 L234.60,478.08 L235.10,476.56 L235.60,473.29 L236.10,469.54 L236.60,466.77 L237.10,465.51 L237.60,460.80 L238.10,457.70 L238.60,455.09 L239.10,459.02 L239.60,464.51 L240.10,466.30 L240.60,467.40 L241.10,470.88 L241.60,473.60 L242.10,474.51 L242.60,477.37 L243.10,481.87 L243.60,484.98 L244.10,490.68 L244.60,493.72 L245.10,494.57 L245.60,497.17 L246.10,499.48 L246.60,501.93 L247.10,504.47 L247.60,506.51 L248.10,509.07 L248.60,511.69 L249.10,513.19 L249.60,514.73 L250.10,516.45 L250.60,519.02 L251.10,520.85 L251.60,522.66 L252.10,524.29 L252.60,525.82 L253.10,527.93 L253.60,530.04 L254.10,531.84 L254.60,533.66 L255.10,535.58 L255.60,537.15 L256.10,538.51 L256.60,539.88 L257.10,541.08 L257.60,542.10 L258.10,543.07 L258.60,544.00 L259.10,544.80 L259.60,545.62 L260.10,546.39 L260.60,547.09 L261.10,547.66 L261.60,548.14 L262.10,548.54 L262.60,548.83 L263.10,549.04 L263.60,549.25 L264.10,549.46 L264.60,549.65 L265.10,549.83 L265.60,550.00 L266.10,550.15 L266.60,550.30 L267.10,550.44 L267.60,550.57 L268.10,550.69 L268.60,550.80 L269.10,550.89 L269.60,550.98 L270.10,551.06 L270.60,551.13 L271.10,551.18 L271.60,551.23 L272.10,551.27 L272.60,551.31 L273.10,551.33 L273.60,551.36 L274.10,551.38 L274.60,551.40 L275.10,551.43 L275.60,551.45 L276.10,551.47 L276.60,551.49 L277.10,551.51 L277.60,551.53 L278.10,551.55 L278.60,551.56 L279.10,551.58 L279.60,551.60 L280.10,551.61 L280.60,551.63 L281.10,551.64 L281.60,551.66 L282.10,551.67 L282.60,551.68 L283.10,551.70 L283.60,551.71 L284.10,551.72 L284.60,551.73 L285.10,551.74 L285.60,551.75 L286.10,551.75 L286.60,551.76 L287.10,551.77 L287.60,551.77 L288.10,551.78 L288.60,551.78 L289.10,551.79 L289.60,551.79 L290.10,551.80 L290.60,551.80 L291.10,551.80 L291.60,551.80 L292.10,551.80" fill="none" stroke="#e6334f" stroke-width="0.75"/>
<path d="M188.60,552.10 L188.60,551.70 L189.10,551.70 L189.60,551.70 L190.10,551.70 L190.60,551.70 L191.10,551.69 L191.60,551.69 L192.10,551.68 L192.60,551.67 L193.10,551.67 L193.60,551.66 L194.10,551.65 L194.60,551.64 L195.10,551.63 L195.60,551.62 L196.10,551.60 L196.60,551.59 L197.10,551.58 L197.60,551.56 L198.10,551.55 L198.60,551.53 L199.10,551.51 L199.60,551.49 L200.10,551.48 L200.60,551.46 L201.10,551.44 L201.60,551.42 L202.10,551.40 L202.60,551.38 L203.10,551.35 L203.60,551.33 L204.10,551.31 L204.60,551.28 L205.10,551.26 L205.60,551.23 L206.10,551.21 L206.60,551.18 L207.10,551.15 L207.60,551.13 L208.10,551.10 L208.60,551.07 L209.10,551.02 L209.60,550.98 L210.10,550.93 L210.60,550.88 L211.10,550.82 L211.60,550.75 L212.10,550.68 L212.60,550.61 L213.10,550.52 L213.60,550.43 L214.10,550.34 L214.60,550.24 L215.10,550.13 L215.60,550.02 L216.10,549.91 L216.60,549.79 L217.10,549.66 L217.60,549.52 L218.10,549.38 L218.60,549.23 L219.10,549.08 L219.60,548.92 L220.10,548.75 L220.60,548.54 L221.10,548.31 L221.60,548.04 L222.10,547.70 L222.60,547.37 L223.10,546.98 L223.60,546.52 L224.10,546.02 L224.60,545.51 L225.10,545.02 L225.60,544.37 L226.10,543.73 L226.60,543.18 L227.10,542.54 L227.60,541.87 L228.10,541.17 L228.60,540.42 L229.10,539.45 L229.60,538.18 L230.10,536.73 L230.60,535.20 L231.10,534.01 L231.60,532.58 L232.10,530.57 L232.60,528.67 L233.10,526.68 L233.60,524.90 L234.10,522.99 L234.60,520.23 L235.10,516.86 L235.60,513.99 L236.10,511.22 L236.60,507.72 L237.10,505.41 L237.60,502.21 L238.10,498.74 L238.60,496.47 L239.10,493.21 L239.60,488.85 L240.10,485.35 L240.60,482.55 L241.10,480.25 L241.60,478.27 L242.10,474.16 L242.60,468.34 L243.10,468.32 L243.60,465.93 L244.10,465.05 L244.60,461.45 L245.10,459.38 L245.60,461.95 L246.10,465.28 L246.60,466.80 L247.10,466.03 L247.60,469.46 L248.10,470.62 L248.60,468.44 L249.10,469.67 L249.60,473.42 L250.10,476.34 L250.60,478.59 L251.10,480.29 L251.60,483.82 L252.10,487.66 L252.60,489.85 L253.10,492.31 L253.60,496.41 L254.10,499.12 L254.60,500.83 L255.10,502.87 L255.60,506.54 L256.10,509.71 L256.60,512.51 L257.10,516.54 L257.60,519.49 L258.10,521.62 L258.60,523.89 L259.10,526.41 L259.60,528.90 L260.10,530.38 L260.60,532.12 L261.10,533.97 L261.60,535.55 L262.10,537.05 L262.60,538.59 L263.10,539.95 L263.60,541.04 L264.10,541.88 L264.60,542.77 L265.10,543.64 L265.60,544.45 L266.10,545.17 L266.60,545.87 L267.10,546.55 L267.60,547.16 L268.10,547.67 L268.60,548.13 L269.10,548.52 L269.60,548.79 L270.10,549.02 L270.60,549.22 L271.10,549.40 L271.60,549.58 L272.10,549.77 L272.60,549.94 L273.10,550.09 L273.60,550.25 L274.10,550.38 L274.60,550.50 L275.10,550.62 L275.60,550.74 L276.10,550.84 L276.60,550.93 L277.10,551.01 L277.60,551.09 L278.10,551.16 L278.60,551.21 L279.10,551.26 L279.60,551.30 L280.10,551.33 L280.60,551.37 L281.10,551.40 L281.60,551.43 L282.10,551.46 L282.60,551.49 L283.10,551.52 L283.60,551.55 L284.10,551.58 L284.60,551.60 L285.10,551.63 L285.60,551.65 L286.10,551.67 L286.60,551.69 L287.10,551.71 L287.60,551.73 L288.10,551.74 L288.60,551.75 L289.10,551.77 L289.60,551.78 L290.10,551.79 L290.60,551.79 L291.10,551.80 L291.60,551.80 L292.10,551.80 L292.20,552.10 Z" fill="#4eaabe" fill-opacity="0.458"/>
<path d="M188.60,551.70 L189.10,551.70 L189.60,551.70 L190.10,551.70 L190.60,551.70 L191.10,551.69 L191.60,551.69 L192.10,551.68 L192.60,551.67 L193.10,551.67 L193.60,551.66 L194.10,551.65 L194.60,551.64 L195.10,551.63 L195.60,551.62 L196.10,551.60 L196.60,551.59 L197.10,551.58 L197.60,551.56 L198.10,551.55 L198.60,551.53 L199.10,551.51 L199.60,551.49 L200.10,551.48 L200.60,551.46 L201.10,551.44 L201.60,551.42 L202.10,551.40 L202.60,551.38 L203.10,551.35 L203.60,551.33 L204.10,551.31 L204.60,551.28 L205.10,551.26 L205.60,551.23 L206.10,551.21 L206.60,551.18 L207.10,551.15 L207.60,551.13 L208.10,551.10 L208.60,551.07 L209.10,551.02 L209.60,550.98 L210.10,550.93 L210.60,550.88 L211.10,550.82 L211.60,550.75 L212.10,550.68 L212.60,550.61 L213.10,550.52 L213.60,550.43 L214.10,550.34 L214.60,550.24 L215.10,550.13 L215.60,550.02 L216.10,549.91 L216.60,549.79 L217.10,549.66 L217.60,549.52 L218.10,549.38 L218.60,549.23 L219.10,549.08 L219.60,548.92 L220.10,548.75 L220.60,548.54 L221.10,548.31 L221.60,548.04 L222.10,547.70 L222.60,547.37 L223.10,546.98 L223.60,546.52 L224.10,546.02 L224.60,545.51 L225.10,545.02 L225.60,544.37 L226.10,543.73 L226.60,543.18 L227.10,542.54 L227.60,541.87 L228.10,541.17 L228.60,540.42 L229.10,539.45 L229.60,538.18 L230.10,536.73 L230.60,535.20 L231.10,534.01 L231.60,532.58 L232.10,530.57 L232.60,528.67 L233.10,526.68 L233.60,524.90 L234.10,522.99 L234.60,520.23 L235.10,516.86 L235.60,513.99 L236.10,511.22 L236.60,507.72 L237.10,505.41 L237.60,502.21 L238.10,498.74 L238.60,496.47 L239.10,493.21 L239.60,488.85 L240.10,485.35 L240.60,482.55 L241.10,480.25 L241.60,478.27 L242.10,474.16 L242.60,468.34 L243.10,468.32 L243.60,465.93 L244.10,465.05 L244.60,461.45 L245.10,459.38 L245.60,461.95 L246.10,465.28 L246.60,466.80 L247.10,466.03 L247.60,469.46 L248.10,470.62 L248.60,468.44 L249.10,469.67 L249.60,473.42 L250.10,476.34 L250.60,478.59 L251.10,480.29 L251.60,483.82 L252.10,487.66 L252.60,489.85 L253.10,492.31 L253.60,496.41 L254.10,499.12 L254.60,500.83 L255.10,502.87 L255.60,506.54 L256.10,509.71 L256.60,512.51 L257.10,516.54 L257.60,519.49 L258.10,521.62 L258.60,523.89 L259.10,526.41 L259.60,528.90 L260.10,530.38 L260.60,532.12 L261.10,533.97 L261.60,535.55 L262.10,537.05 L262.60,538.59 L263.10,539.95 L263.60,541.04 L264.10,541.88 L264.60,542.77 L265.10,543.64 L265.60,544.45 L266.10,545.17 L266.60,545.87 L267.10,546.55 L267.60,547.16 L268.10,547.67 L268.60,548.13 L269.10,548.52 L269.60,548.79 L270.10,549.02 L270.60,549.22 L271.10,549.40 L271.60,549.58 L272.10,549.77 L272.60,549.94 L273.10,550.09 L273.60,550.25 L274.10,550.38 L274.60,550.50 L275.10,550.62 L275.60,550.74 L276.10,550.84 L276.60,550.93 L277.10,551.01 L277.60,551.09 L278.10,551.16 L278.60,551.21 L279.10,551.26 L279.60,551.30 L280.10,551.33 L280.60,551.37 L281.10,551.40 L281.60,551.43 L282.10,551.46 L282.60,551.49 L283.10,551.52 L283.60,551.55 L284.10,551.58 L284.60,551.60 L285.10,551.63 L285.60,551.65 L286.10,551.67 L286.60,551.69 L287.10,551.71 L287.60,551.73 L288.10,551.74 L288.60,551.75 L289.10,551.77 L289.60,551.78 L290.10,551.79 L290.60,551.79 L291.10,551.80 L291.60,551.80 L292.10,551.80" fill="none" stroke="#2fa0ba" stroke-width="0.75"/>
<line x1="185.10" y1="552.10" x2="188.10" y2="552.10" stroke="#222" stroke-width="1.0"/>
<text x="182.80" y="555.50" font-size="9.6" text-anchor="end" stroke="#1a1a1a" stroke-width="0.18">0</text>
<line x1="186.80" y1="547.14" x2="188.10" y2="547.14" stroke="#444" stroke-width="0.9"/>
<line x1="186.80" y1="542.18" x2="188.10" y2="542.18" stroke="#444" stroke-width="0.9"/>
<line x1="186.80" y1="537.22" x2="188.10" y2="537.22" stroke="#444" stroke-width="0.9"/>
<line x1="185.10" y1="532.26" x2="188.10" y2="532.26" stroke="#222" stroke-width="1.0"/>
<text x="182.80" y="535.66" font-size="9.6" text-anchor="end" stroke="#1a1a1a" stroke-width="0.18">20</text>
<line x1="186.80" y1="527.30" x2="188.10" y2="527.30" stroke="#444" stroke-width="0.9"/>
<line x1="186.80" y1="522.34" x2="188.10" y2="522.34" stroke="#444" stroke-width="0.9"/>
<line x1="186.80" y1="517.38" x2="188.10" y2="517.38" stroke="#444" stroke-width="0.9"/>
<line x1="185.10" y1="512.42" x2="188.10" y2="512.42" stroke="#222" stroke-width="1.0"/>
<text x="182.80" y="515.82" font-size="9.6" text-anchor="end" stroke="#1a1a1a" stroke-width="0.18">40</text>
<line x1="186.80" y1="507.46" x2="188.10" y2="507.46" stroke="#444" stroke-width="0.9"/>
<line x1="186.80" y1="502.50" x2="188.10" y2="502.50" stroke="#444" stroke-width="0.9"/>
<line x1="186.80" y1="497.54" x2="188.10" y2="497.54" stroke="#444" stroke-width="0.9"/>
<line x1="185.10" y1="492.58" x2="188.10" y2="492.58" stroke="#222" stroke-width="1.0"/>
<text x="182.80" y="495.98" font-size="9.6" text-anchor="end" stroke="#1a1a1a" stroke-width="0.18">60</text>
<line x1="186.80" y1="487.62" x2="188.10" y2="487.62" stroke="#444" stroke-width="0.9"/>
<line x1="186.80" y1="482.66" x2="188.10" y2="482.66" stroke="#444" stroke-width="0.9"/>
<line x1="186.80" y1="477.70" x2="188.10" y2="477.70" stroke="#444" stroke-width="0.9"/>
<line x1="185.10" y1="472.74" x2="188.10" y2="472.74" stroke="#222" stroke-width="1.0"/>
<text x="182.80" y="476.14" font-size="9.6" text-anchor="end" stroke="#1a1a1a" stroke-width="0.18">80</text>
<line x1="186.80" y1="467.78" x2="188.10" y2="467.78" stroke="#444" stroke-width="0.9"/>
<line x1="186.80" y1="462.82" x2="188.10" y2="462.82" stroke="#444" stroke-width="0.9"/>
<line x1="186.80" y1="457.86" x2="188.10" y2="457.86" stroke="#444" stroke-width="0.9"/>
<line x1="185.10" y1="452.90" x2="188.10" y2="452.90" stroke="#222" stroke-width="1.0"/>
<text x="182.80" y="456.30" font-size="9.6" text-anchor="end" stroke="#1a1a1a" stroke-width="0.18">100</text>
<line x1="188.10" y1="552.10" x2="292.70" y2="552.10" stroke="#666" stroke-width="1.0"/>
<line x1="192.35" y1="552.10" x2="192.35" y2="553.90" stroke="#555" stroke-width="0.6"/>
<line x1="196.38" y1="552.10" x2="196.38" y2="553.90" stroke="#555" stroke-width="0.6"/>
<line x1="199.67" y1="552.10" x2="199.67" y2="553.90" stroke="#555" stroke-width="0.6"/>
<line x1="202.46" y1="552.10" x2="202.46" y2="553.90" stroke="#555" stroke-width="0.6"/>
<line x1="204.87" y1="552.10" x2="204.87" y2="553.90" stroke="#555" stroke-width="0.6"/>
<line x1="207.00" y1="552.10" x2="207.00" y2="553.90" stroke="#555" stroke-width="0.6"/>
<line x1="208.90" y1="552.10" x2="208.90" y2="555.60" stroke="#333" stroke-width="0.9"/>
<line x1="221.42" y1="552.10" x2="221.42" y2="553.90" stroke="#555" stroke-width="0.6"/>
<line x1="228.75" y1="552.10" x2="228.75" y2="553.90" stroke="#555" stroke-width="0.6"/>
<line x1="233.95" y1="552.10" x2="233.95" y2="553.90" stroke="#555" stroke-width="0.6"/>
<line x1="237.98" y1="552.10" x2="237.98" y2="553.90" stroke="#555" stroke-width="0.6"/>
<line x1="241.27" y1="552.10" x2="241.27" y2="553.90" stroke="#555" stroke-width="0.6"/>
<line x1="244.06" y1="552.10" x2="244.06" y2="553.90" stroke="#555" stroke-width="0.6"/>
<line x1="246.47" y1="552.10" x2="246.47" y2="553.90" stroke="#555" stroke-width="0.6"/>
<line x1="248.60" y1="552.10" x2="248.60" y2="553.90" stroke="#555" stroke-width="0.6"/>
<line x1="250.50" y1="552.10" x2="250.50" y2="555.60" stroke="#333" stroke-width="0.9"/>
<line x1="263.02" y1="552.10" x2="263.02" y2="553.90" stroke="#555" stroke-width="0.6"/>
<line x1="270.35" y1="552.10" x2="270.35" y2="553.90" stroke="#555" stroke-width="0.6"/>
<line x1="275.55" y1="552.10" x2="275.55" y2="553.90" stroke="#555" stroke-width="0.6"/>
<line x1="279.58" y1="552.10" x2="279.58" y2="553.90" stroke="#555" stroke-width="0.6"/>
<line x1="282.87" y1="552.10" x2="282.87" y2="553.90" stroke="#555" stroke-width="0.6"/>
<line x1="285.66" y1="552.10" x2="285.66" y2="553.90" stroke="#555" stroke-width="0.6"/>
<line x1="288.07" y1="552.10" x2="288.07" y2="553.90" stroke="#555" stroke-width="0.6"/>
<line x1="290.20" y1="552.10" x2="290.20" y2="553.90" stroke="#555" stroke-width="0.6"/>
<line x1="292.10" y1="552.10" x2="292.10" y2="555.60" stroke="#333" stroke-width="0.9"/>
<text x="211.60" y="566.20" font-size="9.5" text-anchor="end" stroke="#1a1a1a" stroke-width="0.18">10</text>
<text x="211.80" y="560.80" font-size="6.0" stroke="#1a1a1a" stroke-width="0.18">4</text>
<text x="253.20" y="566.20" font-size="9.5" text-anchor="end" stroke="#1a1a1a" stroke-width="0.18">10</text>
<text x="253.40" y="560.80" font-size="6.0" stroke="#1a1a1a" stroke-width="0.18">5</text>
<text x="294.80" y="566.20" font-size="9.5" text-anchor="end" stroke="#1a1a1a" stroke-width="0.18">10</text>
<text x="295.00" y="560.80" font-size="6.0" stroke="#1a1a1a" stroke-width="0.18">6</text>
<text x="239.60" y="442.70" font-size="10" text-anchor="middle" stroke="#1a1a1a" stroke-width="0.18">AZD1775</text>
<text x="189.30" y="457.30" font-size="8.6" fill="#9a9a9a" stroke="#9a9a9a" stroke-width="0.18">siSCR</text>
<text x="189.30" y="467.90" font-size="8.6" fill="#e4324f" stroke="#e4324f" stroke-width="0.18">siGCN1 #1</text>
<text x="189.30" y="478.50" font-size="8.6" fill="#2aa0bb" stroke="#2aa0bb" stroke-width="0.18">siGCN1 #2</text>
<rect x="316.60" y="448.40" width="104.20" height="103.70" fill="#fff" stroke="#8c8c8c" stroke-width="0.9"/>
<path d="M317.10,552.10 L317.10,551.70 L317.60,551.70 L318.10,551.70 L318.60,551.70 L319.10,551.70 L319.60,551.69 L320.10,551.69 L320.60,551.69 L321.10,551.68 L321.60,551.68 L322.10,551.67 L322.60,551.66 L323.10,551.66 L323.60,551.65 L324.10,551.64 L324.60,551.63 L325.10,551.62 L325.60,551.61 L326.10,551.59 L326.60,551.58 L327.10,551.57 L327.60,551.56 L328.10,551.54 L328.60,551.53 L329.10,551.52 L329.60,551.50 L330.10,551.48 L330.60,551.47 L331.10,551.45 L331.60,551.43 L332.10,551.42 L332.60,551.40 L333.10,551.37 L333.60,551.35 L334.10,551.34 L334.60,551.32 L335.10,551.29 L335.60,551.27 L336.10,551.25 L336.60,551.23 L337.10,551.20 L337.60,551.18 L338.10,551.15 L338.60,551.13 L339.10,551.10 L339.60,551.07 L340.10,551.03 L340.60,550.99 L341.10,550.94 L341.60,550.88 L342.10,550.82 L342.60,550.76 L343.10,550.68 L343.60,550.60 L344.10,550.51 L344.60,550.42 L345.10,550.32 L345.60,550.22 L346.10,550.12 L346.60,550.01 L347.10,549.89 L347.60,549.77 L348.10,549.64 L348.60,549.50 L349.10,549.37 L349.60,549.23 L350.10,549.08 L350.60,548.93 L351.10,548.79 L351.60,548.65 L352.10,548.46 L352.60,548.26 L353.10,548.05 L353.60,547.82 L354.10,547.58 L354.60,547.30 L355.10,547.00 L355.60,546.67 L356.10,546.34 L356.60,546.00 L357.10,545.63 L357.60,545.23 L358.10,544.83 L358.60,544.41 L359.10,543.97 L359.60,543.47 L360.10,543.01 L360.60,542.48 L361.10,542.05 L361.60,541.54 L362.10,540.83 L362.60,540.20 L363.10,539.53 L363.60,538.69 L364.10,537.73 L364.60,536.66 L365.10,535.35 L365.60,533.89 L366.10,532.57 L366.60,530.97 L367.10,529.45 L367.60,527.64 L368.10,526.03 L368.60,524.45 L369.10,522.45 L369.60,520.13 L370.10,516.77 L370.60,513.55 L371.10,511.47 L371.60,508.26 L372.10,503.56 L372.60,500.28 L373.10,497.56 L373.60,493.01 L374.10,489.88 L374.60,487.77 L375.10,483.15 L375.60,479.61 L376.10,477.83 L376.60,475.24 L377.10,473.71 L377.60,472.18 L378.10,468.98 L378.60,469.41 L379.10,470.08 L379.60,466.40 L380.10,463.14 L380.60,464.27 L381.10,461.99 L381.60,458.35 L382.10,459.89 L382.60,462.03 L383.10,462.19 L383.60,459.82 L384.10,457.25 L384.60,457.17 L385.10,456.46 L385.60,456.09 L386.10,458.92 L386.60,461.06 L387.10,462.17 L387.60,464.23 L388.10,467.95 L388.60,469.77 L389.10,470.15 L389.60,470.60 L390.10,472.20 L390.60,476.48 L391.10,478.20 L391.60,481.43 L392.10,485.90 L392.60,491.22 L393.10,496.28 L393.60,498.57 L394.10,501.06 L394.60,504.86 L395.10,507.85 L395.60,510.67 L396.10,512.65 L396.60,515.09 L397.10,517.71 L397.60,520.30 L398.10,522.42 L398.60,524.39 L399.10,526.71 L399.60,528.99 L400.10,531.27 L400.60,533.48 L401.10,535.07 L401.60,536.94 L402.10,538.64 L402.60,540.16 L403.10,541.25 L403.60,542.36 L404.10,543.44 L404.60,544.47 L405.10,545.42 L405.60,546.24 L406.10,547.01 L406.60,547.71 L407.10,548.26 L407.60,548.65 L408.10,548.91 L408.60,549.14 L409.10,549.33 L409.60,549.51 L410.10,549.68 L410.60,549.83 L411.10,549.96 L411.60,550.09 L412.10,550.21 L412.60,550.32 L413.10,550.41 L413.60,550.51 L414.10,550.60 L414.60,550.69 L415.10,550.78 L415.60,550.87 L416.10,550.95 L416.60,551.04 L417.10,551.14 L417.60,551.24 L418.10,551.35 L418.60,551.46 L419.10,551.56 L419.60,551.66 L420.10,551.76 L420.30,552.10 Z" fill="#b4b5b7" fill-opacity="0.745"/>
<path d="M317.10,551.70 L317.60,551.70 L318.10,551.70 L318.60,551.70 L319.10,551.70 L319.60,551.69 L320.10,551.69 L320.60,551.69 L321.10,551.68 L321.60,551.68 L322.10,551.67 L322.60,551.66 L323.10,551.66 L323.60,551.65 L324.10,551.64 L324.60,551.63 L325.10,551.62 L325.60,551.61 L326.10,551.59 L326.60,551.58 L327.10,551.57 L327.60,551.56 L328.10,551.54 L328.60,551.53 L329.10,551.52 L329.60,551.50 L330.10,551.48 L330.60,551.47 L331.10,551.45 L331.60,551.43 L332.10,551.42 L332.60,551.40 L333.10,551.37 L333.60,551.35 L334.10,551.34 L334.60,551.32 L335.10,551.29 L335.60,551.27 L336.10,551.25 L336.60,551.23 L337.10,551.20 L337.60,551.18 L338.10,551.15 L338.60,551.13 L339.10,551.10 L339.60,551.07 L340.10,551.03 L340.60,550.99 L341.10,550.94 L341.60,550.88 L342.10,550.82 L342.60,550.76 L343.10,550.68 L343.60,550.60 L344.10,550.51 L344.60,550.42 L345.10,550.32 L345.60,550.22 L346.10,550.12 L346.60,550.01 L347.10,549.89 L347.60,549.77 L348.10,549.64 L348.60,549.50 L349.10,549.37 L349.60,549.23 L350.10,549.08 L350.60,548.93 L351.10,548.79 L351.60,548.65 L352.10,548.46 L352.60,548.26 L353.10,548.05 L353.60,547.82 L354.10,547.58 L354.60,547.30 L355.10,547.00 L355.60,546.67 L356.10,546.34 L356.60,546.00 L357.10,545.63 L357.60,545.23 L358.10,544.83 L358.60,544.41 L359.10,543.97 L359.60,543.47 L360.10,543.01 L360.60,542.48 L361.10,542.05 L361.60,541.54 L362.10,540.83 L362.60,540.20 L363.10,539.53 L363.60,538.69 L364.10,537.73 L364.60,536.66 L365.10,535.35 L365.60,533.89 L366.10,532.57 L366.60,530.97 L367.10,529.45 L367.60,527.64 L368.10,526.03 L368.60,524.45 L369.10,522.45 L369.60,520.13 L370.10,516.77 L370.60,513.55 L371.10,511.47 L371.60,508.26 L372.10,503.56 L372.60,500.28 L373.10,497.56 L373.60,493.01 L374.10,489.88 L374.60,487.77 L375.10,483.15 L375.60,479.61 L376.10,477.83 L376.60,475.24 L377.10,473.71 L377.60,472.18 L378.10,468.98 L378.60,469.41 L379.10,470.08 L379.60,466.40 L380.10,463.14 L380.60,464.27 L381.10,461.99 L381.60,458.35 L382.10,459.89 L382.60,462.03 L383.10,462.19 L383.60,459.82 L384.10,457.25 L384.60,457.17 L385.10,456.46 L385.60,456.09 L386.10,458.92 L386.60,461.06 L387.10,462.17 L387.60,464.23 L388.10,467.95 L388.60,469.77 L389.10,470.15 L389.60,470.60 L390.10,472.20 L390.60,476.48 L391.10,478.20 L391.60,481.43 L392.10,485.90 L392.60,491.22 L393.10,496.28 L393.60,498.57 L394.10,501.06 L394.60,504.86 L395.10,507.85 L395.60,510.67 L396.10,512.65 L396.60,515.09 L397.10,517.71 L397.60,520.30 L398.10,522.42 L398.60,524.39 L399.10,526.71 L399.60,528.99 L400.10,531.27 L400.60,533.48 L401.10,535.07 L401.60,536.94 L402.10,538.64 L402.60,540.16 L403.10,541.25 L403.60,542.36 L404.10,543.44 L404.60,544.47 L405.10,545.42 L405.60,546.24 L406.10,547.01 L406.60,547.71 L407.10,548.26 L407.60,548.65 L408.10,548.91 L408.60,549.14 L409.10,549.33 L409.60,549.51 L410.10,549.68 L410.60,549.83 L411.10,549.96 L411.60,550.09 L412.10,550.21 L412.60,550.32 L413.10,550.41 L413.60,550.51 L414.10,550.60 L414.60,550.69 L415.10,550.78 L415.60,550.87 L416.10,550.95 L416.60,551.04 L417.10,551.14 L417.60,551.24 L418.10,551.35 L418.60,551.46 L419.10,551.56 L419.60,551.66 L420.10,551.76" fill="none" stroke="#5c5c5c" stroke-width="0.75"/>
<path d="M317.10,552.10 L317.10,551.70 L317.60,551.70 L318.10,551.70 L318.60,551.70 L319.10,551.69 L319.60,551.69 L320.10,551.68 L320.60,551.67 L321.10,551.66 L321.60,551.65 L322.10,551.64 L322.60,551.62 L323.10,551.61 L323.60,551.60 L324.10,551.58 L324.60,551.56 L325.10,551.54 L325.60,551.52 L326.10,551.50 L326.60,551.48 L327.10,551.46 L327.60,551.44 L328.10,551.41 L328.60,551.39 L329.10,551.36 L329.60,551.34 L330.10,551.31 L330.60,551.28 L331.10,551.25 L331.60,551.22 L332.10,551.19 L332.60,551.16 L333.10,551.14 L333.60,551.11 L334.10,551.07 L334.60,551.03 L335.10,550.98 L335.60,550.93 L336.10,550.88 L336.60,550.82 L337.10,550.76 L337.60,550.69 L338.10,550.62 L338.60,550.53 L339.10,550.45 L339.60,550.36 L340.10,550.27 L340.60,550.17 L341.10,550.05 L341.60,549.95 L342.10,549.82 L342.60,549.69 L343.10,549.55 L343.60,549.42 L344.10,549.28 L344.60,549.12 L345.10,548.95 L345.60,548.78 L346.10,548.58 L346.60,548.32 L347.10,548.04 L347.60,547.70 L348.10,547.34 L348.60,546.92 L349.10,546.44 L349.60,545.90 L350.10,545.37 L350.60,544.75 L351.10,544.06 L351.60,543.39 L352.10,542.69 L352.60,541.92 L353.10,541.20 L353.60,540.20 L354.10,538.65 L354.60,536.74 L355.10,534.80 L355.60,532.74 L356.10,530.85 L356.60,528.80 L357.10,526.42 L357.60,524.71 L358.10,522.74 L358.60,519.31 L359.10,515.98 L359.60,512.96 L360.10,509.70 L360.60,506.91 L361.10,504.46 L361.60,502.19 L362.10,499.06 L362.60,496.23 L363.10,492.05 L363.60,487.03 L364.10,484.42 L364.60,481.87 L365.10,478.64 L365.60,474.05 L366.10,474.87 L366.60,472.03 L367.10,467.25 L367.60,466.15 L368.10,463.93 L368.60,459.50 L369.10,456.93 L369.60,459.46 L370.10,462.77 L370.60,463.98 L371.10,467.70 L371.60,470.11 L372.10,471.46 L372.60,472.16 L373.10,474.78 L373.60,477.49 L374.10,479.26 L374.60,482.19 L375.10,484.38 L375.60,486.62 L376.10,489.46 L376.60,492.51 L377.10,494.73 L377.60,496.39 L378.10,499.97 L378.60,501.77 L379.10,504.28 L379.60,506.96 L380.10,509.52 L380.60,511.28 L381.10,513.37 L381.60,515.34 L382.10,518.04 L382.60,520.53 L383.10,522.41 L383.60,523.80 L384.10,525.62 L384.60,527.52 L385.10,529.09 L385.60,531.03 L386.10,532.85 L386.60,534.46 L387.10,536.10 L387.60,537.48 L388.10,538.77 L388.60,539.79 L389.10,540.71 L389.60,541.52 L390.10,542.24 L390.60,543.00 L391.10,543.65 L391.60,544.31 L392.10,544.93 L392.60,545.44 L393.10,545.92 L393.60,546.41 L394.10,546.93 L394.60,547.35 L395.10,547.73 L395.60,548.09 L396.10,548.38 L396.60,548.67 L397.10,548.88 L397.60,549.07 L398.10,549.26 L398.60,549.44 L399.10,549.63 L399.60,549.79 L400.10,549.95 L400.60,550.10 L401.10,550.25 L401.60,550.38 L402.10,550.52 L402.60,550.64 L403.10,550.75 L403.60,550.86 L404.10,550.95 L404.60,551.03 L405.10,551.11 L405.60,551.18 L406.10,551.23 L406.60,551.28 L407.10,551.31 L407.60,551.35 L408.10,551.38 L408.60,551.41 L409.10,551.44 L409.60,551.47 L410.10,551.50 L410.60,551.52 L411.10,551.55 L411.60,551.58 L412.10,551.60 L412.60,551.62 L413.10,551.64 L413.60,551.66 L414.10,551.68 L414.60,551.70 L415.10,551.72 L415.60,551.73 L416.10,551.75 L416.60,551.76 L417.10,551.77 L417.60,551.78 L418.10,551.79 L418.60,551.79 L419.10,551.80 L419.60,551.80 L420.10,551.80 L420.30,552.10 Z" fill="#f00017" fill-opacity="0.331"/>
<path d="M317.10,551.70 L317.60,551.70 L318.10,551.70 L318.60,551.70 L319.10,551.69 L319.60,551.69 L320.10,551.68 L320.60,551.67 L321.10,551.66 L321.60,551.65 L322.10,551.64 L322.60,551.62 L323.10,551.61 L323.60,551.60 L324.10,551.58 L324.60,551.56 L325.10,551.54 L325.60,551.52 L326.10,551.50 L326.60,551.48 L327.10,551.46 L327.60,551.44 L328.10,551.41 L328.60,551.39 L329.10,551.36 L329.60,551.34 L330.10,551.31 L330.60,551.28 L331.10,551.25 L331.60,551.22 L332.10,551.19 L332.60,551.16 L333.10,551.14 L333.60,551.11 L334.10,551.07 L334.60,551.03 L335.10,550.98 L335.60,550.93 L336.10,550.88 L336.60,550.82 L337.10,550.76 L337.60,550.69 L338.10,550.62 L338.60,550.53 L339.10,550.45 L339.60,550.36 L340.10,550.27 L340.60,550.17 L341.10,550.05 L341.60,549.95 L342.10,549.82 L342.60,549.69 L343.10,549.55 L343.60,549.42 L344.10,549.28 L344.60,549.12 L345.10,548.95 L345.60,548.78 L346.10,548.58 L346.60,548.32 L347.10,548.04 L347.60,547.70 L348.10,547.34 L348.60,546.92 L349.10,546.44 L349.60,545.90 L350.10,545.37 L350.60,544.75 L351.10,544.06 L351.60,543.39 L352.10,542.69 L352.60,541.92 L353.10,541.20 L353.60,540.20 L354.10,538.65 L354.60,536.74 L355.10,534.80 L355.60,532.74 L356.10,530.85 L356.60,528.80 L357.10,526.42 L357.60,524.71 L358.10,522.74 L358.60,519.31 L359.10,515.98 L359.60,512.96 L360.10,509.70 L360.60,506.91 L361.10,504.46 L361.60,502.19 L362.10,499.06 L362.60,496.23 L363.10,492.05 L363.60,487.03 L364.10,484.42 L364.60,481.87 L365.10,478.64 L365.60,474.05 L366.10,474.87 L366.60,472.03 L367.10,467.25 L367.60,466.15 L368.10,463.93 L368.60,459.50 L369.10,456.93 L369.60,459.46 L370.10,462.77 L370.60,463.98 L371.10,467.70 L371.60,470.11 L372.10,471.46 L372.60,472.16 L373.10,474.78 L373.60,477.49 L374.10,479.26 L374.60,482.19 L375.10,484.38 L375.60,486.62 L376.10,489.46 L376.60,492.51 L377.10,494.73 L377.60,496.39 L378.10,499.97 L378.60,501.77 L379.10,504.28 L379.60,506.96 L380.10,509.52 L380.60,511.28 L381.10,513.37 L381.60,515.34 L382.10,518.04 L382.60,520.53 L383.10,522.41 L383.60,523.80 L384.10,525.62 L384.60,527.52 L385.10,529.09 L385.60,531.03 L386.10,532.85 L386.60,534.46 L387.10,536.10 L387.60,537.48 L388.10,538.77 L388.60,539.79 L389.10,540.71 L389.60,541.52 L390.10,542.24 L390.60,543.00 L391.10,543.65 L391.60,544.31 L392.10,544.93 L392.60,545.44 L393.10,545.92 L393.60,546.41 L394.10,546.93 L394.60,547.35 L395.10,547.73 L395.60,548.09 L396.10,548.38 L396.60,548.67 L397.10,548.88 L397.60,549.07 L398.10,549.26 L398.60,549.44 L399.10,549.63 L399.60,549.79 L400.10,549.95 L400.60,550.10 L401.10,550.25 L401.60,550.38 L402.10,550.52 L402.60,550.64 L403.10,550.75 L403.60,550.86 L404.10,550.95 L404.60,551.03 L405.10,551.11 L405.60,551.18 L406.10,551.23 L406.60,551.28 L407.10,551.31 L407.60,551.35 L408.10,551.38 L408.60,551.41 L409.10,551.44 L409.60,551.47 L410.10,551.50 L410.60,551.52 L411.10,551.55 L411.60,551.58 L412.10,551.60 L412.60,551.62 L413.10,551.64 L413.60,551.66 L414.10,551.68 L414.60,551.70 L415.10,551.72 L415.60,551.73 L416.10,551.75 L416.60,551.76 L417.10,551.77 L417.60,551.78 L418.10,551.79 L418.60,551.79 L419.10,551.80 L419.60,551.80 L420.10,551.80" fill="none" stroke="#e6334f" stroke-width="0.75"/>
<path d="M317.10,552.10 L317.10,551.70 L317.60,551.70 L318.10,551.70 L318.60,551.70 L319.10,551.70 L319.60,551.69 L320.10,551.69 L320.60,551.68 L321.10,551.67 L321.60,551.66 L322.10,551.65 L322.60,551.64 L323.10,551.63 L323.60,551.62 L324.10,551.61 L324.60,551.59 L325.10,551.58 L325.60,551.56 L326.10,551.55 L326.60,551.53 L327.10,551.51 L327.60,551.50 L328.10,551.48 L328.60,551.46 L329.10,551.44 L329.60,551.42 L330.10,551.39 L330.60,551.37 L331.10,551.35 L331.60,551.33 L332.10,551.30 L332.60,551.28 L333.10,551.25 L333.60,551.23 L334.10,551.20 L334.60,551.17 L335.10,551.14 L335.60,551.11 L336.10,551.08 L336.60,551.05 L337.10,551.00 L337.60,550.96 L338.10,550.90 L338.60,550.83 L339.10,550.77 L339.60,550.70 L340.10,550.63 L340.60,550.54 L341.10,550.45 L341.60,550.36 L342.10,550.25 L342.60,550.15 L343.10,550.04 L343.60,549.93 L344.10,549.81 L344.60,549.69 L345.10,549.56 L345.60,549.43 L346.10,549.30 L346.60,549.15 L347.10,549.01 L347.60,548.87 L348.10,548.71 L348.60,548.51 L349.10,548.35 L349.60,548.14 L350.10,547.91 L350.60,547.66 L351.10,547.39 L351.60,547.10 L352.10,546.80 L352.60,546.51 L353.10,546.21 L353.60,545.83 L354.10,545.42 L354.60,545.01 L355.10,544.58 L355.60,544.19 L356.10,543.78 L356.60,543.28 L357.10,542.72 L357.60,542.14 L358.10,541.57 L358.60,541.05 L359.10,540.51 L359.60,539.70 L360.10,538.71 L360.60,537.66 L361.10,536.54 L361.60,535.44 L362.10,534.12 L362.60,532.99 L363.10,531.32 L363.60,529.55 L364.10,527.87 L364.60,525.99 L365.10,524.34 L365.60,522.26 L366.10,519.82 L366.60,517.35 L367.10,514.09 L367.60,511.45 L368.10,508.18 L368.60,505.13 L369.10,502.35 L369.60,498.74 L370.10,494.94 L370.60,490.91 L371.10,485.85 L371.60,483.79 L372.10,480.00 L372.60,475.61 L373.10,473.08 L373.60,471.23 L374.10,471.30 L374.60,468.49 L375.10,464.96 L375.60,462.11 L376.10,462.20 L376.60,459.49 L377.10,455.48 L377.60,455.34 L378.10,455.14 L378.60,454.34 L379.10,455.02 L379.60,459.50 L380.10,460.52 L380.60,460.72 L381.10,461.31 L381.60,463.95 L382.10,467.77 L382.60,468.23 L383.10,469.16 L383.60,468.74 L384.10,472.83 L384.60,475.61 L385.10,479.78 L385.60,483.73 L386.10,487.53 L386.60,490.26 L387.10,494.22 L387.60,499.24 L388.10,501.99 L388.60,504.40 L389.10,507.29 L389.60,510.53 L390.10,512.99 L390.60,516.10 L391.10,518.39 L391.60,520.70 L392.10,522.71 L392.60,524.39 L393.10,526.13 L393.60,527.77 L394.10,530.00 L394.60,531.86 L395.10,533.30 L395.60,534.91 L396.10,536.41 L396.60,537.61 L397.10,538.88 L397.60,540.17 L398.10,541.10 L398.60,541.93 L399.10,542.84 L399.60,543.63 L400.10,544.48 L400.60,545.25 L401.10,545.98 L401.60,546.66 L402.10,547.24 L402.60,547.76 L403.10,548.20 L403.60,548.54 L404.10,548.81 L404.60,549.04 L405.10,549.23 L405.60,549.42 L406.10,549.61 L406.60,549.78 L407.10,549.93 L407.60,550.09 L408.10,550.22 L408.60,550.35 L409.10,550.47 L409.60,550.58 L410.10,550.69 L410.60,550.78 L411.10,550.87 L411.60,550.96 L412.10,551.04 L412.60,551.12 L413.10,551.18 L413.60,551.25 L414.10,551.31 L414.60,551.36 L415.10,551.42 L415.60,551.47 L416.10,551.53 L416.60,551.58 L417.10,551.62 L417.60,551.67 L418.10,551.70 L418.60,551.74 L419.10,551.76 L419.60,551.78 L420.10,551.80 L420.30,552.10 Z" fill="#4eaabe" fill-opacity="0.458"/>
<path d="M317.10,551.70 L317.60,551.70 L318.10,551.70 L318.60,551.70 L319.10,551.70 L319.60,551.69 L320.10,551.69 L320.60,551.68 L321.10,551.67 L321.60,551.66 L322.10,551.65 L322.60,551.64 L323.10,551.63 L323.60,551.62 L324.10,551.61 L324.60,551.59 L325.10,551.58 L325.60,551.56 L326.10,551.55 L326.60,551.53 L327.10,551.51 L327.60,551.50 L328.10,551.48 L328.60,551.46 L329.10,551.44 L329.60,551.42 L330.10,551.39 L330.60,551.37 L331.10,551.35 L331.60,551.33 L332.10,551.30 L332.60,551.28 L333.10,551.25 L333.60,551.23 L334.10,551.20 L334.60,551.17 L335.10,551.14 L335.60,551.11 L336.10,551.08 L336.60,551.05 L337.10,551.00 L337.60,550.96 L338.10,550.90 L338.60,550.83 L339.10,550.77 L339.60,550.70 L340.10,550.63 L340.60,550.54 L341.10,550.45 L341.60,550.36 L342.10,550.25 L342.60,550.15 L343.10,550.04 L343.60,549.93 L344.10,549.81 L344.60,549.69 L345.10,549.56 L345.60,549.43 L346.10,549.30 L346.60,549.15 L347.10,549.01 L347.60,548.87 L348.10,548.71 L348.60,548.51 L349.10,548.35 L349.60,548.14 L350.10,547.91 L350.60,547.66 L351.10,547.39 L351.60,547.10 L352.10,546.80 L352.60,546.51 L353.10,546.21 L353.60,545.83 L354.10,545.42 L354.60,545.01 L355.10,544.58 L355.60,544.19 L356.10,543.78 L356.60,543.28 L357.10,542.72 L357.60,542.14 L358.10,541.57 L358.60,541.05 L359.10,540.51 L359.60,539.70 L360.10,538.71 L360.60,537.66 L361.10,536.54 L361.60,535.44 L362.10,534.12 L362.60,532.99 L363.10,531.32 L363.60,529.55 L364.10,527.87 L364.60,525.99 L365.10,524.34 L365.60,522.26 L366.10,519.82 L366.60,517.35 L367.10,514.09 L367.60,511.45 L368.10,508.18 L368.60,505.13 L369.10,502.35 L369.60,498.74 L370.10,494.94 L370.60,490.91 L371.10,485.85 L371.60,483.79 L372.10,480.00 L372.60,475.61 L373.10,473.08 L373.60,471.23 L374.10,471.30 L374.60,468.49 L375.10,464.96 L375.60,462.11 L376.10,462.20 L376.60,459.49 L377.10,455.48 L377.60,455.34 L378.10,455.14 L378.60,454.34 L379.10,455.02 L379.60,459.50 L380.10,460.52 L380.60,460.72 L381.10,461.31 L381.60,463.95 L382.10,467.77 L382.60,468.23 L383.10,469.16 L383.60,468.74 L384.10,472.83 L384.60,475.61 L385.10,479.78 L385.60,483.73 L386.10,487.53 L386.60,490.26 L387.10,494.22 L387.60,499.24 L388.10,501.99 L388.60,504.40 L389.10,507.29 L389.60,510.53 L390.10,512.99 L390.60,516.10 L391.10,518.39 L391.60,520.70 L392.10,522.71 L392.60,524.39 L393.10,526.13 L393.60,527.77 L394.10,530.00 L394.60,531.86 L395.10,533.30 L395.60,534.91 L396.10,536.41 L396.60,537.61 L397.10,538.88 L397.60,540.17 L398.10,541.10 L398.60,541.93 L399.10,542.84 L399.60,543.63 L400.10,544.48 L400.60,545.25 L401.10,545.98 L401.60,546.66 L402.10,547.24 L402.60,547.76 L403.10,548.20 L403.60,548.54 L404.10,548.81 L404.60,549.04 L405.10,549.23 L405.60,549.42 L406.10,549.61 L406.60,549.78 L407.10,549.93 L407.60,550.09 L408.10,550.22 L408.60,550.35 L409.10,550.47 L409.60,550.58 L410.10,550.69 L410.60,550.78 L411.10,550.87 L411.60,550.96 L412.10,551.04 L412.60,551.12 L413.10,551.18 L413.60,551.25 L414.10,551.31 L414.60,551.36 L415.10,551.42 L415.60,551.47 L416.10,551.53 L416.60,551.58 L417.10,551.62 L417.60,551.67 L418.10,551.70 L418.60,551.74 L419.10,551.76 L419.60,551.78 L420.10,551.80" fill="none" stroke="#2fa0ba" stroke-width="0.75"/>
<line x1="313.60" y1="552.10" x2="316.60" y2="552.10" stroke="#222" stroke-width="1.0"/>
<text x="311.30" y="555.50" font-size="9.6" text-anchor="end" stroke="#1a1a1a" stroke-width="0.18">0</text>
<line x1="315.30" y1="547.14" x2="316.60" y2="547.14" stroke="#444" stroke-width="0.9"/>
<line x1="315.30" y1="542.18" x2="316.60" y2="542.18" stroke="#444" stroke-width="0.9"/>
<line x1="315.30" y1="537.22" x2="316.60" y2="537.22" stroke="#444" stroke-width="0.9"/>
<line x1="313.60" y1="532.26" x2="316.60" y2="532.26" stroke="#222" stroke-width="1.0"/>
<text x="311.30" y="535.66" font-size="9.6" text-anchor="end" stroke="#1a1a1a" stroke-width="0.18">20</text>
<line x1="315.30" y1="527.30" x2="316.60" y2="527.30" stroke="#444" stroke-width="0.9"/>
<line x1="315.30" y1="522.34" x2="316.60" y2="522.34" stroke="#444" stroke-width="0.9"/>
<line x1="315.30" y1="517.38" x2="316.60" y2="517.38" stroke="#444" stroke-width="0.9"/>
<line x1="313.60" y1="512.42" x2="316.60" y2="512.42" stroke="#222" stroke-width="1.0"/>
<text x="311.30" y="515.82" font-size="9.6" text-anchor="end" stroke="#1a1a1a" stroke-width="0.18">40</text>
<line x1="315.30" y1="507.46" x2="316.60" y2="507.46" stroke="#444" stroke-width="0.9"/>
<line x1="315.30" y1="502.50" x2="316.60" y2="502.50" stroke="#444" stroke-width="0.9"/>
<line x1="315.30" y1="497.54" x2="316.60" y2="497.54" stroke="#444" stroke-width="0.9"/>
<line x1="313.60" y1="492.58" x2="316.60" y2="492.58" stroke="#222" stroke-width="1.0"/>
<text x="311.30" y="495.98" font-size="9.6" text-anchor="end" stroke="#1a1a1a" stroke-width="0.18">60</text>
<line x1="315.30" y1="487.62" x2="316.60" y2="487.62" stroke="#444" stroke-width="0.9"/>
<line x1="315.30" y1="482.66" x2="316.60" y2="482.66" stroke="#444" stroke-width="0.9"/>
<line x1="315.30" y1="477.70" x2="316.60" y2="477.70" stroke="#444" stroke-width="0.9"/>
<line x1="313.60" y1="472.74" x2="316.60" y2="472.74" stroke="#222" stroke-width="1.0"/>
<text x="311.30" y="476.14" font-size="9.6" text-anchor="end" stroke="#1a1a1a" stroke-width="0.18">80</text>
<line x1="315.30" y1="467.78" x2="316.60" y2="467.78" stroke="#444" stroke-width="0.9"/>
<line x1="315.30" y1="462.82" x2="316.60" y2="462.82" stroke="#444" stroke-width="0.9"/>
<line x1="315.30" y1="457.86" x2="316.60" y2="457.86" stroke="#444" stroke-width="0.9"/>
<line x1="313.60" y1="452.90" x2="316.60" y2="452.90" stroke="#222" stroke-width="1.0"/>
<text x="311.30" y="456.30" font-size="9.6" text-anchor="end" stroke="#1a1a1a" stroke-width="0.18">100</text>
<line x1="316.60" y1="552.10" x2="420.80" y2="552.10" stroke="#666" stroke-width="1.0"/>
<line x1="319.62" y1="552.10" x2="319.62" y2="553.90" stroke="#555" stroke-width="0.6"/>
<line x1="323.87" y1="552.10" x2="323.87" y2="553.90" stroke="#555" stroke-width="0.6"/>
<line x1="327.16" y1="552.10" x2="327.16" y2="553.90" stroke="#555" stroke-width="0.6"/>
<line x1="329.86" y1="552.10" x2="329.86" y2="553.90" stroke="#555" stroke-width="0.6"/>
<line x1="332.13" y1="552.10" x2="332.13" y2="553.90" stroke="#555" stroke-width="0.6"/>
<line x1="334.11" y1="552.10" x2="334.11" y2="553.90" stroke="#555" stroke-width="0.6"/>
<line x1="335.84" y1="552.10" x2="335.84" y2="553.90" stroke="#555" stroke-width="0.6"/>
<line x1="337.40" y1="552.10" x2="337.40" y2="555.60" stroke="#333" stroke-width="0.9"/>
<line x1="347.64" y1="552.10" x2="347.64" y2="553.90" stroke="#555" stroke-width="0.6"/>
<line x1="353.62" y1="552.10" x2="353.62" y2="553.90" stroke="#555" stroke-width="0.6"/>
<line x1="357.87" y1="552.10" x2="357.87" y2="553.90" stroke="#555" stroke-width="0.6"/>
<line x1="361.16" y1="552.10" x2="361.16" y2="553.90" stroke="#555" stroke-width="0.6"/>
<line x1="363.86" y1="552.10" x2="363.86" y2="553.90" stroke="#555" stroke-width="0.6"/>
<line x1="366.13" y1="552.10" x2="366.13" y2="553.90" stroke="#555" stroke-width="0.6"/>
<line x1="368.11" y1="552.10" x2="368.11" y2="553.90" stroke="#555" stroke-width="0.6"/>
<line x1="369.84" y1="552.10" x2="369.84" y2="553.90" stroke="#555" stroke-width="0.6"/>
<line x1="371.40" y1="552.10" x2="371.40" y2="555.60" stroke="#333" stroke-width="0.9"/>
<line x1="381.64" y1="552.10" x2="381.64" y2="553.90" stroke="#555" stroke-width="0.6"/>
<line x1="387.62" y1="552.10" x2="387.62" y2="553.90" stroke="#555" stroke-width="0.6"/>
<line x1="391.87" y1="552.10" x2="391.87" y2="553.90" stroke="#555" stroke-width="0.6"/>
<line x1="395.16" y1="552.10" x2="395.16" y2="553.90" stroke="#555" stroke-width="0.6"/>
<line x1="397.86" y1="552.10" x2="397.86" y2="553.90" stroke="#555" stroke-width="0.6"/>
<line x1="400.13" y1="552.10" x2="400.13" y2="553.90" stroke="#555" stroke-width="0.6"/>
<line x1="402.11" y1="552.10" x2="402.11" y2="553.90" stroke="#555" stroke-width="0.6"/>
<line x1="403.84" y1="552.10" x2="403.84" y2="553.90" stroke="#555" stroke-width="0.6"/>
<line x1="405.40" y1="552.10" x2="405.40" y2="555.60" stroke="#333" stroke-width="0.9"/>
<line x1="415.64" y1="552.10" x2="415.64" y2="553.90" stroke="#555" stroke-width="0.6"/>
<text x="340.10" y="566.20" font-size="9.5" text-anchor="end" stroke="#1a1a1a" stroke-width="0.18">10</text>
<text x="340.30" y="560.80" font-size="6.0" stroke="#1a1a1a" stroke-width="0.18">4</text>
<text x="374.10" y="566.20" font-size="9.5" text-anchor="end" stroke="#1a1a1a" stroke-width="0.18">10</text>
<text x="374.30" y="560.80" font-size="6.0" stroke="#1a1a1a" stroke-width="0.18">5</text>
<text x="408.10" y="566.20" font-size="9.5" text-anchor="end" stroke="#1a1a1a" stroke-width="0.18">10</text>
<text x="408.30" y="560.80" font-size="6.0" stroke="#1a1a1a" stroke-width="0.18">6</text>
<text x="368.70" y="442.70" font-size="10" text-anchor="middle" stroke="#1a1a1a" stroke-width="0.18">Neratinib</text>
<text x="317.80" y="457.30" font-size="8.6" fill="#9a9a9a" stroke="#9a9a9a" stroke-width="0.18">siSCR</text>
<text x="317.80" y="467.90" font-size="8.6" fill="#e4324f" stroke="#e4324f" stroke-width="0.18">siGCN1 #1</text>
<text x="317.80" y="478.50" font-size="8.6" fill="#2aa0bb" stroke="#2aa0bb" stroke-width="0.18">siGCN1 #2</text>
<text x="60.30" y="577.80" font-size="9.75" stroke="#1a1a1a" stroke-width="0.18">ATF4-mScarlet</text>
<line x1="129.50" y1="576.00" x2="416.00" y2="576.00" stroke="#6b6b6b" stroke-width="1.1"/>
<path d="M421.3,576 L414.5,573.2 L414.5,578.8 Z" fill="#222"/>
<text x="35.80" y="516.30" font-size="10.2" text-anchor="middle" stroke="#1a1a1a" stroke-width="0.18" transform="rotate(-90 35.80 516.30)">Norm. cell count</text>
<line x1="32.60" y1="475.00" x2="32.60" y2="451.50" stroke="#222" stroke-width="1.0"/>
<path d="M32.6,448.2 L30.2,454.2 L35.0,454.2 Z" fill="#222"/>
<text x="441.20" y="410.80" font-size="15" font-weight="bold">f</text>
<line x1="508.80" y1="444.10" x2="508.80" y2="553.80" stroke="#222" stroke-width="1"/>
<line x1="504.60" y1="553.30" x2="508.80" y2="553.30" stroke="#222" stroke-width="1"/>
<text x="503.00" y="556.40" font-size="8.8" text-anchor="end" fill="#333" stroke="#333" stroke-width="0.18">0.0</text>
<line x1="504.60" y1="526.10" x2="508.80" y2="526.10" stroke="#222" stroke-width="1"/>
<text x="503.00" y="529.20" font-size="8.8" text-anchor="end" fill="#333" stroke="#333" stroke-width="0.18">0.5</text>
<line x1="504.60" y1="498.90" x2="508.80" y2="498.90" stroke="#222" stroke-width="1"/>
<text x="503.00" y="502.00" font-size="8.8" text-anchor="end" fill="#333" stroke="#333" stroke-width="0.18">1.0</text>
<line x1="504.60" y1="471.70" x2="508.80" y2="471.70" stroke="#222" stroke-width="1"/>
<text x="503.00" y="474.80" font-size="8.8" text-anchor="end" fill="#333" stroke="#333" stroke-width="0.18">1.5</text>
<line x1="504.60" y1="444.50" x2="508.80" y2="444.50" stroke="#222" stroke-width="1"/>
<text x="503.00" y="447.60" font-size="8.8" text-anchor="end" fill="#333" stroke="#333" stroke-width="0.18">2.0</text>
<line x1="504.60" y1="553.30" x2="670.90" y2="553.30" stroke="#222" stroke-width="1"/>
<rect x="513.90" y="498.90" width="10.20" height="54.40" fill="#e63a4d"/>
<line x1="519.00" y1="553.30" x2="519.00" y2="558.30" stroke="#222" stroke-width="1"/>
<rect x="529.20" y="517.67" width="10.20" height="35.63" fill="#e63a4d"/>
<line x1="534.30" y1="553.30" x2="534.30" y2="558.30" stroke="#222" stroke-width="1"/>
<rect x="544.40" y="508.69" width="10.20" height="44.61" fill="#e63a4d"/>
<line x1="549.50" y1="553.30" x2="549.50" y2="558.30" stroke="#222" stroke-width="1"/>
<rect x="569.80" y="464.90" width="10.20" height="88.40" fill="#e63a4d"/>
<line x1="574.90" y1="553.30" x2="574.90" y2="558.30" stroke="#222" stroke-width="1"/>
<rect x="585.10" y="507.33" width="10.20" height="45.97" fill="#e63a4d"/>
<line x1="590.20" y1="553.30" x2="590.20" y2="558.30" stroke="#222" stroke-width="1"/>
<rect x="600.40" y="490.20" width="10.20" height="63.10" fill="#e63a4d"/>
<line x1="605.50" y1="553.30" x2="605.50" y2="558.30" stroke="#222" stroke-width="1"/>
<rect x="625.80" y="454.29" width="10.20" height="99.01" fill="#e63a4d"/>
<line x1="630.90" y1="553.30" x2="630.90" y2="558.30" stroke="#222" stroke-width="1"/>
<rect x="641.10" y="498.36" width="10.20" height="54.94" fill="#e63a4d"/>
<line x1="646.20" y1="553.30" x2="646.20" y2="558.30" stroke="#222" stroke-width="1"/>
<rect x="656.30" y="476.32" width="10.20" height="76.98" fill="#e63a4d"/>
<line x1="661.40" y1="553.30" x2="661.40" y2="558.30" stroke="#222" stroke-width="1"/>
<circle cx="516.40" cy="498.90" r="2.25" fill="#fff" stroke="#111" stroke-width="0.95"/>
<circle cx="519.00" cy="498.90" r="2.25" fill="#fff" stroke="#111" stroke-width="0.95"/>
<circle cx="521.60" cy="498.90" r="2.25" fill="#fff" stroke="#111" stroke-width="0.95"/>
<line x1="534.30" y1="514.13" x2="534.30" y2="519.03" stroke="#111" stroke-width="0.8"/>
<circle cx="534.30" cy="514.13" r="2.25" fill="#fff" stroke="#111" stroke-width="0.95"/>
<circle cx="531.90" cy="516.85" r="2.25" fill="#fff" stroke="#111" stroke-width="0.95"/>
<circle cx="536.70" cy="519.03" r="2.25" fill="#fff" stroke="#111" stroke-width="0.95"/>
<line x1="549.50" y1="506.52" x2="549.50" y2="509.24" stroke="#111" stroke-width="0.8"/>
<circle cx="547.10" cy="506.52" r="2.25" fill="#fff" stroke="#111" stroke-width="0.95"/>
<circle cx="549.50" cy="508.15" r="2.25" fill="#fff" stroke="#111" stroke-width="0.95"/>
<circle cx="551.90" cy="509.24" r="2.25" fill="#fff" stroke="#111" stroke-width="0.95"/>
<line x1="574.90" y1="458.10" x2="574.90" y2="465.72" stroke="#111" stroke-width="0.8"/>
<circle cx="574.90" cy="458.10" r="2.25" fill="#fff" stroke="#111" stroke-width="0.95"/>
<circle cx="572.30" cy="465.17" r="2.25" fill="#fff" stroke="#111" stroke-width="0.95"/>
<circle cx="577.50" cy="465.72" r="2.25" fill="#fff" stroke="#111" stroke-width="0.95"/>
<line x1="590.20" y1="505.43" x2="590.20" y2="507.60" stroke="#111" stroke-width="0.8"/>
<circle cx="587.80" cy="505.43" r="2.25" fill="#fff" stroke="#111" stroke-width="0.95"/>
<circle cx="590.20" cy="506.52" r="2.25" fill="#fff" stroke="#111" stroke-width="0.95"/>
<circle cx="592.60" cy="507.60" r="2.25" fill="#fff" stroke="#111" stroke-width="0.95"/>
<line x1="605.50" y1="485.84" x2="605.50" y2="490.74" stroke="#111" stroke-width="0.8"/>
<circle cx="605.50" cy="485.84" r="2.25" fill="#fff" stroke="#111" stroke-width="0.95"/>
<circle cx="603.10" cy="490.74" r="2.25" fill="#fff" stroke="#111" stroke-width="0.95"/>
<circle cx="607.90" cy="490.74" r="2.25" fill="#fff" stroke="#111" stroke-width="0.95"/>
<line x1="630.90" y1="451.03" x2="630.90" y2="456.47" stroke="#111" stroke-width="0.8"/>
<circle cx="628.50" cy="451.03" r="2.25" fill="#fff" stroke="#111" stroke-width="0.95"/>
<circle cx="630.90" cy="453.75" r="2.25" fill="#fff" stroke="#111" stroke-width="0.95"/>
<circle cx="633.30" cy="456.47" r="2.25" fill="#fff" stroke="#111" stroke-width="0.95"/>
<line x1="646.20" y1="495.09" x2="646.20" y2="501.08" stroke="#111" stroke-width="0.8"/>
<circle cx="643.80" cy="495.09" r="2.25" fill="#fff" stroke="#111" stroke-width="0.95"/>
<circle cx="648.80" cy="497.81" r="2.25" fill="#fff" stroke="#111" stroke-width="0.95"/>
<circle cx="646.20" cy="501.08" r="2.25" fill="#fff" stroke="#111" stroke-width="0.95"/>
<line x1="661.40" y1="471.70" x2="661.40" y2="478.23" stroke="#111" stroke-width="0.8"/>
<circle cx="661.40" cy="471.70" r="2.25" fill="#fff" stroke="#111" stroke-width="0.95"/>
<circle cx="664.00" cy="476.05" r="2.25" fill="#fff" stroke="#111" stroke-width="0.95"/>
<circle cx="659.00" cy="478.23" r="2.25" fill="#fff" stroke="#111" stroke-width="0.95"/>
<text x="476.60" y="499.00" font-size="8.9" text-anchor="middle" stroke="#1a1a1a" stroke-width="0.18" transform="rotate(-90 476.60 499.00)">ATF4-mScarlet</text>
<text x="486.40" y="498.30" font-size="8.9" text-anchor="middle" stroke="#1a1a1a" stroke-width="0.18" transform="rotate(-90 486.40 498.30)">(Normalized MFI)</text>
<line x1="518.60" y1="415.70" x2="631.60" y2="415.70" stroke="#8a8a8a" stroke-width="1.0"/>
<text x="576.90" y="412.70" font-size="8.7" text-anchor="middle" stroke="#1a1a1a" stroke-width="0.18">p &lt; 0.0001</text>
<line x1="518.60" y1="428.60" x2="574.20" y2="428.60" stroke="#8a8a8a" stroke-width="1.0"/>
<text x="549.20" y="424.50" font-size="8.7" text-anchor="middle" stroke="#1a1a1a" stroke-width="0.18">p &lt; 0.0001</text>
<line x1="576.00" y1="439.60" x2="605.60" y2="439.60" stroke="#8a8a8a" stroke-width="1.0"/>
<text x="594.00" y="436.40" font-size="8.7" text-anchor="middle" stroke="#1a1a1a" stroke-width="0.18">p &lt; 0.0001</text>
<line x1="576.00" y1="452.80" x2="590.80" y2="452.80" stroke="#8a8a8a" stroke-width="1.0"/>
<text x="594.00" y="449.60" font-size="8.7" text-anchor="middle" stroke="#1a1a1a" stroke-width="0.18">p &lt; 0.0001</text>
<line x1="631.60" y1="429.90" x2="661.50" y2="429.90" stroke="#8a8a8a" stroke-width="1.0"/>
<text x="649.60" y="426.40" font-size="8.7" text-anchor="middle" stroke="#1a1a1a" stroke-width="0.18">p &lt; 0.0001</text>
<line x1="631.60" y1="444.00" x2="646.40" y2="444.00" stroke="#8a8a8a" stroke-width="1.0"/>
<text x="649.60" y="441.40" font-size="8.7" text-anchor="middle" stroke="#1a1a1a" stroke-width="0.18">p &lt; 0.0001</text>
<line x1="519.60" y1="478.20" x2="549.40" y2="478.20" stroke="#8a8a8a" stroke-width="1.0"/>
<text x="538.00" y="474.70" font-size="8.7" text-anchor="middle" stroke="#1a1a1a" stroke-width="0.18">p = 0.0081</text>
<line x1="519.60" y1="490.40" x2="534.30" y2="490.40" stroke="#8a8a8a" stroke-width="1.0"/>
<text x="537.00" y="487.30" font-size="8.7" text-anchor="middle" stroke="#1a1a1a" stroke-width="0.18">p = 0.000005</text>
<text x="502.00" y="567.80" font-size="10" text-anchor="end" stroke="#1a1a1a" stroke-width="0.18">siSCR</text>
<text x="502.00" y="580.00" font-size="10" text-anchor="end" stroke="#1a1a1a" stroke-width="0.18">siGCN1 #1</text>
<text x="502.00" y="592.00" font-size="10" text-anchor="end" stroke="#1a1a1a" stroke-width="0.18">siGCN1 #2</text>
<text x="519.00" y="567.60" font-size="9.0" text-anchor="middle" stroke="#1a1a1a" stroke-width="0.18">+</text>
<text x="534.30" y="567.60" font-size="9.0" text-anchor="middle" stroke="#1a1a1a" stroke-width="0.18">-</text>
<text x="549.50" y="567.60" font-size="9.0" text-anchor="middle" stroke="#1a1a1a" stroke-width="0.18">-</text>
<text x="519.00" y="579.60" font-size="9.0" text-anchor="middle" stroke="#1a1a1a" stroke-width="0.18">-</text>
<text x="534.30" y="579.60" font-size="9.0" text-anchor="middle" stroke="#1a1a1a" stroke-width="0.18">+</text>
<text x="549.50" y="579.60" font-size="9.0" text-anchor="middle" stroke="#1a1a1a" stroke-width="0.18">-</text>
<text x="519.00" y="591.60" font-size="9.0" text-anchor="middle" stroke="#1a1a1a" stroke-width="0.18">-</text>
<text x="534.30" y="591.60" font-size="9.0" text-anchor="middle" stroke="#1a1a1a" stroke-width="0.18">-</text>
<text x="549.50" y="591.60" font-size="9.0" text-anchor="middle" stroke="#1a1a1a" stroke-width="0.18">+</text>
<text x="574.90" y="567.60" font-size="9.0" text-anchor="middle" stroke="#1a1a1a" stroke-width="0.18">+</text>
<text x="590.20" y="567.60" font-size="9.0" text-anchor="middle" stroke="#1a1a1a" stroke-width="0.18">-</text>
<text x="605.50" y="567.60" font-size="9.0" text-anchor="middle" stroke="#1a1a1a" stroke-width="0.18">-</text>
<text x="574.90" y="579.60" font-size="9.0" text-anchor="middle" stroke="#1a1a1a" stroke-width="0.18">-</text>
<text x="590.20" y="579.60" font-size="9.0" text-anchor="middle" stroke="#1a1a1a" stroke-width="0.18">+</text>
<text x="605.50" y="579.60" font-size="9.0" text-anchor="middle" stroke="#1a1a1a" stroke-width="0.18">-</text>
<text x="574.90" y="591.60" font-size="9.0" text-anchor="middle" stroke="#1a1a1a" stroke-width="0.18">-</text>
<text x="590.20" y="591.60" font-size="9.0" text-anchor="middle" stroke="#1a1a1a" stroke-width="0.18">-</text>
<text x="605.50" y="591.60" font-size="9.0" text-anchor="middle" stroke="#1a1a1a" stroke-width="0.18">+</text>
<text x="630.90" y="567.60" font-size="9.0" text-anchor="middle" stroke="#1a1a1a" stroke-width="0.18">+</text>
<text x="646.20" y="567.60" font-size="9.0" text-anchor="middle" stroke="#1a1a1a" stroke-width="0.18">-</text>
<text x="661.40" y="567.60" font-size="9.0" text-anchor="middle" stroke="#1a1a1a" stroke-width="0.18">-</text>
<text x="630.90" y="579.60" font-size="9.0" text-anchor="middle" stroke="#1a1a1a" stroke-width="0.18">-</text>
<text x="646.20" y="579.60" font-size="9.0" text-anchor="middle" stroke="#1a1a1a" stroke-width="0.18">+</text>
<text x="661.40" y="579.60" font-size="9.0" text-anchor="middle" stroke="#1a1a1a" stroke-width="0.18">-</text>
<text x="630.90" y="591.60" font-size="9.0" text-anchor="middle" stroke="#1a1a1a" stroke-width="0.18">-</text>
<text x="646.20" y="591.60" font-size="9.0" text-anchor="middle" stroke="#1a1a1a" stroke-width="0.18">-</text>
<text x="661.40" y="591.60" font-size="9.0" text-anchor="middle" stroke="#1a1a1a" stroke-width="0.18">+</text>
<line x1="513.90" y1="597.20" x2="554.80" y2="597.20" stroke="#222" stroke-width="1"/>
<text x="534.35" y="609.00" font-size="9.8" text-anchor="middle" stroke="#1a1a1a" stroke-width="0.18">DMSO</text>
<line x1="570.00" y1="597.20" x2="611.50" y2="597.20" stroke="#222" stroke-width="1"/>
<text x="590.75" y="609.00" font-size="9.8" text-anchor="middle" stroke="#1a1a1a" stroke-width="0.18">AZD1775</text>
<line x1="626.20" y1="597.20" x2="666.80" y2="597.20" stroke="#222" stroke-width="1"/>
<text x="646.50" y="609.00" font-size="9.8" text-anchor="middle" stroke="#1a1a1a" stroke-width="0.18">Neratinib</text>
<text x="11.20" y="629.30" font-size="15" font-weight="bold">g</text>
<rect x="59.50" y="651.10" width="164.20" height="16.70" fill="#f2c8c4"/>
<rect x="223.70" y="651.10" width="311.80" height="16.70" fill="#fdd8b6"/>
<rect x="59.50" y="667.80" width="164.20" height="262.40" fill="#fdecea"/>
<rect x="223.70" y="667.80" width="311.80" height="262.40" fill="#fdf3ea"/>
<rect x="59.50" y="628.60" width="476.00" height="345.90" fill="none" stroke="#111" stroke-width="1.1"/>
<line x1="59.50" y1="930.20" x2="535.50" y2="930.20" stroke="#111" stroke-width="1.1"/>
<text x="164.00" y="643.40" font-size="12.45" stroke="#1a1a1a" stroke-width="0.18">Consequences of WEE1 inhibitor treatment</text>
<text x="102.00" y="662.30" font-size="10" stroke="#1a1a1a" stroke-width="0.18">WEE1-dependent</text>
<text x="336.20" y="662.30" font-size="10" stroke="#1a1a1a" stroke-width="0.18">WEE1-independent</text>
<path d="M155.76,688.67 A32.6,32.6 0 0 1 156.41,741.87 L150.65,733.95 A22.8,22.8 0 0 0 150.20,696.73 Z" fill="#4a6342"/>
<path d="M156.41,741.87 A32.6,32.6 0 0 1 119.02,742.53 L124.50,734.40 A22.8,22.8 0 0 0 150.65,733.95 Z" fill="#f6a81f"/>
<path d="M117.63,689.46 A32.6,32.6 0 0 1 155.76,688.67 L150.20,696.73 A22.8,22.8 0 0 0 123.53,697.29 Z" fill="#c64b3b"/>
<path d="M119.02,742.53 A32.6,32.6 0 0 1 109.02,699.20 L117.50,704.10 A22.8,22.8 0 0 0 124.50,734.40 Z" fill="#232744"/>
<path d="M111.22,724.97 A27.70,27.70 0 0 1 118.36,695.24" fill="none" stroke="#232744" stroke-width="9.8" stroke-linecap="round"/>
<path d="M119.97,743.15 A32.6,32.6 0 0 1 109.02,731.80 L117.50,726.90 A22.8,22.8 0 0 0 125.17,734.84 Z" fill="#232744"/>
<text x="137.25" y="690.20" font-size="7" text-anchor="middle" font-weight="bold" fill="#fff">M</text>
<text x="109.45" y="717.90" font-size="6.6" text-anchor="middle" font-weight="bold" fill="#fff">G2</text>
<text x="164.85" y="717.90" font-size="6.6" text-anchor="middle" font-weight="bold" fill="#fff">G1</text>
<text x="137.25" y="745.90" font-size="7" text-anchor="middle" font-weight="bold" fill="#222">S</text>
<line x1="109.90" y1="689.30" x2="123.50" y2="704.60" stroke="#111" stroke-width="1.3"/>
<path d="M135.10,712.63 L131.53,716.20 L126.47,716.20 L122.90,712.63 L122.90,707.57 L126.47,704.00 L131.53,704.00 L135.10,707.57 Z" fill="#df2a1e"/>
<rect x="124.40" y="708.50" width="9.20" height="3.20" fill="#fff"/>
<ellipse cx="89.30" cy="682.00" rx="12.80" ry="5.00" fill="#8db39b"/>
<text x="89.30" y="684.12" font-size="5.9" text-anchor="middle" fill="#222" stroke="#222" stroke-width="0.18">Cyclin B</text>
<ellipse cx="97.60" cy="691.80" rx="10.00" ry="4.80" fill="#b3d8ea"/>
<text x="97.60" y="693.92" font-size="5.9" text-anchor="middle" fill="#222" stroke="#222" stroke-width="0.18">CDK1</text>
<circle cx="91.40" cy="698.60" r="2.30" fill="none" stroke="#666" stroke-width="0.6"/>
<text x="91.40" y="700.00" font-size="3.4" text-anchor="middle" fill="#666" stroke="#666" stroke-width="0.18">P</text>
<path d="M94.30,700.60 C95.90,703.80 100.40,703.60 101.20,699.40" fill="none" stroke="#a0a0a0" stroke-width="1.1"/>
<line x1="100.00" y1="699.20" x2="104.00" y2="699.20" stroke="#a0a0a0" stroke-width="1.1"/>
<ellipse cx="171.50" cy="749.40" rx="12.70" ry="4.60" fill="#8db39b"/>
<text x="171.50" y="751.52" font-size="5.9" text-anchor="middle" fill="#222" stroke="#222" stroke-width="0.18">Cyclin E</text>
<ellipse cx="171.10" cy="759.60" rx="10.30" ry="4.50" fill="#b3d8ea"/>
<text x="171.10" y="761.72" font-size="5.9" text-anchor="middle" fill="#222" stroke="#222" stroke-width="0.18">CDK2</text>
<circle cx="168.50" cy="766.80" r="2.30" fill="none" stroke="#666" stroke-width="0.6"/>
<text x="168.50" y="768.20" font-size="3.4" text-anchor="middle" fill="#666" stroke="#666" stroke-width="0.18">P</text>
<path d="M171.40,768.80 C173.00,772.00 177.50,771.80 178.30,767.60" fill="none" stroke="#a0a0a0" stroke-width="1.1"/>
<line x1="177.10" y1="767.40" x2="181.10" y2="767.40" stroke="#a0a0a0" stroke-width="1.1"/>
<ellipse cx="95.20" cy="757.50" rx="12.80" ry="4.80" fill="#c8461f" stroke="#7a2a10" stroke-width="0.6"/>
<text x="95.20" y="759.62" font-size="5.9" text-anchor="middle" fill="#fff" stroke="#fff" stroke-width="0.18">WEE1</text>
<line x1="98.10" y1="747.10" x2="93.10" y2="710.06" stroke="#aaaaaa" stroke-width="1.3"/>
<path d="M92.50,705.60 L96.08,711.17 L93.09,709.96 L90.53,711.92 Z" fill="#aaaaaa"/>
<line x1="111.00" y1="756.40" x2="157.88" y2="765.17" stroke="#aaaaaa" stroke-width="1.3"/>
<path d="M162.30,766.00 L155.89,767.65 L157.98,765.19 L156.92,762.14 Z" fill="#aaaaaa"/>
<line x1="141.20" y1="775.70" x2="141.20" y2="797.30" stroke="#111" stroke-width="0.9"/>
<path d="M141.20,801.30 L139.00,795.30 L141.20,796.80 L143.40,795.30 Z" fill="#111"/>
<path d="M159.76,815.87 A32.6,32.6 0 0 1 160.41,869.07 L154.65,861.15 A22.8,22.8 0 0 0 154.20,823.93 Z" fill="#4a6342"/>
<path d="M160.41,869.07 A32.6,32.6 0 0 1 123.02,869.73 L128.50,861.60 A22.8,22.8 0 0 0 154.65,861.15 Z" fill="#f6a81f"/>
<path d="M121.63,816.66 A32.6,32.6 0 0 1 159.76,815.87 L154.20,823.93 A22.8,22.8 0 0 0 127.53,824.49 Z" fill="#c64b3b"/>
<path d="M123.02,869.73 A32.6,32.6 0 0 1 113.02,826.40 L121.50,831.30 A22.8,22.8 0 0 0 128.50,861.60 Z" fill="#232744"/>
<path d="M115.22,852.17 A27.70,27.70 0 0 1 122.36,822.44" fill="none" stroke="#232744" stroke-width="9.8" stroke-linecap="round"/>
<path d="M123.97,870.35 A32.6,32.6 0 0 1 113.02,859.00 L121.50,854.10 A22.8,22.8 0 0 0 129.17,862.04 Z" fill="#232744"/>
<text x="141.25" y="817.40" font-size="7" text-anchor="middle" font-weight="bold" fill="#fff">M</text>
<text x="113.45" y="845.10" font-size="6.6" text-anchor="middle" font-weight="bold" fill="#fff">G2</text>
<text x="168.85" y="845.10" font-size="6.6" text-anchor="middle" font-weight="bold" fill="#fff">G1</text>
<text x="141.25" y="873.10" font-size="7" text-anchor="middle" font-weight="bold" fill="#222">S</text>
<line x1="114.20" y1="817.10" x2="127.70" y2="832.40" stroke="#111" stroke-width="1.3"/>
<path d="M141.20,839.93 L137.63,843.50 L132.57,843.50 L129.00,839.93 L129.00,834.87 L132.57,831.30 L137.63,831.30 L141.20,834.87 Z" fill="#df2a1e"/>
<rect x="130.50" y="835.80" width="9.20" height="3.20" fill="#fff"/>
<ellipse cx="93.60" cy="809.50" rx="12.70" ry="4.80" fill="#8db39b"/>
<text x="93.60" y="811.62" font-size="5.9" text-anchor="middle" fill="#222" stroke="#222" stroke-width="0.18">Cyclin B</text>
<ellipse cx="100.60" cy="819.30" rx="9.90" ry="4.80" fill="#b3d8ea"/>
<text x="100.60" y="821.42" font-size="5.9" text-anchor="middle" fill="#222" stroke="#222" stroke-width="0.18">CDK1</text>
<line x1="108.90" y1="822.90" x2="119.03" y2="813.27" stroke="#e02020" stroke-width="1.2"/>
<path d="M121.20,811.20 L119.32,815.75 L119.10,813.20 L116.56,812.85 Z" fill="#e02020"/>
<ellipse cx="175.70" cy="877.20" rx="12.70" ry="4.60" fill="#8db39b"/>
<text x="175.70" y="879.32" font-size="5.9" text-anchor="middle" fill="#222" stroke="#222" stroke-width="0.18">Cyclin E</text>
<ellipse cx="175.30" cy="887.10" rx="10.30" ry="4.50" fill="#b3d8ea"/>
<text x="175.30" y="889.22" font-size="5.9" text-anchor="middle" fill="#222" stroke="#222" stroke-width="0.18">CDK2</text>
<line x1="167.20" y1="867.70" x2="156.81" y2="876.29" stroke="#e02020" stroke-width="1.2"/>
<path d="M154.50,878.20 L156.69,873.79 L156.74,876.35 L159.24,876.87 Z" fill="#e02020"/>
<ellipse cx="98.80" cy="883.90" rx="12.80" ry="4.80" fill="#c8461f" stroke="#7a2a10" stroke-width="0.6"/>
<text x="98.80" y="886.02" font-size="5.9" text-anchor="middle" fill="#fff" stroke="#fff" stroke-width="0.18">WEE1</text>
<line x1="102.30" y1="875.30" x2="97.20" y2="837.06" stroke="#aaaaaa" stroke-width="1.4" stroke-dasharray="3.5,3.5"/>
<path d="M96.60,832.60 L100.17,838.18 L97.18,836.96 L94.62,838.92 Z" fill="#aaaaaa"/>
<line x1="114.60" y1="883.50" x2="162.39" y2="893.39" stroke="#aaaaaa" stroke-width="1.4" stroke-dasharray="3.5,3.5"/>
<path d="M166.80,894.30 L160.36,895.83 L162.49,893.41 L161.49,890.34 Z" fill="#aaaaaa"/>
<line x1="99.00" y1="892.40" x2="99.00" y2="905.50" stroke="#222" stroke-width="0.9"/>
<line x1="96.00" y1="892.40" x2="102.00" y2="892.40" stroke="#222" stroke-width="0.9"/>
<text x="75.70" y="913.70" font-size="7.6" stroke="#1a1a1a" stroke-width="0.18">WEE1 inhibitor</text>
<line x1="142.00" y1="903.50" x2="142.00" y2="923.70" stroke="#111" stroke-width="0.9"/>
<path d="M142.00,927.70 L139.80,921.70 L142.00,923.20 L144.20,921.70 Z" fill="#111"/>
<path d="M280.00,710.50 C280.00,703.50 287.00,702.50 294.00,706.00 C300.00,710.00 306.00,713.50 313.00,713.60 L320.00,713.40 C340.00,707.00 350.00,705.00 360.00,705.50 C375.00,706.50 388.00,712.50 399.50,708.80" fill="none" stroke="#111" stroke-width="2.0" stroke-linecap="round"/>
<path d="M296.50,682.20 L297.10,688.80 L292.50,691.80 L296.50,695.80" fill="none" stroke="#1a1a1a" stroke-width="0.6"/>
<circle cx="297.10" cy="688.80" r="2.15" fill="#35b335" stroke="#1d4d1d" stroke-width="0.5"/>
<circle cx="292.50" cy="691.80" r="2.15" fill="#35b335" stroke="#1d4d1d" stroke-width="0.5"/>
<circle cx="296.50" cy="695.80" r="2.15" fill="#35b335" stroke="#1d4d1d" stroke-width="0.5"/>
<path d="M314.60,687.80 L317.10,693.50 L314.00,697.60 L319.00,700.70" fill="none" stroke="#1a1a1a" stroke-width="0.6"/>
<circle cx="317.10" cy="693.50" r="2.15" fill="#35b335" stroke="#1d4d1d" stroke-width="0.5"/>
<circle cx="314.00" cy="697.60" r="2.15" fill="#35b335" stroke="#1d4d1d" stroke-width="0.5"/>
<circle cx="319.00" cy="700.70" r="2.15" fill="#35b335" stroke="#1d4d1d" stroke-width="0.5"/>
<path d="M331.10,682.10 L332.60,685.30 L335.50,689.70 L331.70,693.50 L336.80,696.80" fill="none" stroke="#1a1a1a" stroke-width="0.6"/>
<circle cx="332.60" cy="685.30" r="2.15" fill="#35b335" stroke="#1d4d1d" stroke-width="0.5"/>
<circle cx="335.50" cy="689.70" r="2.15" fill="#35b335" stroke="#1d4d1d" stroke-width="0.5"/>
<circle cx="331.70" cy="693.50" r="2.15" fill="#35b335" stroke="#1d4d1d" stroke-width="0.5"/>
<circle cx="336.80" cy="696.80" r="2.15" fill="#35b335" stroke="#1d4d1d" stroke-width="0.5"/>
<path d="M364.90,685.90 L366.40,689.70 L368.90,693.50 L366.40,697.40 L370.60,701.10" fill="none" stroke="#1a1a1a" stroke-width="0.6"/>
<circle cx="366.40" cy="689.70" r="2.15" fill="#35b335" stroke="#1d4d1d" stroke-width="0.5"/>
<circle cx="368.90" cy="693.50" r="2.15" fill="#35b335" stroke="#1d4d1d" stroke-width="0.5"/>
<circle cx="366.40" cy="697.40" r="2.15" fill="#35b335" stroke="#1d4d1d" stroke-width="0.5"/>
<circle cx="370.60" cy="701.10" r="2.15" fill="#35b335" stroke="#1d4d1d" stroke-width="0.5"/>
<ellipse cx="300.20" cy="712.60" rx="7.30" ry="3.40" fill="#b3d7ea" stroke="#222" stroke-width="0.7" transform="rotate(8 300.20 712.60)"/>
<ellipse cx="302.20" cy="704.50" rx="8.80" ry="6.30" fill="#b3d7ea" stroke="#222" stroke-width="0.7" transform="rotate(15 302.20 704.50)"/>
<ellipse cx="327.20" cy="714.80" rx="7.30" ry="3.40" fill="#b3d7ea" stroke="#222" stroke-width="0.7" transform="rotate(8 327.20 714.80)"/>
<ellipse cx="328.00" cy="706.30" rx="8.80" ry="6.30" fill="#b3d7ea" stroke="#222" stroke-width="0.7" transform="rotate(5 328.00 706.30)"/>
<ellipse cx="346.00" cy="711.80" rx="7.30" ry="3.40" fill="#b3d7ea" stroke="#222" stroke-width="0.7" transform="rotate(8 346.00 711.80)"/>
<ellipse cx="345.20" cy="704.20" rx="8.80" ry="6.30" fill="#b3d7ea" stroke="#222" stroke-width="0.7" transform="rotate(-5 345.20 704.20)"/>
<ellipse cx="381.20" cy="714.90" rx="7.30" ry="3.40" fill="#b3d7ea" stroke="#222" stroke-width="0.7" transform="rotate(8 381.20 714.90)"/>
<ellipse cx="382.00" cy="707.30" rx="8.80" ry="6.30" fill="#b3d7ea" stroke="#222" stroke-width="0.7" transform="rotate(12 382.00 707.30)"/>
<text x="292.00" y="703.00" font-size="3.6" text-anchor="middle" fill="#888" stroke="#888" stroke-width="0.18">//</text>
<text x="290.80" y="712.50" font-size="3.6" text-anchor="middle" fill="#888" stroke="#888" stroke-width="0.18">//</text>
<text x="318.50" y="712.00" font-size="3.6" text-anchor="middle" fill="#888" stroke="#888" stroke-width="0.18">//</text>
<text x="320.00" y="719.50" font-size="3.6" text-anchor="middle" fill="#888" stroke="#888" stroke-width="0.18">//</text>
<text x="353.50" y="703.00" font-size="3.6" text-anchor="middle" fill="#888" stroke="#888" stroke-width="0.18">//</text>
<text x="353.50" y="711.00" font-size="3.6" text-anchor="middle" fill="#888" stroke="#888" stroke-width="0.18">//</text>
<path d="M319.60,715.30 C323.00,712.60 328.00,710.80 333.00,711.20 C336.00,711.60 337.50,713.20 340.20,711.40 C344.00,709.00 347.50,706.00 351.20,700.00" fill="none" stroke="#c4262b" stroke-width="4.8" stroke-linecap="round"/>
<text x="340.20" y="684.90" font-size="7.6" stroke="#1a1a1a" stroke-width="0.18">GCN1</text>
<line x1="352.00" y1="686.80" x2="351.20" y2="699.50" stroke="#222" stroke-width="0.6"/>
<path d="M337.4,713.4 C338,725 345,732 355.4,733.3" fill="none" stroke="#333" stroke-width="0.6"/>
<path d="M356,726.5 L362,726.3 Q365,726.5 364.6,733 Q364.5,740.2 361.5,740.6 L356.5,740.6 Q355,740.3 355.7,738.5 L358.8,731.5 Q357,730.5 355.8,729 Q355.3,727 356,726.5 Z" fill="#cc4a1c" stroke="#7a2a10" stroke-width="0.5"/>
<path d="M373.4,740.3 L367.4,740.5 Q364.4,740.3 364.8,733.8 Q364.9,726.6 367.9,726.2 L372.9,726.2 Q374.4,726.5 373.7,728.3 L370.6,735.3 Q372.4,736.3 373.6,737.8 Q374.1,739.8 373.4,740.3 Z" fill="#cc4a1c" stroke="#7a2a10" stroke-width="0.5"/>
<line x1="373.90" y1="738.40" x2="380.10" y2="738.40" stroke="#222" stroke-width="0.7"/>
<text x="382.70" y="740.40" font-size="7.5" stroke="#1a1a1a" stroke-width="0.18">GCN2 dimer (inactive)</text>
<text x="403.70" y="700.70" font-size="8.7" stroke="#1a1a1a" stroke-width="0.18">Homeostasis</text>
<text x="403.70" y="711.15" font-size="8.7" stroke="#1a1a1a" stroke-width="0.18">Ongoing translation</text>
<text x="403.70" y="721.60" font-size="8.7" stroke="#1a1a1a" stroke-width="0.18">Baseline stalling, collisions</text>
<line x1="337.60" y1="732.30" x2="337.60" y2="753.80" stroke="#111" stroke-width="0.9"/>
<path d="M337.60,757.80 L335.40,751.80 L337.60,753.30 L339.80,751.80 Z" fill="#111"/>
<path d="M279.40,793.50 C279.40,786.50 286.40,785.50 293.40,789.00 C299.40,793.00 305.40,796.50 312.40,796.60 L319.40,796.40 C339.40,790.00 349.40,788.00 359.40,788.50 C374.40,789.50 387.40,795.50 398.90,791.80" fill="none" stroke="#111" stroke-width="2.0" stroke-linecap="round"/>
<path d="M295.90,765.20 L296.50,771.80 L291.90,774.80 L295.90,778.80" fill="none" stroke="#1a1a1a" stroke-width="0.6"/>
<circle cx="296.50" cy="771.80" r="2.15" fill="#35b335" stroke="#1d4d1d" stroke-width="0.5"/>
<circle cx="291.90" cy="774.80" r="2.15" fill="#35b335" stroke="#1d4d1d" stroke-width="0.5"/>
<circle cx="295.90" cy="778.80" r="2.15" fill="#35b335" stroke="#1d4d1d" stroke-width="0.5"/>
<path d="M314.00,770.80 L316.50,776.50 L313.40,780.60 L318.40,783.70" fill="none" stroke="#1a1a1a" stroke-width="0.6"/>
<circle cx="316.50" cy="776.50" r="2.15" fill="#35b335" stroke="#1d4d1d" stroke-width="0.5"/>
<circle cx="313.40" cy="780.60" r="2.15" fill="#35b335" stroke="#1d4d1d" stroke-width="0.5"/>
<circle cx="318.40" cy="783.70" r="2.15" fill="#35b335" stroke="#1d4d1d" stroke-width="0.5"/>
<path d="M330.50,765.10 L332.00,768.30 L334.90,772.70 L331.10,776.50 L336.20,779.80" fill="none" stroke="#1a1a1a" stroke-width="0.6"/>
<circle cx="332.00" cy="768.30" r="2.15" fill="#35b335" stroke="#1d4d1d" stroke-width="0.5"/>
<circle cx="334.90" cy="772.70" r="2.15" fill="#35b335" stroke="#1d4d1d" stroke-width="0.5"/>
<circle cx="331.10" cy="776.50" r="2.15" fill="#35b335" stroke="#1d4d1d" stroke-width="0.5"/>
<circle cx="336.20" cy="779.80" r="2.15" fill="#35b335" stroke="#1d4d1d" stroke-width="0.5"/>
<path d="M364.30,768.90 L365.80,772.70 L368.30,776.50 L365.80,780.40 L370.00,784.10" fill="none" stroke="#1a1a1a" stroke-width="0.6"/>
<circle cx="365.80" cy="772.70" r="2.15" fill="#35b335" stroke="#1d4d1d" stroke-width="0.5"/>
<circle cx="368.30" cy="776.50" r="2.15" fill="#35b335" stroke="#1d4d1d" stroke-width="0.5"/>
<circle cx="365.80" cy="780.40" r="2.15" fill="#35b335" stroke="#1d4d1d" stroke-width="0.5"/>
<circle cx="370.00" cy="784.10" r="2.15" fill="#35b335" stroke="#1d4d1d" stroke-width="0.5"/>
<ellipse cx="299.60" cy="795.60" rx="7.30" ry="3.40" fill="#b3d7ea" stroke="#222" stroke-width="0.7" transform="rotate(8 299.60 795.60)"/>
<ellipse cx="301.60" cy="787.50" rx="8.80" ry="6.30" fill="#b3d7ea" stroke="#222" stroke-width="0.7" transform="rotate(15 301.60 787.50)"/>
<ellipse cx="326.60" cy="797.80" rx="7.30" ry="3.40" fill="#b3d7ea" stroke="#222" stroke-width="0.7" transform="rotate(8 326.60 797.80)"/>
<ellipse cx="327.40" cy="789.30" rx="8.80" ry="6.30" fill="#b3d7ea" stroke="#222" stroke-width="0.7" transform="rotate(5 327.40 789.30)"/>
<ellipse cx="345.40" cy="794.80" rx="7.30" ry="3.40" fill="#b3d7ea" stroke="#222" stroke-width="0.7" transform="rotate(8 345.40 794.80)"/>
<ellipse cx="344.60" cy="787.20" rx="8.80" ry="6.30" fill="#b3d7ea" stroke="#222" stroke-width="0.7" transform="rotate(-5 344.60 787.20)"/>
<ellipse cx="380.60" cy="797.90" rx="7.30" ry="3.40" fill="#b3d7ea" stroke="#222" stroke-width="0.7" transform="rotate(8 380.60 797.90)"/>
<ellipse cx="381.40" cy="790.30" rx="8.80" ry="6.30" fill="#b3d7ea" stroke="#222" stroke-width="0.7" transform="rotate(12 381.40 790.30)"/>
<text x="291.40" y="786.00" font-size="3.6" text-anchor="middle" fill="#888" stroke="#888" stroke-width="0.18">//</text>
<text x="290.20" y="795.50" font-size="3.6" text-anchor="middle" fill="#888" stroke="#888" stroke-width="0.18">//</text>
<text x="317.90" y="795.00" font-size="3.6" text-anchor="middle" fill="#888" stroke="#888" stroke-width="0.18">//</text>
<text x="319.40" y="802.50" font-size="3.6" text-anchor="middle" fill="#888" stroke="#888" stroke-width="0.18">//</text>
<text x="352.90" y="786.00" font-size="3.6" text-anchor="middle" fill="#888" stroke="#888" stroke-width="0.18">//</text>
<text x="352.90" y="794.00" font-size="3.6" text-anchor="middle" fill="#888" stroke="#888" stroke-width="0.18">//</text>
<path d="M319.00,798.30 C322.40,795.60 327.40,793.80 332.40,794.20 C335.40,794.60 336.90,796.20 339.60,794.40 C343.40,792.00 346.90,789.00 350.60,783.00" fill="none" stroke="#c4262b" stroke-width="4.8" stroke-linecap="round"/>
<text x="340.90" y="766.30" font-size="7.6" stroke="#1a1a1a" stroke-width="0.18">GCN1</text>
<line x1="352.00" y1="768.00" x2="351.00" y2="782.50" stroke="#222" stroke-width="0.6"/>
<g transform="translate(0.00,0.00)">
<path d="M328.3,795.6 L334.4,795.3 Q335.6,795.6 335.1,797.2 Q333.2,801 333.9,805 Q334.6,809.5 336.4,811.6 Q336.4,813 334.8,813 L327.2,813 Q325.6,812.9 325.8,811.2 Q326.4,804 327.2,797.2 Q327.3,795.8 328.3,795.6 Z" fill="#cc4a1c" stroke="#7a2a10" stroke-width="0.5"/>
<path d="M338.4,795.3 L344.8,795.4 Q346.4,795.6 346.7,797 Q345,798.4 342.8,800.6 Q345.8,805 348.1,811 Q348.2,812.9 346.6,813 L338.4,813 Q336.8,813 336.9,811.4 Q337.4,803.5 337.4,797 Q337.5,795.4 338.4,795.3 Z" fill="#cc4a1c" stroke="#7a2a10" stroke-width="0.5"/>
</g>
<circle cx="327.30" cy="801.80" r="2.00" fill="#2b2f9a" stroke="#111" stroke-width="0.4"/>
<line x1="326.00" y1="803.50" x2="320.50" y2="811.00" stroke="#222" stroke-width="0.6"/>
<text x="274.70" y="816.60" font-size="7.5" stroke="#1a1a1a" stroke-width="0.18">WEE1 inhibitor</text>
<line x1="347.60" y1="810.80" x2="353.50" y2="810.80" stroke="#222" stroke-width="0.7"/>
<text x="355.30" y="813.40" font-size="7.5" stroke="#1a1a1a" stroke-width="0.18">GCN2 dimer (primed)</text>
<text x="402.70" y="787.20" font-size="8.7" stroke="#1a1a1a" stroke-width="0.18">GCN2 conformation change,</text>
<text x="402.70" y="797.70" font-size="8.7" stroke="#1a1a1a" stroke-width="0.18">autophosphorylation</text>
<line x1="337.40" y1="819.60" x2="337.40" y2="841.00" stroke="#111" stroke-width="0.9"/>
<path d="M337.40,845.00 L335.20,839.00 L337.40,840.50 L339.60,839.00 Z" fill="#111"/>
<path d="M279.60,878.50 C279.60,871.50 286.60,870.50 293.60,874.00 C299.60,878.00 305.60,881.50 312.60,881.60 L319.60,881.40 C339.60,875.00 349.60,873.00 359.60,873.50 C374.60,874.50 387.60,880.50 399.10,876.80" fill="none" stroke="#111" stroke-width="2.0" stroke-linecap="round"/>
<path d="M296.10,850.20 L296.70,856.80 L292.10,859.80 L296.10,863.80" fill="none" stroke="#1a1a1a" stroke-width="0.6"/>
<circle cx="296.70" cy="856.80" r="2.15" fill="#35b335" stroke="#1d4d1d" stroke-width="0.5"/>
<circle cx="292.10" cy="859.80" r="2.15" fill="#35b335" stroke="#1d4d1d" stroke-width="0.5"/>
<circle cx="296.10" cy="863.80" r="2.15" fill="#35b335" stroke="#1d4d1d" stroke-width="0.5"/>
<path d="M314.20,855.80 L316.70,861.50 L313.60,865.60 L318.60,868.70" fill="none" stroke="#1a1a1a" stroke-width="0.6"/>
<circle cx="316.70" cy="861.50" r="2.15" fill="#35b335" stroke="#1d4d1d" stroke-width="0.5"/>
<circle cx="313.60" cy="865.60" r="2.15" fill="#35b335" stroke="#1d4d1d" stroke-width="0.5"/>
<circle cx="318.60" cy="868.70" r="2.15" fill="#35b335" stroke="#1d4d1d" stroke-width="0.5"/>
<path d="M330.70,850.10 L332.20,853.30 L335.10,857.70 L331.30,861.50 L336.40,864.80" fill="none" stroke="#1a1a1a" stroke-width="0.6"/>
<circle cx="332.20" cy="853.30" r="2.15" fill="#35b335" stroke="#1d4d1d" stroke-width="0.5"/>
<circle cx="335.10" cy="857.70" r="2.15" fill="#35b335" stroke="#1d4d1d" stroke-width="0.5"/>
<circle cx="331.30" cy="861.50" r="2.15" fill="#35b335" stroke="#1d4d1d" stroke-width="0.5"/>
<circle cx="336.40" cy="864.80" r="2.15" fill="#35b335" stroke="#1d4d1d" stroke-width="0.5"/>
<path d="M364.50,853.90 L366.00,857.70 L368.50,861.50 L366.00,865.40 L370.20,869.10" fill="none" stroke="#1a1a1a" stroke-width="0.6"/>
<circle cx="366.00" cy="857.70" r="2.15" fill="#35b335" stroke="#1d4d1d" stroke-width="0.5"/>
<circle cx="368.50" cy="861.50" r="2.15" fill="#35b335" stroke="#1d4d1d" stroke-width="0.5"/>
<circle cx="366.00" cy="865.40" r="2.15" fill="#35b335" stroke="#1d4d1d" stroke-width="0.5"/>
<circle cx="370.20" cy="869.10" r="2.15" fill="#35b335" stroke="#1d4d1d" stroke-width="0.5"/>
<ellipse cx="299.80" cy="880.60" rx="7.30" ry="3.40" fill="#b3d7ea" stroke="#222" stroke-width="0.7" transform="rotate(8 299.80 880.60)"/>
<ellipse cx="301.80" cy="872.50" rx="8.80" ry="6.30" fill="#b3d7ea" stroke="#222" stroke-width="0.7" transform="rotate(15 301.80 872.50)"/>
<ellipse cx="326.80" cy="882.80" rx="7.30" ry="3.40" fill="#b3d7ea" stroke="#222" stroke-width="0.7" transform="rotate(8 326.80 882.80)"/>
<ellipse cx="327.60" cy="874.30" rx="8.80" ry="6.30" fill="#b3d7ea" stroke="#222" stroke-width="0.7" transform="rotate(5 327.60 874.30)"/>
<ellipse cx="345.60" cy="879.80" rx="7.30" ry="3.40" fill="#b3d7ea" stroke="#222" stroke-width="0.7" transform="rotate(8 345.60 879.80)"/>
<ellipse cx="344.80" cy="872.20" rx="8.80" ry="6.30" fill="#b3d7ea" stroke="#222" stroke-width="0.7" transform="rotate(-5 344.80 872.20)"/>
<ellipse cx="380.80" cy="882.90" rx="7.30" ry="3.40" fill="#b3d7ea" stroke="#222" stroke-width="0.7" transform="rotate(8 380.80 882.90)"/>
<ellipse cx="381.60" cy="875.30" rx="8.80" ry="6.30" fill="#b3d7ea" stroke="#222" stroke-width="0.7" transform="rotate(12 381.60 875.30)"/>
<text x="291.60" y="871.00" font-size="3.6" text-anchor="middle" fill="#888" stroke="#888" stroke-width="0.18">//</text>
<text x="290.40" y="880.50" font-size="3.6" text-anchor="middle" fill="#888" stroke="#888" stroke-width="0.18">//</text>
<text x="318.10" y="880.00" font-size="3.6" text-anchor="middle" fill="#888" stroke="#888" stroke-width="0.18">//</text>
<text x="319.60" y="887.50" font-size="3.6" text-anchor="middle" fill="#888" stroke="#888" stroke-width="0.18">//</text>
<text x="353.10" y="871.00" font-size="3.6" text-anchor="middle" fill="#888" stroke="#888" stroke-width="0.18">//</text>
<text x="353.10" y="879.00" font-size="3.6" text-anchor="middle" fill="#888" stroke="#888" stroke-width="0.18">//</text>
<path d="M319.20,883.30 C322.60,880.60 327.60,878.80 332.60,879.20 C335.60,879.60 337.10,881.20 339.80,879.40 C343.60,877.00 347.10,874.00 350.80,868.00" fill="none" stroke="#c4262b" stroke-width="4.8" stroke-linecap="round"/>
<text x="341.40" y="851.00" font-size="7.6" stroke="#1a1a1a" stroke-width="0.18">GCN1</text>
<line x1="352.30" y1="853.00" x2="351.50" y2="867.50" stroke="#222" stroke-width="0.6"/>
<g transform="translate(0.80,85.60)">
<path d="M328.3,795.6 L334.4,795.3 Q335.6,795.6 335.1,797.2 Q333.2,801 333.9,805 Q334.6,809.5 336.4,811.6 Q336.4,813 334.8,813 L327.2,813 Q325.6,812.9 325.8,811.2 Q326.4,804 327.2,797.2 Q327.3,795.8 328.3,795.6 Z" fill="#cc4a1c" stroke="#7a2a10" stroke-width="0.5"/>
<path d="M338.4,795.3 L344.8,795.4 Q346.4,795.6 346.7,797 Q345,798.4 342.8,800.6 Q345.8,805 348.1,811 Q348.2,812.9 346.6,813 L338.4,813 Q336.8,813 336.9,811.4 Q337.4,803.5 337.4,797 Q337.5,795.4 338.4,795.3 Z" fill="#cc4a1c" stroke="#7a2a10" stroke-width="0.5"/>
</g>
<circle cx="327.60" cy="886.80" r="2.00" fill="#2b2f9a" stroke="#111" stroke-width="0.4"/>
<line x1="326.00" y1="888.50" x2="321.00" y2="895.00" stroke="#222" stroke-width="0.6"/>
<path d="M346.6,885.6 L348.8,887.8 L346.6,890 L344.4,887.8 Z" fill="#f5d21a" stroke="#8a7a10" stroke-width="0.4"/>
<line x1="349.50" y1="887.80" x2="356.50" y2="887.80" stroke="#222" stroke-width="0.7"/>
<text x="358.70" y="889.60" font-size="7.6" stroke="#1a1a1a" stroke-width="0.18">ATP</text>
<text x="274.70" y="898.80" font-size="7.5" stroke="#1a1a1a" stroke-width="0.18">WEE1 inhibitor</text>
<line x1="348.50" y1="896.50" x2="353.50" y2="896.50" stroke="#222" stroke-width="0.7"/>
<text x="355.30" y="898.80" font-size="7.5" stroke="#1a1a1a" stroke-width="0.18">GCN2 dimer (active)</text>
<circle cx="343.00" cy="901.60" r="2.20" fill="#fff" stroke="#555" stroke-width="0.5"/>
<text x="343.00" y="902.90" font-size="3.4" text-anchor="middle" fill="#555" stroke="#555" stroke-width="0.18">P</text>
<text x="402.70" y="878.70" font-size="8.7" stroke="#1a1a1a" stroke-width="0.18">GCN2 activation</text>
<line x1="337.40" y1="904.50" x2="337.40" y2="923.00" stroke="#111" stroke-width="0.9"/>
<path d="M337.40,927.00 L335.20,921.00 L337.40,922.50 L339.60,921.00 Z" fill="#111"/>
<text x="75.70" y="945.50" font-size="10" stroke="#1a1a1a" stroke-width="0.18">• Replication stress</text>
<text x="75.70" y="957.50" font-size="10" stroke="#1a1a1a" stroke-width="0.18">• Accumulation of DNA damage</text>
<text x="75.70" y="969.50" font-size="10" stroke="#1a1a1a" stroke-width="0.18">• Mitotic catastrophe</text>
<text x="230.00" y="949.80" font-size="10" stroke="#1a1a1a" stroke-width="0.18">• Activation of the integrated stress response (e.g. ATF4 induction)</text>
<text x="230.00" y="961.60" font-size="10" stroke="#1a1a1a" stroke-width="0.18">• Attenuation of global mRNA translation</text>
</g>
</svg>
</body></html>
